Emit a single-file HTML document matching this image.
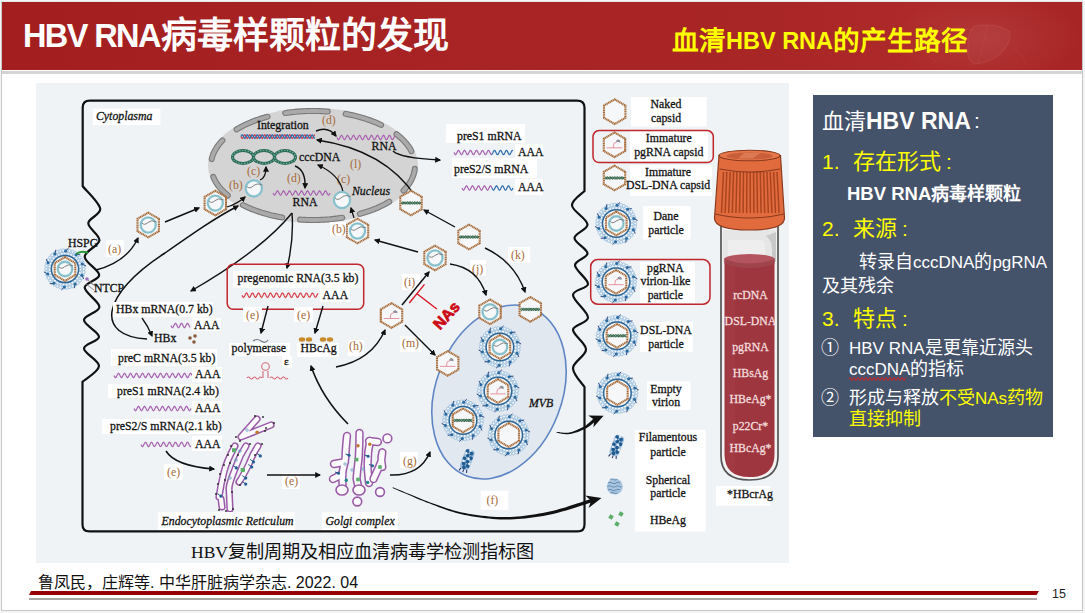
<!DOCTYPE html>
<html lang="zh-CN"><head><meta charset="utf-8"><title>HBV RNA</title>
<style>
*{margin:0;padding:0;box-sizing:border-box}
html,body{width:1085px;height:613px;overflow:hidden;background:#f4f4f4;font-family:"Liberation Sans",sans-serif}
#slide{position:absolute;left:1px;top:1px;width:1082px;height:610px;background:#fff;border-left:1px solid #c8c8c8;border-bottom:1px solid #c8c8c8;border-top:1px solid #e2e8ea;border-right:1px solid #c6c6c6}
#hdr{position:absolute;left:2px;top:2px;width:1080px;height:68px;background:linear-gradient(90deg,#a31f1f 0%,#a82424 40%,#a92626 70%,#ae2a2a 85%,#a82525 100%)}
#hdrline{position:absolute;left:2px;top:71px;width:1080px;height:3px;background:#d4d4d4}
.t{position:absolute;white-space:nowrap;line-height:1}
#title{left:23px;top:17px;color:#fff;font-weight:bold;font-size:32.5px;letter-spacing:-1.6px}
#title .c{font-size:36px;letter-spacing:0;position:relative;top:1px;margin-left:1px}
#sub{left:672px;top:27px;color:#ffff00;font-weight:bold;font-size:23.5px}
#sub .c{font-size:26.6px;position:relative;top:1px}
#box{position:absolute;left:813px;top:95px;width:240px;height:342px;background:#44526a}
#ref{left:38px;top:575px;font-size:16px;color:#111}
#redline{position:absolute;left:29px;top:591px;width:1010px;height:4px;background:#960000;clip-path:polygon(2px 0,100% 0,calc(100% - 2.5px) 100%,0 100%)}
#grayline{position:absolute;left:29px;top:598px;width:1008px;height:1.5px;background:#a8a8a8}
#pn{left:1052px;top:588px;font-size:12.5px;color:#222}
#cap{left:191px;top:542.5px;font-size:17.5px;color:#111;font-family:"Liberation Serif",serif}
#cap .c{font-family:"Liberation Sans",sans-serif;font-size:18.2px}
svg{position:absolute;left:0;top:0}
.bt{position:absolute;white-space:nowrap;line-height:1;color:#fff}
.y{color:#ffff00}
.c18{font-size:18px}
</style></head><body>
<div id="slide"></div>
<div id="hdr"><svg width="1080" height="68" viewBox="0 0 1080 68" style="position:absolute;left:0;top:0">
<defs><radialGradient id="hg" cx="0.5" cy="0.5" r="0.5"><stop offset="0" stop-color="#ffffff" stop-opacity="0.07"/><stop offset="1" stop-color="#ffffff" stop-opacity="0"/></radialGradient></defs>
<ellipse cx="985" cy="36" rx="95" ry="45" fill="url(#hg)"/>
<path d="M972,24 Q995,20 1008,30 Q1010,40 998,52 Q985,62 972,62 Q964,58 966,44 Q966,30 972,24 Z" fill="#ffffff" fill-opacity="0.035" stroke="#ffb0a0" stroke-opacity="0.09" stroke-width="1.2"/>
<path d="M972,28 Q950,22 925,34 Q915,48 935,60 M985,23 Q982,45 975,62 M1010,46 Q1022,52 1024,62" fill="none" stroke="#ffb0a0" stroke-opacity="0.06" stroke-width="1.2"/>
</svg></div>
<div id="hdrline"></div>
<div class="t" id="title">HBV RNA<span class="c">病毒样颗粒的发现</span></div>
<div class="t" id="sub"><span class="c">血清</span>HBV RNA<span class="c">的产生路径</span></div>
<svg width="1085" height="613" viewBox="0 0 1085 613">
<defs><marker id="ah" viewBox="0 0 10 10" refX="8" refY="5" markerWidth="6" markerHeight="6" orient="auto-start-reverse" markerUnits="userSpaceOnUse"><path d="M0,0 L10,5 L0,10 z" fill="#111"/></marker><marker id="ahb" viewBox="0 0 10 10" refX="7" refY="5" markerWidth="14" markerHeight="14" orient="auto" markerUnits="userSpaceOnUse"><path d="M0,0 L10,5 L0,10 z" fill="#111"/></marker></defs>
<rect x="36" y="83" width="753" height="480" fill="#eff3f6"/>
<path d="M90,100.6 L577,100.6 Q584.5,100.6 584.5,107.6 L584.5,191 C582.4,193.4 571.5,199.9 572.0,205.5 C572.5,211.1 587.1,218.9 587.5,224.3 C587.9,229.7 574.5,233.2 574.5,238.0 C574.5,242.8 587.4,248.8 587.5,253.4 C587.6,257.9 574.9,260.2 575.0,265.3 C575.1,270.4 588.3,279.1 588.0,284.0 C587.7,288.9 573.0,289.4 573.0,295.0 C573.0,300.6 588.0,311.7 588.0,317.5 C588.0,323.3 573.3,324.4 573.0,329.7 C572.7,335.0 586.0,343.0 586.0,349.4 C586.0,355.8 573.2,361.7 573.0,368.0 C572.8,374.3 582.6,383.8 584.5,387.0 L584.5,524.4 Q584.5,531.4 577.5,531.4 L89.5,531.4 Q82.5,531.4 82.5,524.4 L82.5,381.8 C85.2,379.2 98.8,371.6 99.0,366.0 C99.2,360.4 84.0,353.3 84.0,348.4 C84.0,343.5 99.0,341.4 99.0,336.7 C99.0,332.0 83.9,324.9 84.0,320.0 C84.1,315.1 99.3,312.4 99.4,307.0 C99.5,301.6 84.7,292.9 84.7,287.6 C84.7,282.3 99.2,280.1 99.2,275.0 C99.2,269.9 84.7,262.5 84.7,256.7 C84.7,250.9 98.8,246.0 99.4,240.4 C100.0,234.8 88.2,228.6 88.3,223.3 C88.4,218.0 101.1,214.8 100.2,208.6 C99.3,202.4 85.6,189.9 82.7,186.2 L82.7,107.6 Q82.7,100.6 89.7,100.6 Z" fill="none" stroke="#111" stroke-width="2.2"/>
<rect x="92.8" y="108.7" width="67.60000000000001" height="16.299999999999997" fill="#ffffff"/>
<text x="96" y="119.5" font-family="Liberation Serif" font-size="11.8" fill="#111" text-anchor="start" font-style="italic" stroke="#111" stroke-width="0.28">Cytoplasma</text>
<ellipse cx="313" cy="165.5" rx="105" ry="57.5" fill="#d4d4d4"/>
<path d="M389.3,201.7 L388.1,202.4 L386.8,203.1 L385.5,203.9 L384.1,204.6 L382.8,205.2 L381.4,205.9 L380.0,206.6 L378.6,207.2 L377.1,207.9 L375.7,208.5 L374.2,209.1 L372.7,209.7 L371.1,210.3 L369.6,210.9 L368.0,211.4 L366.4,211.9 L364.8,212.4 L363.2,212.9 L361.5,213.4 L359.9,213.9 M342.3,217.7 L340.3,218.0 L338.2,218.3 L336.1,218.6 L334.0,218.8 L332.0,219.1 L329.9,219.3 L327.8,219.4 L325.6,219.6 L323.5,219.7 L321.4,219.8 L319.3,219.9 L317.1,220.0 L315.0,220.0 L312.9,220.0 L310.8,220.0 L308.6,219.9 L306.5,219.9 L304.4,219.8 L302.2,219.7 L300.1,219.6 M282.3,217.5 L280.1,217.1 L277.9,216.7 L275.8,216.2 L273.6,215.8 L271.5,215.3 L269.4,214.8 L267.4,214.2 L265.3,213.7 L263.3,213.1 L261.3,212.5 L259.3,211.8 L257.4,211.2 L255.5,210.5 L253.6,209.8 L251.7,209.1 L249.9,208.3 L248.1,207.6 L246.4,206.8 L244.6,205.9 L242.9,205.1 M227.8,195.5 L226.8,194.6 L225.8,193.7 L224.8,192.9 L223.9,192.0 L223.0,191.1 L222.1,190.2 L221.2,189.3 L220.4,188.4 L219.7,187.5 L218.9,186.5 L218.2,185.6 L217.5,184.7 L216.9,183.7 L216.3,182.8 L215.7,181.8 L215.1,180.8 L214.6,179.9 L214.1,178.9 L213.7,177.9 L213.3,176.9 M211.7,159.1 L211.9,158.1 L212.2,157.1 L212.5,156.2 L212.8,155.2 L213.2,154.2 L213.6,153.3 L214.0,152.3 L214.5,151.4 L215.0,150.4 L215.5,149.5 L216.1,148.6 L216.6,147.6 L217.3,146.7 L217.9,145.8 L218.6,144.9 L219.3,144.0 L220.0,143.1 L220.8,142.2 L221.6,141.3 L222.4,140.4 M236.6,129.4 L237.9,128.6 L239.2,127.9 L240.6,127.1 L242.0,126.4 L243.4,125.6 L244.9,124.9 L246.4,124.2 L247.9,123.6 L249.4,122.9 L250.9,122.3 L252.5,121.6 L254.1,121.0 L255.7,120.4 L257.3,119.8 L259.0,119.3 L260.7,118.7 L262.4,118.2 L264.1,117.7 L265.8,117.2 L267.6,116.7 M285.2,113.1 L287.2,112.8 L289.3,112.5 L291.4,112.2 L293.5,112.0 L295.6,111.8 L297.8,111.6 L299.9,111.5 L302.0,111.3 L304.2,111.2 L306.3,111.1 L308.5,111.1 L310.6,111.0 L312.8,111.0 L314.9,111.0 L317.1,111.0 L319.2,111.1 L321.4,111.2 L323.5,111.3 L325.6,111.4 L327.8,111.6 M345.6,113.9 L347.5,114.2 L349.5,114.6 L351.4,115.0 L353.3,115.4 L355.2,115.9 L357.1,116.4 L359.0,116.8 L360.8,117.4 L362.6,117.9 L364.4,118.4 L366.2,119.0 L367.9,119.6 L369.7,120.2 L371.4,120.8 L373.1,121.5 L374.7,122.1 L376.4,122.8 L378.0,123.5 L379.6,124.2 L381.1,124.9 M396.5,134.2 L397.5,135.0 L398.5,135.8 L399.4,136.6 L400.4,137.4 L401.3,138.2 L402.1,139.0 L403.0,139.8 L403.8,140.7 L404.6,141.5 L405.4,142.4 L406.1,143.2 L406.8,144.1 L407.5,145.0 L408.1,145.9 L408.8,146.7 L409.4,147.6 L409.9,148.5 L410.5,149.4 L411.0,150.3 L411.4,151.2 M414.8,168.8 L414.7,170.0 L414.5,171.1 L414.2,172.3 L413.9,173.4 L413.6,174.5 L413.2,175.6 L412.8,176.7 L412.3,177.9 L411.8,179.0 L411.3,180.1 L410.7,181.2 L410.1,182.2 L409.4,183.3 L408.7,184.4 L407.9,185.5 L407.1,186.5 L406.3,187.6 L405.4,188.6 L404.5,189.6 L403.5,190.6" fill="none" stroke="#7a7a7a" stroke-width="6" stroke-linecap="round"/>
<path d="M389.3,201.7 L388.1,202.4 L386.8,203.1 L385.5,203.9 L384.1,204.6 L382.8,205.2 L381.4,205.9 L380.0,206.6 L378.6,207.2 L377.1,207.9 L375.7,208.5 L374.2,209.1 L372.7,209.7 L371.1,210.3 L369.6,210.9 L368.0,211.4 L366.4,211.9 L364.8,212.4 L363.2,212.9 L361.5,213.4 L359.9,213.9 M342.3,217.7 L340.3,218.0 L338.2,218.3 L336.1,218.6 L334.0,218.8 L332.0,219.1 L329.9,219.3 L327.8,219.4 L325.6,219.6 L323.5,219.7 L321.4,219.8 L319.3,219.9 L317.1,220.0 L315.0,220.0 L312.9,220.0 L310.8,220.0 L308.6,219.9 L306.5,219.9 L304.4,219.8 L302.2,219.7 L300.1,219.6 M282.3,217.5 L280.1,217.1 L277.9,216.7 L275.8,216.2 L273.6,215.8 L271.5,215.3 L269.4,214.8 L267.4,214.2 L265.3,213.7 L263.3,213.1 L261.3,212.5 L259.3,211.8 L257.4,211.2 L255.5,210.5 L253.6,209.8 L251.7,209.1 L249.9,208.3 L248.1,207.6 L246.4,206.8 L244.6,205.9 L242.9,205.1 M227.8,195.5 L226.8,194.6 L225.8,193.7 L224.8,192.9 L223.9,192.0 L223.0,191.1 L222.1,190.2 L221.2,189.3 L220.4,188.4 L219.7,187.5 L218.9,186.5 L218.2,185.6 L217.5,184.7 L216.9,183.7 L216.3,182.8 L215.7,181.8 L215.1,180.8 L214.6,179.9 L214.1,178.9 L213.7,177.9 L213.3,176.9 M211.7,159.1 L211.9,158.1 L212.2,157.1 L212.5,156.2 L212.8,155.2 L213.2,154.2 L213.6,153.3 L214.0,152.3 L214.5,151.4 L215.0,150.4 L215.5,149.5 L216.1,148.6 L216.6,147.6 L217.3,146.7 L217.9,145.8 L218.6,144.9 L219.3,144.0 L220.0,143.1 L220.8,142.2 L221.6,141.3 L222.4,140.4 M236.6,129.4 L237.9,128.6 L239.2,127.9 L240.6,127.1 L242.0,126.4 L243.4,125.6 L244.9,124.9 L246.4,124.2 L247.9,123.6 L249.4,122.9 L250.9,122.3 L252.5,121.6 L254.1,121.0 L255.7,120.4 L257.3,119.8 L259.0,119.3 L260.7,118.7 L262.4,118.2 L264.1,117.7 L265.8,117.2 L267.6,116.7 M285.2,113.1 L287.2,112.8 L289.3,112.5 L291.4,112.2 L293.5,112.0 L295.6,111.8 L297.8,111.6 L299.9,111.5 L302.0,111.3 L304.2,111.2 L306.3,111.1 L308.5,111.1 L310.6,111.0 L312.8,111.0 L314.9,111.0 L317.1,111.0 L319.2,111.1 L321.4,111.2 L323.5,111.3 L325.6,111.4 L327.8,111.6 M345.6,113.9 L347.5,114.2 L349.5,114.6 L351.4,115.0 L353.3,115.4 L355.2,115.9 L357.1,116.4 L359.0,116.8 L360.8,117.4 L362.6,117.9 L364.4,118.4 L366.2,119.0 L367.9,119.6 L369.7,120.2 L371.4,120.8 L373.1,121.5 L374.7,122.1 L376.4,122.8 L378.0,123.5 L379.6,124.2 L381.1,124.9 M396.5,134.2 L397.5,135.0 L398.5,135.8 L399.4,136.6 L400.4,137.4 L401.3,138.2 L402.1,139.0 L403.0,139.8 L403.8,140.7 L404.6,141.5 L405.4,142.4 L406.1,143.2 L406.8,144.1 L407.5,145.0 L408.1,145.9 L408.8,146.7 L409.4,147.6 L409.9,148.5 L410.5,149.4 L411.0,150.3 L411.4,151.2 M414.8,168.8 L414.7,170.0 L414.5,171.1 L414.2,172.3 L413.9,173.4 L413.6,174.5 L413.2,175.6 L412.8,176.7 L412.3,177.9 L411.8,179.0 L411.3,180.1 L410.7,181.2 L410.1,182.2 L409.4,183.3 L408.7,184.4 L407.9,185.5 L407.1,186.5 L406.3,187.6 L405.4,188.6 L404.5,189.6 L403.5,190.6" fill="none" stroke="#aaaaaa" stroke-width="3.8" stroke-linecap="round"/>
<text x="257" y="129" font-family="Liberation Serif" font-size="11.8" fill="#111" text-anchor="start" stroke="#111" stroke-width="0.28">Integration</text>
<path d="M241.0,136.6 L241.6,137.9 L242.3,138.4 L242.9,137.9 L243.5,136.6 L244.1,135.3 L244.8,134.8 L245.4,135.4 L246.0,136.6 L246.6,137.9 L247.3,138.4 L247.9,137.8 L248.5,136.5 L249.2,135.3 L249.8,134.8 L250.4,135.4 L251.0,136.7 L251.7,137.9 L252.3,138.4 L252.9,137.8 L253.5,136.5 L254.2,135.3 L254.8,134.8 L255.4,135.4 L256.1,136.7 L256.7,138.0 L257.3,138.4 L257.9,137.8 L258.6,136.5 L259.2,135.2 L259.8,134.8 L260.4,135.4 L261.1,136.8 L261.7,138.0 L262.3,138.4 L262.9,137.7 L263.6,136.4 L264.2,135.2 L264.8,134.8 L265.5,135.5 L266.1,136.8 L266.7,138.0 L267.3,138.4 L268.0,137.7 L268.6,136.4 L269.2,135.2 L269.8,134.8 L270.5,135.5 L271.1,136.8 L271.7,138.0 L272.4,138.4 L273.0,137.7 L273.6,136.4 L274.2,135.2 L274.9,134.8 L275.5,135.5 L276.1,136.9 L276.7,138.1 L277.4,138.4 L278.0,137.7 L278.6,136.3 L279.3,135.1 L279.9,134.8 L280.5,135.6 L281.1,136.9 L281.8,138.1 L282.4,138.4 L283.0,137.6 L283.6,136.3 L284.3,135.1 L284.9,134.8 L285.5,135.6 L286.2,136.9 L286.8,138.1 L287.4,138.4 L288.0,137.6 L288.7,136.2 L289.3,135.1 L289.9,134.8 L290.5,135.6 L291.2,137.0 L291.8,138.1 L292.4,138.4 L293.1,137.6 L293.7,136.2 L294.3,135.1 L294.9,134.8 L295.6,135.7 L296.2,137.0 L296.8,138.1 L297.4,138.3 L298.1,137.5 L298.7,136.2 L299.3,135.1 L299.9,134.9 L300.6,135.7 L301.2,137.1 L301.8,138.2 L302.5,138.3 L303.1,137.5 L303.7,136.1 L304.3,135.0 L305.0,134.9 L305.6,135.7 L306.2,137.1 L306.8,138.2 L307.5,138.3 L308.1,137.5 L308.7,136.1 L309.4,135.0 L310.0,134.9 L310.6,135.8 L311.2,137.1 L311.9,138.2 L312.5,138.3 L313.1,137.4 L313.7,136.1 L314.4,135.0 L315.0,134.9" fill="none" stroke="#d04050" stroke-width="1.3"/>
<path d="M241.0,136.6 L241.6,135.3 L242.3,134.8 L242.9,135.3 L243.5,136.6 L244.1,137.9 L244.8,138.4 L245.4,137.8 L246.0,136.6 L246.6,135.3 L247.3,134.8 L247.9,135.4 L248.5,136.7 L249.2,137.9 L249.8,138.4 L250.4,137.8 L251.0,136.5 L251.7,135.3 L252.3,134.8 L252.9,135.4 L253.5,136.7 L254.2,137.9 L254.8,138.4 L255.4,137.8 L256.1,136.5 L256.7,135.2 L257.3,134.8 L257.9,135.4 L258.6,136.7 L259.2,138.0 L259.8,138.4 L260.4,137.8 L261.1,136.4 L261.7,135.2 L262.3,134.8 L262.9,135.5 L263.6,136.8 L264.2,138.0 L264.8,138.4 L265.5,137.7 L266.1,136.4 L266.7,135.2 L267.3,134.8 L268.0,135.5 L268.6,136.8 L269.2,138.0 L269.8,138.4 L270.5,137.7 L271.1,136.4 L271.7,135.2 L272.4,134.8 L273.0,135.5 L273.6,136.8 L274.2,138.0 L274.9,138.4 L275.5,137.7 L276.1,136.3 L276.7,135.1 L277.4,134.8 L278.0,135.5 L278.6,136.9 L279.3,138.1 L279.9,138.4 L280.5,137.6 L281.1,136.3 L281.8,135.1 L282.4,134.8 L283.0,135.6 L283.6,136.9 L284.3,138.1 L284.9,138.4 L285.5,137.6 L286.2,136.3 L286.8,135.1 L287.4,134.8 L288.0,135.6 L288.7,137.0 L289.3,138.1 L289.9,138.4 L290.5,137.6 L291.2,136.2 L291.8,135.1 L292.4,134.8 L293.1,135.6 L293.7,137.0 L294.3,138.1 L294.9,138.4 L295.6,137.5 L296.2,136.2 L296.8,135.1 L297.4,134.9 L298.1,135.7 L298.7,137.0 L299.3,138.1 L299.9,138.3 L300.6,137.5 L301.2,136.1 L301.8,135.0 L302.5,134.9 L303.1,135.7 L303.7,137.1 L304.3,138.2 L305.0,138.3 L305.6,137.5 L306.2,136.1 L306.8,135.0 L307.5,134.9 L308.1,135.7 L308.7,137.1 L309.4,138.2 L310.0,138.3 L310.6,137.4 L311.2,136.1 L311.9,135.0 L312.5,134.9 L313.1,135.8 L313.7,137.1 L314.4,138.2 L315.0,138.3" fill="none" stroke="#3070b0" stroke-width="1.3"/>
<text x="322" y="124" font-family="Liberation Serif" font-size="11.8" fill="#a66b38" text-anchor="start">(d)</text>
<path d="M316,131 Q328,126 336,136" fill="none" stroke="#111" stroke-width="1.5" marker-end="url(#ah)"/>
<path d="M337.0,137.5 L337.8,139.1 L338.5,139.7 L339.3,139.0 L340.0,137.5 L340.8,135.9 L341.5,135.3 L342.3,136.0 L343.0,137.6 L343.8,139.1 L344.5,139.7 L345.3,139.0 L346.0,137.4 L346.8,135.9 L347.5,135.3 L348.3,136.0 L349.1,137.6 L349.8,139.1 L350.6,139.7 L351.3,139.0 L352.1,137.4 L352.8,135.8 L353.6,135.3 L354.3,136.1 L355.1,137.7 L355.8,139.2 L356.6,139.7 L357.3,138.9 L358.1,137.3 L358.8,135.8 L359.6,135.3 L360.4,136.1 L361.1,137.7 L361.9,139.2 L362.6,139.7 L363.4,138.9 L364.1,137.2 L364.9,135.8 L365.6,135.3 L366.4,136.2 L367.1,137.8 L367.9,139.3 L368.6,139.7 L369.4,138.8 L370.1,137.2 L370.9,135.7 L371.6,135.3 L372.4,136.2 L373.2,137.9 L373.9,139.3 L374.7,139.7 L375.4,138.8 L376.2,137.1 L376.9,135.7 L377.7,135.3 L378.4,136.3 L379.2,137.9 L379.9,139.3 L380.7,139.7 L381.4,138.7 L382.2,137.1 L382.9,135.7 L383.7,135.3 L384.5,136.3 L385.2,138.0 L386.0,139.4 L386.7,139.6 L387.5,138.7 L388.2,137.0 L389.0,135.6 L389.7,135.4 L390.5,136.4 L391.2,138.0 L392.0,139.4 L392.7,139.6 L393.5,138.6 L394.2,136.9 L395.0,135.6" fill="none" stroke="#a862b0" stroke-width="1.2"/>
<text x="384" y="150" font-family="Liberation Serif" font-size="11.8" fill="#111" text-anchor="middle" stroke="#111" stroke-width="0.28">RNA</text>
<ellipse cx="243" cy="157" rx="10.5" ry="6.5" fill="none" stroke="#2a6a58" stroke-width="3"/>
<ellipse cx="243" cy="157" rx="10.5" ry="6.5" fill="none" stroke="#7ab8a0" stroke-width="1.2" stroke-dasharray="1.2 1.6"/>
<ellipse cx="264" cy="157" rx="10.5" ry="6.5" fill="none" stroke="#2a6a58" stroke-width="3"/>
<ellipse cx="264" cy="157" rx="10.5" ry="6.5" fill="none" stroke="#7ab8a0" stroke-width="1.2" stroke-dasharray="1.2 1.6"/>
<ellipse cx="285" cy="157" rx="10.5" ry="6.5" fill="none" stroke="#2a6a58" stroke-width="3"/>
<ellipse cx="285" cy="157" rx="10.5" ry="6.5" fill="none" stroke="#7ab8a0" stroke-width="1.2" stroke-dasharray="1.2 1.6"/>
<text x="299" y="161" font-family="Liberation Serif" font-size="11.8" fill="#111" text-anchor="start" stroke="#111" stroke-width="0.28">cccDNA</text>
<text x="350" y="168" font-family="Liberation Serif" font-size="11.8" fill="#a66b38" text-anchor="start">(l)</text>
<text x="247" y="175" font-family="Liberation Serif" font-size="11.8" fill="#a66b38" text-anchor="start">(c)</text>
<path d="M260,180 Q266,178 266,167" fill="none" stroke="#111" stroke-width="1.3" marker-end="url(#ah)"/>
<text x="229" y="189" font-family="Liberation Serif" font-size="11.8" fill="#a66b38" text-anchor="start">(b)</text>
<circle cx="253.8" cy="188.4" r="8.100000000000001" fill="#f5f7f8" stroke="#92c8d2" stroke-width="2.3"/>
<circle cx="253.8" cy="188.4" r="8.100000000000001" fill="none" stroke="#5fa5b5" stroke-width="0.7" stroke-dasharray="0.8 0.8"/>
<path d="M246.7,186.2 q2.8,3.3 6.5,-0.2 t9.3,-0.8" fill="none" stroke="#808080" stroke-width="1"/>
<text x="287" y="182" font-family="Liberation Serif" font-size="11.8" fill="#a66b38" text-anchor="start">(d)</text>
<path d="M295,166 Q306,170 305,188" fill="none" stroke="#111" stroke-width="1.4" marker-end="url(#ah)"/>
<path d="M273.0,193.0 L273.8,194.6 L274.5,195.2 L275.2,194.6 L276.0,193.0 L276.8,191.4 L277.5,190.8 L278.2,191.4 L279.0,193.0 L279.8,194.6 L280.5,195.2 L281.2,194.6 L282.0,193.0 L282.8,191.4 L283.5,190.8 L284.2,191.4 L285.0,193.0 L285.8,194.6 L286.5,195.2 L287.2,194.6 L288.0,193.0 L288.8,191.4 L289.5,190.8 L290.2,191.4 L291.0,193.0 L291.8,194.6 L292.5,195.2 L293.2,194.6 L294.0,193.0 L294.8,191.4 L295.5,190.8 L296.2,191.4 L297.0,193.0 L297.8,194.6 L298.5,195.2 L299.2,194.6 L300.0,193.0 L300.8,191.4 L301.5,190.8 L302.2,191.4 L303.0,193.0 L303.8,194.6 L304.5,195.2 L305.2,194.6 L306.0,193.0 L306.8,191.4 L307.5,190.8 L308.2,191.4 L309.0,193.0 L309.8,194.6 L310.5,195.2 L311.2,194.6 L312.0,193.0 L312.8,191.4 L313.5,190.8 L314.2,191.4 L315.0,193.0 L315.8,194.6 L316.5,195.2 L317.2,194.6 L318.0,193.0 L318.8,191.4 L319.5,190.8 L320.2,191.4 L321.0,193.0 L321.8,194.6 L322.5,195.2 L323.2,194.6 L324.0,193.0 L324.8,191.4 L325.5,190.8 L326.2,191.4 L327.0,193.0 L327.8,194.6 L328.5,195.2 L329.2,194.6 L330.0,193.0" fill="none" stroke="#a862b0" stroke-width="1.2"/>
<text x="305" y="206" font-family="Liberation Serif" font-size="11.8" fill="#111" text-anchor="middle" stroke="#111" stroke-width="0.28">RNA</text>
<text x="337" y="183" font-family="Liberation Serif" font-size="11.8" fill="#a66b38" text-anchor="start">(c)</text>
<path d="M343,192 Q340,175 318,165" fill="none" stroke="#111" stroke-width="1.3" marker-end="url(#ah)"/>
<circle cx="342" cy="200" r="8.100000000000001" fill="#f5f7f8" stroke="#92c8d2" stroke-width="2.3"/>
<circle cx="342" cy="200" r="8.100000000000001" fill="none" stroke="#5fa5b5" stroke-width="0.7" stroke-dasharray="0.8 0.8"/>
<path d="M334.9,197.8 q2.8,3.3 6.5,-0.2 t9.3,-0.8" fill="none" stroke="#808080" stroke-width="1"/>
<text x="352" y="195" font-family="Liberation Serif" font-size="11.8" fill="#111" text-anchor="start" font-style="italic" stroke="#111" stroke-width="0.28">Nucleus</text>
<path d="M416,197 Q385,150 317,140" fill="none" stroke="#111" stroke-width="1.3" marker-end="url(#ah)"/>
<path d="M393,151 Q400,158 440,160" fill="none" stroke="#111" stroke-width="1.4" marker-end="url(#ah)"/>
<polygon points="148.2,212.7 158.9,218.8 158.9,231.2 148.2,237.3 137.5,231.2 137.5,218.8" fill="#f6f7f8" stroke="#a66b38" stroke-width="2.1" stroke-dasharray="1.3 0.45"/>
<circle cx="148.2" cy="225" r="7.533" fill="#f5f7f8" stroke="#92c8d2" stroke-width="2.3"/>
<circle cx="148.2" cy="225" r="7.533" fill="none" stroke="#5fa5b5" stroke-width="0.7" stroke-dasharray="0.8 0.8"/>
<path d="M141.7,222.8 q2.6,3.1 6.1,-0.2 t8.7,-0.8" fill="none" stroke="#808080" stroke-width="1"/>
<polygon points="215.3,190.8 226.0,196.9 226.0,209.2 215.3,215.4 204.6,209.2 204.6,196.9" fill="#f6f7f8" stroke="#a66b38" stroke-width="2.1" stroke-dasharray="1.3 0.45"/>
<circle cx="215.3" cy="203.1" r="7.533" fill="#f5f7f8" stroke="#92c8d2" stroke-width="2.3"/>
<circle cx="215.3" cy="203.1" r="7.533" fill="none" stroke="#5fa5b5" stroke-width="0.7" stroke-dasharray="0.8 0.8"/>
<path d="M208.8,200.9 q2.6,3.1 6.1,-0.2 t8.7,-0.8" fill="none" stroke="#808080" stroke-width="1"/>
<path d="M165,222 L199,208" fill="none" stroke="#111" stroke-width="1.5" marker-end="url(#ah)"/>
<path d="M227,207 Q237,204 245,197" fill="none" stroke="#111" stroke-width="1.2" marker-end="url(#ah)"/>
<polygon points="411.0,190.7 421.7,196.8 421.7,209.2 411.0,215.3 400.3,209.2 400.3,196.8" fill="#f6f7f8" stroke="#a66b38" stroke-width="2.1" stroke-dasharray="1.3 0.45"/>
<line x1="401.4675" y1="203" x2="420.5325" y2="203" stroke="#a8d8b4" stroke-width="1.4"/>
<path d="M401.5,203.0 L401.9,203.9 L402.3,204.3 L402.8,203.9 L403.2,202.9 L403.6,202.0 L404.1,201.7 L404.5,202.2 L404.9,203.2 L405.4,204.0 L405.8,204.3 L406.2,203.8 L406.7,202.8 L407.1,201.9 L407.5,201.7 L408.0,202.3 L408.4,203.3 L408.8,204.1 L409.3,204.3 L409.7,203.6 L410.1,202.6 L410.6,201.8 L411.0,201.8 L411.4,202.5 L411.9,203.5 L412.3,204.2 L412.7,204.2 L413.2,203.5 L413.6,202.5 L414.0,201.8 L414.5,201.8 L414.9,202.6 L415.3,203.6 L415.8,204.2 L416.2,204.1 L416.6,203.3 L417.1,202.3 L417.5,201.7 L417.9,201.9 L418.4,202.8 L418.8,203.7 L419.2,204.3 L419.7,204.0 L420.1,203.2 L420.5,202.2" fill="none" stroke="#1a3a28" stroke-width="0.9"/>
<path d="M401.5,203.0 L401.9,202.1 L402.3,201.7 L402.8,202.1 L403.2,203.1 L403.6,204.0 L404.1,204.3 L404.5,203.8 L404.9,202.8 L405.4,202.0 L405.8,201.7 L406.2,202.2 L406.7,203.2 L407.1,204.1 L407.5,204.3 L408.0,203.7 L408.4,202.7 L408.8,201.9 L409.3,201.7 L409.7,202.4 L410.1,203.4 L410.6,204.2 L411.0,204.2 L411.4,203.5 L411.9,202.5 L412.3,201.8 L412.7,201.8 L413.2,202.5 L413.6,203.5 L414.0,204.2 L414.5,204.2 L414.9,203.4 L415.3,202.4 L415.8,201.8 L416.2,201.9 L416.6,202.7 L417.1,203.7 L417.5,204.3 L417.9,204.1 L418.4,203.2 L418.8,202.3 L419.2,201.7 L419.7,202.0 L420.1,202.8 L420.5,203.8" fill="none" stroke="#2e6a4a" stroke-width="0.9"/>
<polygon points="357.5,218.7 368.2,224.8 368.2,237.2 357.5,243.3 346.8,237.2 346.8,224.8" fill="#f6f7f8" stroke="#a66b38" stroke-width="2.1" stroke-dasharray="1.3 0.45"/>
<circle cx="357.5" cy="231" r="7.533" fill="#f5f7f8" stroke="#92c8d2" stroke-width="2.3"/>
<circle cx="357.5" cy="231" r="7.533" fill="none" stroke="#5fa5b5" stroke-width="0.7" stroke-dasharray="0.8 0.8"/>
<path d="M351.0,228.8 q2.6,3.1 6.1,-0.2 t8.7,-0.8" fill="none" stroke="#808080" stroke-width="1"/>
<rect x="330" y="222" width="16" height="14" fill="#ffffff"/>
<text x="332" y="233" font-family="Liberation Serif" font-size="11.8" fill="#a66b38" text-anchor="start">(b)</text>
<path d="M354,218 L351,208" fill="none" stroke="#111" stroke-width="1.2" marker-end="url(#ah)"/>
<circle cx="83.8" cy="269.0" r="1.55" fill="#eef4fa" stroke="#9cbedb" stroke-width="0.9"/>
<circle cx="83.5" cy="272.1" r="1.55" fill="#eef4fa" stroke="#9cbedb" stroke-width="0.9"/>
<circle cx="82.8" cy="275.1" r="1.55" fill="#eef4fa" stroke="#9cbedb" stroke-width="0.9"/>
<circle cx="81.5" cy="277.9" r="1.55" fill="#eef4fa" stroke="#9cbedb" stroke-width="0.9"/>
<circle cx="79.8" cy="280.5" r="1.55" fill="#eef4fa" stroke="#9cbedb" stroke-width="0.9"/>
<circle cx="77.7" cy="282.8" r="1.55" fill="#eef4fa" stroke="#9cbedb" stroke-width="0.9"/>
<circle cx="75.3" cy="284.7" r="1.55" fill="#eef4fa" stroke="#9cbedb" stroke-width="0.9"/>
<circle cx="72.6" cy="286.2" r="1.55" fill="#eef4fa" stroke="#9cbedb" stroke-width="0.9"/>
<circle cx="69.6" cy="287.2" r="1.55" fill="#eef4fa" stroke="#9cbedb" stroke-width="0.9"/>
<circle cx="66.6" cy="287.7" r="1.55" fill="#eef4fa" stroke="#9cbedb" stroke-width="0.9"/>
<circle cx="63.4" cy="287.7" r="1.55" fill="#eef4fa" stroke="#9cbedb" stroke-width="0.9"/>
<circle cx="60.4" cy="287.2" r="1.55" fill="#eef4fa" stroke="#9cbedb" stroke-width="0.9"/>
<circle cx="57.4" cy="286.2" r="1.55" fill="#eef4fa" stroke="#9cbedb" stroke-width="0.9"/>
<circle cx="54.7" cy="284.7" r="1.55" fill="#eef4fa" stroke="#9cbedb" stroke-width="0.9"/>
<circle cx="52.3" cy="282.8" r="1.55" fill="#eef4fa" stroke="#9cbedb" stroke-width="0.9"/>
<circle cx="50.2" cy="280.5" r="1.55" fill="#eef4fa" stroke="#9cbedb" stroke-width="0.9"/>
<circle cx="48.5" cy="277.9" r="1.55" fill="#eef4fa" stroke="#9cbedb" stroke-width="0.9"/>
<circle cx="47.2" cy="275.1" r="1.55" fill="#eef4fa" stroke="#9cbedb" stroke-width="0.9"/>
<circle cx="46.5" cy="272.1" r="1.55" fill="#eef4fa" stroke="#9cbedb" stroke-width="0.9"/>
<circle cx="46.2" cy="269.0" r="1.55" fill="#eef4fa" stroke="#9cbedb" stroke-width="0.9"/>
<circle cx="46.5" cy="265.9" r="1.55" fill="#eef4fa" stroke="#9cbedb" stroke-width="0.9"/>
<circle cx="47.2" cy="262.9" r="1.55" fill="#eef4fa" stroke="#9cbedb" stroke-width="0.9"/>
<circle cx="48.5" cy="260.1" r="1.55" fill="#eef4fa" stroke="#9cbedb" stroke-width="0.9"/>
<circle cx="50.2" cy="257.5" r="1.55" fill="#eef4fa" stroke="#9cbedb" stroke-width="0.9"/>
<circle cx="52.3" cy="255.2" r="1.55" fill="#eef4fa" stroke="#9cbedb" stroke-width="0.9"/>
<circle cx="54.7" cy="253.3" r="1.55" fill="#eef4fa" stroke="#9cbedb" stroke-width="0.9"/>
<circle cx="57.4" cy="251.8" r="1.55" fill="#eef4fa" stroke="#9cbedb" stroke-width="0.9"/>
<circle cx="60.4" cy="250.8" r="1.55" fill="#eef4fa" stroke="#9cbedb" stroke-width="0.9"/>
<circle cx="63.4" cy="250.3" r="1.55" fill="#eef4fa" stroke="#9cbedb" stroke-width="0.9"/>
<circle cx="66.6" cy="250.3" r="1.55" fill="#eef4fa" stroke="#9cbedb" stroke-width="0.9"/>
<circle cx="69.6" cy="250.8" r="1.55" fill="#eef4fa" stroke="#9cbedb" stroke-width="0.9"/>
<circle cx="72.6" cy="251.8" r="1.55" fill="#eef4fa" stroke="#9cbedb" stroke-width="0.9"/>
<circle cx="75.3" cy="253.3" r="1.55" fill="#eef4fa" stroke="#9cbedb" stroke-width="0.9"/>
<circle cx="77.7" cy="255.2" r="1.55" fill="#eef4fa" stroke="#9cbedb" stroke-width="0.9"/>
<circle cx="79.8" cy="257.5" r="1.55" fill="#eef4fa" stroke="#9cbedb" stroke-width="0.9"/>
<circle cx="81.5" cy="260.1" r="1.55" fill="#eef4fa" stroke="#9cbedb" stroke-width="0.9"/>
<circle cx="82.8" cy="262.9" r="1.55" fill="#eef4fa" stroke="#9cbedb" stroke-width="0.9"/>
<circle cx="83.5" cy="265.9" r="1.55" fill="#eef4fa" stroke="#9cbedb" stroke-width="0.9"/>
<circle cx="80.4" cy="269.8" r="1.55" fill="#eef4fa" stroke="#9cbedb" stroke-width="0.9"/>
<circle cx="79.9" cy="272.9" r="1.55" fill="#eef4fa" stroke="#9cbedb" stroke-width="0.9"/>
<circle cx="78.8" cy="275.8" r="1.55" fill="#eef4fa" stroke="#9cbedb" stroke-width="0.9"/>
<circle cx="77.2" cy="278.4" r="1.55" fill="#eef4fa" stroke="#9cbedb" stroke-width="0.9"/>
<circle cx="75.0" cy="280.7" r="1.55" fill="#eef4fa" stroke="#9cbedb" stroke-width="0.9"/>
<circle cx="72.5" cy="282.5" r="1.55" fill="#eef4fa" stroke="#9cbedb" stroke-width="0.9"/>
<circle cx="69.6" cy="283.7" r="1.55" fill="#eef4fa" stroke="#9cbedb" stroke-width="0.9"/>
<circle cx="66.6" cy="284.3" r="1.55" fill="#eef4fa" stroke="#9cbedb" stroke-width="0.9"/>
<circle cx="63.5" cy="284.3" r="1.55" fill="#eef4fa" stroke="#9cbedb" stroke-width="0.9"/>
<circle cx="60.4" cy="283.7" r="1.55" fill="#eef4fa" stroke="#9cbedb" stroke-width="0.9"/>
<circle cx="57.5" cy="282.5" r="1.55" fill="#eef4fa" stroke="#9cbedb" stroke-width="0.9"/>
<circle cx="55.0" cy="280.7" r="1.55" fill="#eef4fa" stroke="#9cbedb" stroke-width="0.9"/>
<circle cx="52.8" cy="278.4" r="1.55" fill="#eef4fa" stroke="#9cbedb" stroke-width="0.9"/>
<circle cx="51.2" cy="275.8" r="1.55" fill="#eef4fa" stroke="#9cbedb" stroke-width="0.9"/>
<circle cx="50.1" cy="272.9" r="1.55" fill="#eef4fa" stroke="#9cbedb" stroke-width="0.9"/>
<circle cx="49.6" cy="269.8" r="1.55" fill="#eef4fa" stroke="#9cbedb" stroke-width="0.9"/>
<circle cx="49.8" cy="266.7" r="1.55" fill="#eef4fa" stroke="#9cbedb" stroke-width="0.9"/>
<circle cx="50.6" cy="263.7" r="1.55" fill="#eef4fa" stroke="#9cbedb" stroke-width="0.9"/>
<circle cx="51.9" cy="260.9" r="1.55" fill="#eef4fa" stroke="#9cbedb" stroke-width="0.9"/>
<circle cx="53.8" cy="258.4" r="1.55" fill="#eef4fa" stroke="#9cbedb" stroke-width="0.9"/>
<circle cx="56.2" cy="256.4" r="1.55" fill="#eef4fa" stroke="#9cbedb" stroke-width="0.9"/>
<circle cx="58.9" cy="254.9" r="1.55" fill="#eef4fa" stroke="#9cbedb" stroke-width="0.9"/>
<circle cx="61.9" cy="253.9" r="1.55" fill="#eef4fa" stroke="#9cbedb" stroke-width="0.9"/>
<circle cx="65.0" cy="253.6" r="1.55" fill="#eef4fa" stroke="#9cbedb" stroke-width="0.9"/>
<circle cx="68.1" cy="253.9" r="1.55" fill="#eef4fa" stroke="#9cbedb" stroke-width="0.9"/>
<circle cx="71.1" cy="254.8" r="1.55" fill="#eef4fa" stroke="#9cbedb" stroke-width="0.9"/>
<circle cx="73.8" cy="256.4" r="1.55" fill="#eef4fa" stroke="#9cbedb" stroke-width="0.9"/>
<circle cx="76.2" cy="258.4" r="1.55" fill="#eef4fa" stroke="#9cbedb" stroke-width="0.9"/>
<circle cx="78.1" cy="260.8" r="1.55" fill="#eef4fa" stroke="#9cbedb" stroke-width="0.9"/>
<circle cx="79.4" cy="263.6" r="1.55" fill="#eef4fa" stroke="#9cbedb" stroke-width="0.9"/>
<circle cx="80.2" cy="266.7" r="1.55" fill="#eef4fa" stroke="#9cbedb" stroke-width="0.9"/>
<circle cx="65" cy="269" r="13.6" fill="#f7f8fa" stroke="#2f6796" stroke-width="1.5"/>
<line x1="81.9" y1="275.2" x2="83.8" y2="279.0" stroke="#2a3f78" stroke-width="0.9"/>
<circle cx="81.9" cy="275.2" r="1.5" fill="#2a6aa0"/>
<line x1="75.1" y1="283.9" x2="74.3" y2="288.2" stroke="#2a3f78" stroke-width="0.9"/>
<circle cx="75.1" cy="283.9" r="1.5" fill="#2a6aa0"/>
<line x1="64.4" y1="287.0" x2="61.3" y2="290.0" stroke="#2a3f78" stroke-width="0.9"/>
<circle cx="64.4" cy="287.0" r="1.5" fill="#2a6aa0"/>
<line x1="53.9" y1="283.2" x2="49.7" y2="283.8" stroke="#2a3f78" stroke-width="0.9"/>
<circle cx="53.9" cy="283.2" r="1.5" fill="#2a6aa0"/>
<line x1="47.7" y1="273.9" x2="43.9" y2="271.9" stroke="#2a3f78" stroke-width="0.9"/>
<circle cx="47.7" cy="273.9" r="1.5" fill="#2a6aa0"/>
<line x1="48.1" y1="262.8" x2="46.2" y2="259.0" stroke="#2a3f78" stroke-width="0.9"/>
<circle cx="48.1" cy="262.8" r="1.5" fill="#2a6aa0"/>
<line x1="54.9" y1="254.1" x2="55.7" y2="249.8" stroke="#2a3f78" stroke-width="0.9"/>
<circle cx="54.9" cy="254.1" r="1.5" fill="#2a6aa0"/>
<line x1="65.6" y1="251.0" x2="68.7" y2="248.0" stroke="#2a3f78" stroke-width="0.9"/>
<circle cx="65.6" cy="251.0" r="1.5" fill="#2a6aa0"/>
<line x1="76.1" y1="254.8" x2="80.3" y2="254.2" stroke="#2a3f78" stroke-width="0.9"/>
<circle cx="76.1" cy="254.8" r="1.5" fill="#2a6aa0"/>
<line x1="82.3" y1="264.1" x2="86.1" y2="266.1" stroke="#2a3f78" stroke-width="0.9"/>
<circle cx="82.3" cy="264.1" r="1.5" fill="#2a6aa0"/>
<polygon points="65.0,257.1 75.3,263.1 75.3,274.9 65.0,280.9 54.7,274.9 54.7,263.1" fill="#f6f7f8" stroke="#a66b38" stroke-width="2.1" stroke-dasharray="1.3 0.45"/>
<circle cx="65" cy="269" r="7.249" fill="#f5f7f8" stroke="#92c8d2" stroke-width="2.3"/>
<circle cx="65" cy="269" r="7.249" fill="none" stroke="#5fa5b5" stroke-width="0.7" stroke-dasharray="0.8 0.8"/>
<path d="M58.8,266.8 q2.5,3.0 5.9,-0.2 t8.4,-0.8" fill="none" stroke="#808080" stroke-width="1"/>
<text x="68" y="247" font-family="Liberation Serif" font-size="11.8" fill="#111" text-anchor="start" stroke="#111" stroke-width="0.28">HSPG</text>
<path d="M76,254 Q81,250 88,253" stroke="#2a9a3a" stroke-width="2" fill="none"/>
<path d="M88,280 L96,287 M90,283 L99,287 M86,284 L94,290" stroke="#777" stroke-width="0.8"/>
<circle cx="87" cy="279" r="1.8" fill="#a070c0"/>
<text x="94" y="292" font-family="Liberation Serif" font-size="11.8" fill="#111" text-anchor="start" stroke="#111" stroke-width="0.28">NTCP</text>
<rect x="106" y="240" width="18" height="17" fill="#ffffff"/>
<text x="108" y="253" font-family="Liberation Serif" font-size="11.8" fill="#a66b38" text-anchor="start">(a)</text>
<path d="M96,270 Q127,262 138,238" fill="none" stroke="#111" stroke-width="1.4" marker-end="url(#ah)"/>
<path d="M147,339 C95,336 100,295 165,253 C195,232 215,218 238,206" fill="none" stroke="#111" stroke-width="1.5" marker-end="url(#ah)"/>
<rect x="446" y="124" width="79" height="19" fill="#ffffff"/>
<text x="457" y="140" font-family="Liberation Serif" font-size="11.8" fill="#111" text-anchor="start" stroke="#111" stroke-width="0.28">preS1 mRNA</text>
<path d="M454.0,152.5 L454.8,154.1 L455.5,154.7 L456.3,154.0 L457.0,152.4 L457.8,150.9 L458.6,150.3 L459.3,151.1 L460.1,152.7 L460.8,154.2 L461.6,154.7 L462.4,153.9 L463.1,152.2 L463.9,150.7 L464.6,150.3 L465.4,151.2 L466.2,152.9 L466.9,154.3 L467.7,154.7 L468.4,153.7 L469.2,152.0 L470.0,150.6 L470.7,150.4 L471.5,151.4 L472.2,153.0 L473.0,154.4 L473.8,154.6 L474.5,153.6 L475.3,151.9 L476.0,150.6 L476.8,150.4 L477.6,151.5 L478.3,153.2 L479.1,154.5 L479.8,154.6 L480.6,153.4 L481.4,151.7 L482.1,150.5 L482.9,150.5 L483.6,151.7 L484.4,153.4 L485.2,154.6 L485.9,154.5 L486.7,153.2 L487.4,151.5 L488.2,150.4 L489.0,150.6 L489.7,151.9 L490.5,153.6 L491.2,154.6 L492.0,154.4" fill="none" stroke="#a862b0" stroke-width="1.2"/>
<path d="M492.0,154.4 L492.8,153.1 L493.5,151.4 L494.2,150.4 L495.0,150.6 L495.8,151.9 L496.5,153.6 L497.2,154.6 L498.0,154.4 L498.8,153.1 L499.5,151.4 L500.2,150.4 L501.0,150.6 L501.8,151.9 L502.5,153.6 L503.2,154.6 L504.0,154.4 L504.8,153.1 L505.5,151.4 L506.2,150.4 L507.0,150.6 L507.8,151.9 L508.5,153.6 L509.2,154.6 L510.0,154.4 L510.8,153.1 L511.5,151.4 L512.2,150.4 L513.0,150.6" fill="none" stroke="#2f6fb0" stroke-width="1.2"/>
<rect x="515" y="144" width="28" height="15" fill="#ffffff"/>
<text x="518" y="156" font-family="Liberation Serif" font-size="11.8" fill="#111" text-anchor="start" stroke="#111" stroke-width="0.28">AAA</text>
<rect x="452" y="158" width="85" height="20" fill="#ffffff"/>
<text x="454" y="173" font-family="Liberation Serif" font-size="11.8" fill="#111" text-anchor="start" stroke="#111" stroke-width="0.28">preS2/S mRNA</text>
<path d="M462.0,188.0 L462.8,189.6 L463.5,190.2 L464.2,189.6 L465.0,188.0 L465.8,186.4 L466.5,185.8 L467.2,186.4 L468.0,188.0 L468.8,189.6 L469.5,190.2 L470.2,189.6 L471.0,188.0 L471.8,186.4 L472.5,185.8 L473.2,186.4 L474.0,188.0 L474.8,189.6 L475.5,190.2 L476.2,189.6 L477.0,188.0 L477.8,186.4 L478.5,185.8 L479.2,186.4 L480.0,188.0 L480.8,189.6 L481.5,190.2 L482.2,189.6 L483.0,188.0 L483.8,186.4 L484.5,185.8 L485.2,186.4 L486.0,188.0 L486.8,189.6 L487.5,190.2 L488.2,189.6 L489.0,188.0 L489.8,186.4 L490.5,185.8 L491.2,186.4 L492.0,188.0" fill="none" stroke="#a862b0" stroke-width="1.2"/>
<path d="M492.0,188.0 L492.8,189.6 L493.5,190.2 L494.2,189.6 L495.0,188.0 L495.8,186.4 L496.5,185.8 L497.2,186.4 L498.0,188.0 L498.8,189.6 L499.5,190.2 L500.2,189.6 L501.0,188.0 L501.8,186.4 L502.5,185.8 L503.2,186.4 L504.0,188.0 L504.8,189.6 L505.5,190.2 L506.2,189.6 L507.0,188.0 L507.8,186.4 L508.5,185.8 L509.2,186.4 L510.0,188.0 L510.8,189.6 L511.5,190.2 L512.2,189.6 L513.0,188.0" fill="none" stroke="#2f6fb0" stroke-width="1.2"/>
<rect x="515" y="179" width="28" height="16" fill="#ffffff"/>
<text x="518" y="191" font-family="Liberation Serif" font-size="11.8" fill="#111" text-anchor="start" stroke="#111" stroke-width="0.28">AAA</text>
<path d="M292,213 Q262,250 191,291" fill="none" stroke="#111" stroke-width="1.4" marker-end="url(#ah)"/>
<path d="M292,213 Q294,240 287,268" fill="none" stroke="#111" stroke-width="1.4" marker-end="url(#ah)"/>
<rect x="113" y="302" width="100" height="15" fill="#ffffff"/>
<text x="116" y="313" font-family="Liberation Serif" font-size="11.8" fill="#111" text-anchor="start" stroke="#111" stroke-width="0.28">HBx mRNA(0.7 kb)</text>
<path d="M171.0,325.5 L171.8,327.1 L172.5,327.7 L173.3,327.0 L174.0,325.4 L174.8,323.9 L175.6,323.3 L176.3,324.1 L177.1,325.7 L177.8,327.2 L178.6,327.7 L179.4,326.9 L180.1,325.2 L180.9,323.7 L181.6,323.3 L182.4,324.2 L183.2,325.9 L183.9,327.3 L184.7,327.7 L185.4,326.7 L186.2,325.0 L187.0,323.6 L187.7,323.4 L188.5,324.4 L189.2,326.0 L190.0,327.4" fill="none" stroke="#a862b0" stroke-width="1.2"/>
<rect x="192" y="318" width="29" height="13" fill="#ffffff"/>
<text x="194" y="328.5" font-family="Liberation Serif" font-size="11.8" fill="#111" text-anchor="start" stroke="#111" stroke-width="0.28">AAA</text>
<path d="M142,318 Q148,326 152,336" fill="none" stroke="#111" stroke-width="1.3" marker-end="url(#ah)"/>
<text x="154" y="342" font-family="Liberation Serif" font-size="11.8" fill="#111" text-anchor="start" stroke="#111" stroke-width="0.28">HBx</text>
<circle cx="190" cy="338" r="1.8" fill="#8a5a3a"/>
<circle cx="195" cy="336" r="1.8" fill="#8a5a3a"/>
<circle cx="194" cy="342" r="1.8" fill="#8a5a3a"/>
<rect x="111" y="349" width="106" height="17" fill="#ffffff"/>
<text x="118" y="361.5" font-family="Liberation Serif" font-size="11.8" fill="#111" text-anchor="start" stroke="#111" stroke-width="0.28">preC mRNA(3.5 kb)</text>
<path d="M114.0,375.4 L114.8,377.0 L115.5,377.6 L116.2,377.0 L117.0,375.4 L117.8,373.8 L118.5,373.2 L119.2,373.8 L120.0,375.4 L120.8,377.0 L121.5,377.6 L122.2,377.0 L123.0,375.4 L123.8,373.8 L124.5,373.2 L125.2,373.8 L126.0,375.4 L126.8,377.0 L127.5,377.6 L128.2,377.0 L129.0,375.4 L129.8,373.8 L130.5,373.2 L131.2,373.8 L132.0,375.4 L132.8,377.0 L133.5,377.6 L134.2,377.0 L135.0,375.4 L135.8,373.8 L136.5,373.2 L137.2,373.8 L138.0,375.4 L138.8,377.0 L139.5,377.6 L140.2,377.0 L141.0,375.4 L141.8,373.8 L142.5,373.2 L143.2,373.8 L144.0,375.4 L144.8,377.0 L145.5,377.6 L146.2,377.0 L147.0,375.4 L147.8,373.8 L148.5,373.2 L149.2,373.8 L150.0,375.4 L150.8,377.0 L151.5,377.6 L152.2,377.0 L153.0,375.4 L153.8,373.8 L154.5,373.2 L155.2,373.8 L156.0,375.4 L156.8,377.0 L157.5,377.6 L158.2,377.0 L159.0,375.4 L159.8,373.8 L160.5,373.2 L161.2,373.8 L162.0,375.4 L162.8,377.0 L163.5,377.6 L164.2,377.0 L165.0,375.4 L165.8,373.8 L166.5,373.2 L167.2,373.8 L168.0,375.4 L168.8,377.0 L169.5,377.6 L170.2,377.0 L171.0,375.4 L171.8,373.8 L172.5,373.2 L173.2,373.8 L174.0,375.4 L174.8,377.0 L175.5,377.6 L176.2,377.0 L177.0,375.4 L177.8,373.8 L178.5,373.2 L179.2,373.8 L180.0,375.4 L180.8,377.0 L181.5,377.6 L182.2,377.0 L183.0,375.4 L183.8,373.8 L184.5,373.2 L185.2,373.8 L186.0,375.4 L186.8,377.0 L187.5,377.6 L188.2,377.0 L189.0,375.4 L189.8,373.8 L190.5,373.2 L191.2,373.8 L192.0,375.4" fill="none" stroke="#a862b0" stroke-width="1.2"/>
<rect x="192" y="367" width="30" height="15" fill="#ffffff"/>
<text x="195" y="378.3" font-family="Liberation Serif" font-size="11.8" fill="#111" text-anchor="start" stroke="#111" stroke-width="0.28">AAA</text>
<rect x="108" y="384" width="111" height="14" fill="#ffffff"/>
<text x="117" y="395" font-family="Liberation Serif" font-size="11.8" fill="#111" text-anchor="start" stroke="#111" stroke-width="0.28">preS1 mRNA(2.4 kb)</text>
<path d="M134.0,408.6 L134.8,410.2 L135.5,410.8 L136.2,410.2 L137.0,408.6 L137.8,407.0 L138.5,406.4 L139.2,407.0 L140.0,408.6 L140.8,410.2 L141.5,410.8 L142.2,410.2 L143.0,408.6 L143.8,407.0 L144.5,406.4 L145.2,407.0 L146.0,408.6 L146.8,410.2 L147.5,410.8 L148.2,410.2 L149.0,408.6 L149.8,407.0 L150.5,406.4 L151.2,407.0 L152.0,408.6 L152.8,410.2 L153.5,410.8 L154.2,410.2 L155.0,408.6 L155.8,407.0 L156.5,406.4 L157.2,407.0 L158.0,408.6 L158.8,410.2 L159.5,410.8 L160.2,410.2 L161.0,408.6 L161.8,407.0 L162.5,406.4 L163.2,407.0 L164.0,408.6 L164.8,410.2 L165.5,410.8 L166.2,410.2 L167.0,408.6 L167.8,407.0 L168.5,406.4 L169.2,407.0 L170.0,408.6 L170.8,410.2 L171.5,410.8 L172.2,410.2 L173.0,408.6 L173.8,407.0 L174.5,406.4 L175.2,407.0 L176.0,408.6 L176.8,410.2 L177.5,410.8 L178.2,410.2 L179.0,408.6 L179.8,407.0 L180.5,406.4 L181.2,407.0 L182.0,408.6 L182.8,410.2 L183.5,410.8 L184.2,410.2 L185.0,408.6 L185.8,407.0 L186.5,406.4 L187.2,407.0 L188.0,408.6 L188.8,410.2 L189.5,410.8 L190.2,410.2 L191.0,408.6" fill="none" stroke="#a862b0" stroke-width="1.2"/>
<rect x="192" y="401" width="30" height="14" fill="#ffffff"/>
<text x="195" y="412" font-family="Liberation Serif" font-size="11.8" fill="#111" text-anchor="start" stroke="#111" stroke-width="0.28">AAA</text>
<rect x="102" y="419" width="119" height="15" fill="#ffffff"/>
<text x="110" y="429.7" font-family="Liberation Serif" font-size="11.8" fill="#111" text-anchor="start" stroke="#111" stroke-width="0.28">preS2/S mRNA(2.1 kb)</text>
<path d="M141.0,444.4 L141.8,446.0 L142.5,446.6 L143.3,445.9 L144.0,444.3 L144.8,442.8 L145.5,442.2 L146.3,442.9 L147.1,444.5 L147.8,446.1 L148.6,446.6 L149.3,445.8 L150.1,444.2 L150.8,442.7 L151.6,442.2 L152.4,443.0 L153.1,444.7 L153.9,446.2 L154.6,446.6 L155.4,445.7 L156.2,444.1 L156.9,442.6 L157.7,442.2 L158.4,443.2 L159.2,444.8 L159.9,446.2 L160.7,446.6 L161.5,445.6 L162.2,443.9 L163.0,442.5 L163.7,442.3 L164.5,443.3 L165.2,445.0 L166.0,446.3 L166.8,446.5 L167.5,445.5 L168.3,443.8 L169.0,442.5 L169.8,442.3 L170.5,443.4 L171.3,445.1 L172.1,446.4 L172.8,446.5 L173.6,445.3 L174.3,443.6 L175.1,442.4 L175.8,442.3 L176.6,443.5 L177.4,445.2 L178.1,446.4 L178.9,446.4 L179.6,445.2 L180.4,443.5 L181.2,442.3 L181.9,442.4 L182.7,443.6 L183.4,445.3 L184.2,446.5 L184.9,446.4 L185.7,445.1 L186.5,443.4 L187.2,442.3 L188.0,442.5 L188.7,443.8 L189.5,445.5 L190.2,446.5 L191.0,446.3" fill="none" stroke="#a862b0" stroke-width="1.2"/>
<rect x="192" y="436" width="30" height="15" fill="#ffffff"/>
<text x="195" y="448" font-family="Liberation Serif" font-size="11.8" fill="#111" text-anchor="start" stroke="#111" stroke-width="0.28">AAA</text>
<rect x="227.2" y="264.2" width="136.5" height="45" rx="6" fill="none" stroke="#c0262c" stroke-width="1.5"/>
<rect x="233" y="271" width="127" height="17" fill="#ffffff"/>
<text x="237.5" y="282.3" font-family="Liberation Serif" font-size="11.8" fill="#111" text-anchor="start" stroke="#111" stroke-width="0.28">pregenomic RNA(3.5 kb)</text>
<path d="M242.0,295.2 L242.8,296.8 L243.5,297.4 L244.3,296.7 L245.0,295.2 L245.8,293.6 L246.5,293.0 L247.3,293.7 L248.0,295.2 L248.8,296.8 L249.5,297.4 L250.3,296.7 L251.0,295.1 L251.8,293.6 L252.5,293.0 L253.3,293.7 L254.0,295.3 L254.8,296.8 L255.5,297.4 L256.3,296.7 L257.0,295.1 L257.8,293.6 L258.6,293.0 L259.3,293.7 L260.1,295.3 L260.8,296.9 L261.6,297.4 L262.3,296.6 L263.1,295.0 L263.8,293.5 L264.6,293.0 L265.3,293.8 L266.1,295.4 L266.8,296.9 L267.6,297.4 L268.3,296.6 L269.1,295.0 L269.8,293.5 L270.6,293.0 L271.3,293.8 L272.1,295.4 L272.9,296.9 L273.6,297.4 L274.4,296.6 L275.1,294.9 L275.9,293.5 L276.6,293.0 L277.4,293.8 L278.1,295.5 L278.9,296.9 L279.6,297.4 L280.4,296.5 L281.1,294.9 L281.9,293.4 L282.6,293.0 L283.4,293.9 L284.1,295.5 L284.9,297.0 L285.6,297.4 L286.4,296.5 L287.1,294.9 L287.9,293.4 L288.7,293.0 L289.4,293.9 L290.2,295.6 L290.9,297.0 L291.7,297.4 L292.4,296.5 L293.2,294.8 L293.9,293.4 L294.7,293.0 L295.4,294.0 L296.2,295.6 L296.9,297.0 L297.7,297.4 L298.4,296.4 L299.2,294.8 L299.9,293.4 L300.7,293.0 L301.4,294.0 L302.2,295.7 L303.0,297.0 L303.7,297.4 L304.5,296.4 L305.2,294.7 L306.0,293.3 L306.7,293.1 L307.5,294.0 L308.2,295.7 L309.0,297.1 L309.7,297.3 L310.5,296.3 L311.2,294.7 L312.0,293.3 L312.7,293.1 L313.5,294.1 L314.2,295.7 L315.0,297.1 L315.7,297.3 L316.5,296.3 L317.2,294.6 L318.0,293.3" fill="none" stroke="#d8404a" stroke-width="1.2"/>
<rect x="320" y="288" width="30" height="14" fill="#ffffff"/>
<text x="322.6" y="298.9" font-family="Liberation Serif" font-size="11.8" fill="#111" text-anchor="start" stroke="#111" stroke-width="0.28">AAA</text>
<rect x="243" y="307" width="19" height="15" fill="#ffffff"/>
<text x="246" y="318.5" font-family="Liberation Serif" font-size="11.8" fill="#a66b38" text-anchor="start">(e)</text>
<rect x="294" y="307" width="19" height="15" fill="#ffffff"/>
<text x="297" y="318.5" font-family="Liberation Serif" font-size="11.8" fill="#a66b38" text-anchor="start">(e)</text>
<path d="M268,306 L261,333" fill="none" stroke="#111" stroke-width="1.4" marker-end="url(#ah)"/>
<path d="M323,306 L315,333" fill="none" stroke="#111" stroke-width="1.4" marker-end="url(#ah)"/>
<path d="M253,341 q4,-3 8,0 t7,-1" stroke="#778" stroke-width="1.2" fill="none"/>
<rect x="229" y="343" width="61" height="13" fill="#ffffff"/>
<text x="231.6" y="351.5" font-family="Liberation Serif" font-size="11.8" fill="#111" text-anchor="start" stroke="#111" stroke-width="0.28">polymerase</text>
<ellipse cx="302" cy="339.5" rx="3.2" ry="2.2" fill="#c88a2a"/>
<ellipse cx="309" cy="339.5" rx="3.2" ry="2.2" fill="#c88a2a"/>
<ellipse cx="323" cy="339.5" rx="3.2" ry="2.2" fill="#c88a2a"/>
<ellipse cx="330" cy="339.5" rx="3.2" ry="2.2" fill="#c88a2a"/>
<rect x="297" y="343" width="42" height="14" fill="#ffffff"/>
<text x="300.6" y="351.5" font-family="Liberation Serif" font-size="11.8" fill="#111" text-anchor="start" stroke="#111" stroke-width="0.28">HBcAg</text>
<rect x="282" y="356" width="10" height="12" fill="#ffffff"/>
<text x="284" y="365" font-family="Liberation Serif" font-size="11" fill="#111" text-anchor="start" stroke="#111" stroke-width="0.28">ε</text>
<path d="M247,378 q1.5,-2 3,0 t3,0 t3,0 t3,0 t3,0 M263,378 l0,-7 M268,378 l0,-7 M270,378 q1.5,-2 3,0 t3,0 t3,0 t3,0 t3,0 t3,0" stroke="#d86a78" stroke-width="1.1" fill="none"/><circle cx="265.5" cy="366.5" r="3.8" fill="none" stroke="#d86a78" stroke-width="1.1"/>
<rect x="348" y="340" width="16" height="16" fill="#ffffff"/>
<text x="349" y="350" font-family="Liberation Serif" font-size="11.8" fill="#a66b38" text-anchor="start">(h)</text>
<path d="M336,367 Q372,360 385,330" fill="none" stroke="#111" stroke-width="1.5" marker-end="url(#ah)"/>
<path d="M348,424 Q322,398 311,366" fill="none" stroke="#111" stroke-width="1.6" marker-end="url(#ah)"/>
<polygon points="391.5,303.2 402.2,309.4 402.2,321.6 391.5,327.8 380.8,321.6 380.8,309.4" fill="#f6f7f8" stroke="#a66b38" stroke-width="2.1" stroke-dasharray="1.3 0.45"/>
<path d="M383.6,318.5 L399.4,318.5" stroke="#e58a96" stroke-width="0.9"/>
<path d="M390.5,318.5 l0,-2.5 q0,-3 3,-3 l1,-1" fill="none" stroke="#e58a96" stroke-width="0.9"/>
<path d="M393.0,312.5 a2.2,2.2 0 1,1 4.2,0.8 z" fill="#8f909c"/>
<polygon points="435.0,245.7 445.7,251.8 445.7,264.1 435.0,270.3 424.3,264.1 424.3,251.8" fill="#f6f7f8" stroke="#a66b38" stroke-width="2.1" stroke-dasharray="1.3 0.45"/>
<circle cx="435" cy="258" r="7.533" fill="#f5f7f8" stroke="#92c8d2" stroke-width="2.3"/>
<circle cx="435" cy="258" r="7.533" fill="none" stroke="#5fa5b5" stroke-width="0.7" stroke-dasharray="0.8 0.8"/>
<path d="M428.5,255.8 q2.6,3.1 6.1,-0.2 t8.7,-0.8" fill="none" stroke="#808080" stroke-width="1"/>
<polygon points="469.0,224.7 479.7,230.8 479.7,243.2 469.0,249.3 458.3,243.2 458.3,230.8" fill="#f6f7f8" stroke="#a66b38" stroke-width="2.1" stroke-dasharray="1.3 0.45"/>
<line x1="459.4675" y1="237" x2="478.5325" y2="237" stroke="#a8d8b4" stroke-width="1.4"/>
<path d="M459.5,237.0 L459.9,237.9 L460.3,238.3 L460.8,237.9 L461.2,236.9 L461.6,236.0 L462.1,235.7 L462.5,236.2 L462.9,237.2 L463.4,238.0 L463.8,238.3 L464.2,237.8 L464.7,236.8 L465.1,235.9 L465.5,235.7 L466.0,236.3 L466.4,237.3 L466.8,238.1 L467.3,238.3 L467.7,237.6 L468.1,236.6 L468.6,235.8 L469.0,235.8 L469.4,236.5 L469.9,237.5 L470.3,238.2 L470.7,238.2 L471.2,237.5 L471.6,236.5 L472.0,235.8 L472.5,235.8 L472.9,236.6 L473.3,237.6 L473.8,238.2 L474.2,238.1 L474.6,237.3 L475.1,236.3 L475.5,235.7 L475.9,235.9 L476.4,236.8 L476.8,237.7 L477.2,238.3 L477.7,238.0 L478.1,237.2 L478.5,236.2" fill="none" stroke="#1a3a28" stroke-width="0.9"/>
<path d="M459.5,237.0 L459.9,236.1 L460.3,235.7 L460.8,236.1 L461.2,237.1 L461.6,238.0 L462.1,238.3 L462.5,237.8 L462.9,236.8 L463.4,236.0 L463.8,235.7 L464.2,236.2 L464.7,237.2 L465.1,238.1 L465.5,238.3 L466.0,237.7 L466.4,236.7 L466.8,235.9 L467.3,235.7 L467.7,236.4 L468.1,237.4 L468.6,238.2 L469.0,238.2 L469.4,237.5 L469.9,236.5 L470.3,235.8 L470.7,235.8 L471.2,236.5 L471.6,237.5 L472.0,238.2 L472.5,238.2 L472.9,237.4 L473.3,236.4 L473.8,235.8 L474.2,235.9 L474.6,236.7 L475.1,237.7 L475.5,238.3 L475.9,238.1 L476.4,237.2 L476.8,236.3 L477.2,235.7 L477.7,236.0 L478.1,236.8 L478.5,237.8" fill="none" stroke="#2e6a4a" stroke-width="0.9"/>
<path d="M455,227 L424,210" fill="none" stroke="#111" stroke-width="1.4" marker-end="url(#ah)"/>
<path d="M418,252 L375,240" fill="none" stroke="#111" stroke-width="1.4" marker-end="url(#ah)"/>
<rect x="402" y="274" width="18" height="16" fill="#ffffff"/>
<text x="404" y="286" font-family="Liberation Serif" font-size="11.8" fill="#a66b38" text-anchor="start">(i)</text>
<path d="M402,305 L429,272" fill="none" stroke="#111" stroke-width="1.5" marker-end="url(#ah)"/>
<path d="M409.3,303 L424.5,284.4 M417,293.7 L436.8,308.9" stroke="#d81020" stroke-width="1.3"/>
<text x="0" y="0" font-family="Liberation Sans" font-weight="bold" font-size="15.5" fill="#cc0a14" stroke="#cc0a14" stroke-width="0.7" transform="translate(440,330.5) rotate(-48)">NAs</text>
<rect x="470" y="260" width="16" height="16" fill="#ffffff"/>
<text x="472" y="272.6" font-family="Liberation Serif" font-size="11.8" fill="#a66b38" text-anchor="start">(j)</text>
<path d="M450,264 Q478,268 486,295" fill="none" stroke="#111" stroke-width="1.4" marker-end="url(#ah)"/>
<rect x="508" y="247" width="22" height="16" fill="#ffffff"/>
<text x="511" y="259" font-family="Liberation Serif" font-size="11.8" fill="#a66b38" text-anchor="start">(k)</text>
<path d="M485,248 Q515,262 525,292" fill="none" stroke="#111" stroke-width="1.4" marker-end="url(#ah)"/>
<rect x="400" y="336" width="22" height="16" fill="#ffffff"/>
<text x="402" y="347.3" font-family="Liberation Serif" font-size="11.8" fill="#a66b38" text-anchor="start">(m)</text>
<path d="M405,325 L435,355" fill="none" stroke="#111" stroke-width="1.4" marker-end="url(#ah)"/>
<ellipse cx="499" cy="392" rx="63" ry="90" transform="rotate(21 499 392)" fill="#e2e8f0" stroke="#5f86c4" stroke-width="1.6"/>
<polygon points="490.0,299.5 500.7,305.7 500.7,317.9 490.0,324.1 479.3,317.9 479.3,305.7" fill="#f6f7f8" stroke="#a66b38" stroke-width="2.1" stroke-dasharray="1.3 0.45"/>
<circle cx="490" cy="311.8" r="7.533" fill="#f5f7f8" stroke="#92c8d2" stroke-width="2.3"/>
<circle cx="490" cy="311.8" r="7.533" fill="none" stroke="#5fa5b5" stroke-width="0.7" stroke-dasharray="0.8 0.8"/>
<path d="M483.5,309.6 q2.6,3.1 6.1,-0.2 t8.7,-0.8" fill="none" stroke="#808080" stroke-width="1"/>
<polygon points="530.3,297.1 541.0,303.2 541.0,315.5 530.3,321.7 519.6,315.5 519.6,303.2" fill="#f6f7f8" stroke="#a66b38" stroke-width="2.1" stroke-dasharray="1.3 0.45"/>
<line x1="520.7674999999999" y1="309.4" x2="539.8325" y2="309.4" stroke="#a8d8b4" stroke-width="1.4"/>
<path d="M520.8,309.4 L521.2,310.3 L521.6,310.7 L522.1,310.3 L522.5,309.3 L522.9,308.4 L523.4,308.1 L523.8,308.6 L524.2,309.6 L524.7,310.4 L525.1,310.7 L525.5,310.2 L526.0,309.2 L526.4,308.3 L526.8,308.1 L527.3,308.7 L527.7,309.7 L528.1,310.5 L528.6,310.7 L529.0,310.0 L529.4,309.0 L529.9,308.2 L530.3,308.2 L530.7,308.9 L531.2,309.9 L531.6,310.6 L532.0,310.6 L532.5,309.9 L532.9,308.9 L533.3,308.2 L533.8,308.2 L534.2,309.0 L534.6,310.0 L535.1,310.6 L535.5,310.5 L535.9,309.7 L536.4,308.7 L536.8,308.1 L537.2,308.3 L537.7,309.2 L538.1,310.1 L538.5,310.7 L539.0,310.4 L539.4,309.6 L539.8,308.6" fill="none" stroke="#1a3a28" stroke-width="0.9"/>
<path d="M520.8,309.4 L521.2,308.5 L521.6,308.1 L522.1,308.5 L522.5,309.5 L522.9,310.4 L523.4,310.7 L523.8,310.2 L524.2,309.2 L524.7,308.4 L525.1,308.1 L525.5,308.6 L526.0,309.6 L526.4,310.5 L526.8,310.7 L527.3,310.1 L527.7,309.1 L528.1,308.3 L528.6,308.1 L529.0,308.8 L529.4,309.8 L529.9,310.6 L530.3,310.6 L530.7,309.9 L531.2,308.9 L531.6,308.2 L532.0,308.2 L532.5,308.9 L532.9,309.9 L533.3,310.6 L533.8,310.6 L534.2,309.8 L534.6,308.8 L535.1,308.2 L535.5,308.3 L535.9,309.1 L536.4,310.1 L536.8,310.7 L537.2,310.5 L537.7,309.6 L538.1,308.7 L538.5,308.1 L539.0,308.4 L539.4,309.2 L539.8,310.2" fill="none" stroke="#2e6a4a" stroke-width="0.9"/>
<polygon points="447.7,351.1 458.4,357.2 458.4,369.5 447.7,375.7 437.0,369.5 437.0,357.2" fill="#f6f7f8" stroke="#a66b38" stroke-width="2.1" stroke-dasharray="1.3 0.45"/>
<path d="M439.8,366.4 L455.6,366.4" stroke="#e58a96" stroke-width="0.9"/>
<path d="M446.7,366.4 l0,-2.5 q0,-3 3,-3 l1,-1" fill="none" stroke="#e58a96" stroke-width="0.9"/>
<path d="M449.2,360.4 a2.2,2.2 0 1,1 4.2,0.8 z" fill="#8f909c"/>
<circle cx="518.9" cy="347.0" r="1.55" fill="#eef4fa" stroke="#9cbedb" stroke-width="0.9"/>
<circle cx="518.6" cy="350.1" r="1.55" fill="#eef4fa" stroke="#9cbedb" stroke-width="0.9"/>
<circle cx="517.9" cy="353.2" r="1.55" fill="#eef4fa" stroke="#9cbedb" stroke-width="0.9"/>
<circle cx="516.6" cy="356.0" r="1.55" fill="#eef4fa" stroke="#9cbedb" stroke-width="0.9"/>
<circle cx="514.9" cy="358.7" r="1.55" fill="#eef4fa" stroke="#9cbedb" stroke-width="0.9"/>
<circle cx="512.8" cy="361.0" r="1.55" fill="#eef4fa" stroke="#9cbedb" stroke-width="0.9"/>
<circle cx="510.3" cy="362.9" r="1.55" fill="#eef4fa" stroke="#9cbedb" stroke-width="0.9"/>
<circle cx="507.5" cy="364.4" r="1.55" fill="#eef4fa" stroke="#9cbedb" stroke-width="0.9"/>
<circle cx="504.6" cy="365.4" r="1.55" fill="#eef4fa" stroke="#9cbedb" stroke-width="0.9"/>
<circle cx="501.5" cy="365.9" r="1.55" fill="#eef4fa" stroke="#9cbedb" stroke-width="0.9"/>
<circle cx="498.3" cy="365.9" r="1.55" fill="#eef4fa" stroke="#9cbedb" stroke-width="0.9"/>
<circle cx="495.2" cy="365.4" r="1.55" fill="#eef4fa" stroke="#9cbedb" stroke-width="0.9"/>
<circle cx="492.3" cy="364.4" r="1.55" fill="#eef4fa" stroke="#9cbedb" stroke-width="0.9"/>
<circle cx="489.5" cy="362.9" r="1.55" fill="#eef4fa" stroke="#9cbedb" stroke-width="0.9"/>
<circle cx="487.0" cy="361.0" r="1.55" fill="#eef4fa" stroke="#9cbedb" stroke-width="0.9"/>
<circle cx="484.9" cy="358.7" r="1.55" fill="#eef4fa" stroke="#9cbedb" stroke-width="0.9"/>
<circle cx="483.2" cy="356.0" r="1.55" fill="#eef4fa" stroke="#9cbedb" stroke-width="0.9"/>
<circle cx="481.9" cy="353.2" r="1.55" fill="#eef4fa" stroke="#9cbedb" stroke-width="0.9"/>
<circle cx="481.2" cy="350.1" r="1.55" fill="#eef4fa" stroke="#9cbedb" stroke-width="0.9"/>
<circle cx="480.9" cy="347.0" r="1.55" fill="#eef4fa" stroke="#9cbedb" stroke-width="0.9"/>
<circle cx="481.2" cy="343.9" r="1.55" fill="#eef4fa" stroke="#9cbedb" stroke-width="0.9"/>
<circle cx="481.9" cy="340.8" r="1.55" fill="#eef4fa" stroke="#9cbedb" stroke-width="0.9"/>
<circle cx="483.2" cy="338.0" r="1.55" fill="#eef4fa" stroke="#9cbedb" stroke-width="0.9"/>
<circle cx="484.9" cy="335.3" r="1.55" fill="#eef4fa" stroke="#9cbedb" stroke-width="0.9"/>
<circle cx="487.0" cy="333.0" r="1.55" fill="#eef4fa" stroke="#9cbedb" stroke-width="0.9"/>
<circle cx="489.5" cy="331.1" r="1.55" fill="#eef4fa" stroke="#9cbedb" stroke-width="0.9"/>
<circle cx="492.3" cy="329.6" r="1.55" fill="#eef4fa" stroke="#9cbedb" stroke-width="0.9"/>
<circle cx="495.2" cy="328.6" r="1.55" fill="#eef4fa" stroke="#9cbedb" stroke-width="0.9"/>
<circle cx="498.3" cy="328.1" r="1.55" fill="#eef4fa" stroke="#9cbedb" stroke-width="0.9"/>
<circle cx="501.5" cy="328.1" r="1.55" fill="#eef4fa" stroke="#9cbedb" stroke-width="0.9"/>
<circle cx="504.6" cy="328.6" r="1.55" fill="#eef4fa" stroke="#9cbedb" stroke-width="0.9"/>
<circle cx="507.5" cy="329.6" r="1.55" fill="#eef4fa" stroke="#9cbedb" stroke-width="0.9"/>
<circle cx="510.3" cy="331.1" r="1.55" fill="#eef4fa" stroke="#9cbedb" stroke-width="0.9"/>
<circle cx="512.8" cy="333.0" r="1.55" fill="#eef4fa" stroke="#9cbedb" stroke-width="0.9"/>
<circle cx="514.9" cy="335.3" r="1.55" fill="#eef4fa" stroke="#9cbedb" stroke-width="0.9"/>
<circle cx="516.6" cy="338.0" r="1.55" fill="#eef4fa" stroke="#9cbedb" stroke-width="0.9"/>
<circle cx="517.9" cy="340.8" r="1.55" fill="#eef4fa" stroke="#9cbedb" stroke-width="0.9"/>
<circle cx="518.6" cy="343.9" r="1.55" fill="#eef4fa" stroke="#9cbedb" stroke-width="0.9"/>
<circle cx="515.5" cy="347.8" r="1.55" fill="#eef4fa" stroke="#9cbedb" stroke-width="0.9"/>
<circle cx="515.0" cy="350.9" r="1.55" fill="#eef4fa" stroke="#9cbedb" stroke-width="0.9"/>
<circle cx="513.9" cy="353.9" r="1.55" fill="#eef4fa" stroke="#9cbedb" stroke-width="0.9"/>
<circle cx="512.2" cy="356.5" r="1.55" fill="#eef4fa" stroke="#9cbedb" stroke-width="0.9"/>
<circle cx="510.1" cy="358.8" r="1.55" fill="#eef4fa" stroke="#9cbedb" stroke-width="0.9"/>
<circle cx="507.5" cy="360.6" r="1.55" fill="#eef4fa" stroke="#9cbedb" stroke-width="0.9"/>
<circle cx="504.6" cy="361.9" r="1.55" fill="#eef4fa" stroke="#9cbedb" stroke-width="0.9"/>
<circle cx="501.5" cy="362.5" r="1.55" fill="#eef4fa" stroke="#9cbedb" stroke-width="0.9"/>
<circle cx="498.3" cy="362.5" r="1.55" fill="#eef4fa" stroke="#9cbedb" stroke-width="0.9"/>
<circle cx="495.2" cy="361.9" r="1.55" fill="#eef4fa" stroke="#9cbedb" stroke-width="0.9"/>
<circle cx="492.3" cy="360.6" r="1.55" fill="#eef4fa" stroke="#9cbedb" stroke-width="0.9"/>
<circle cx="489.7" cy="358.8" r="1.55" fill="#eef4fa" stroke="#9cbedb" stroke-width="0.9"/>
<circle cx="487.6" cy="356.6" r="1.55" fill="#eef4fa" stroke="#9cbedb" stroke-width="0.9"/>
<circle cx="485.9" cy="353.9" r="1.55" fill="#eef4fa" stroke="#9cbedb" stroke-width="0.9"/>
<circle cx="484.8" cy="350.9" r="1.55" fill="#eef4fa" stroke="#9cbedb" stroke-width="0.9"/>
<circle cx="484.3" cy="347.8" r="1.55" fill="#eef4fa" stroke="#9cbedb" stroke-width="0.9"/>
<circle cx="484.5" cy="344.6" r="1.55" fill="#eef4fa" stroke="#9cbedb" stroke-width="0.9"/>
<circle cx="485.3" cy="341.6" r="1.55" fill="#eef4fa" stroke="#9cbedb" stroke-width="0.9"/>
<circle cx="486.7" cy="338.8" r="1.55" fill="#eef4fa" stroke="#9cbedb" stroke-width="0.9"/>
<circle cx="488.6" cy="336.3" r="1.55" fill="#eef4fa" stroke="#9cbedb" stroke-width="0.9"/>
<circle cx="491.0" cy="334.2" r="1.55" fill="#eef4fa" stroke="#9cbedb" stroke-width="0.9"/>
<circle cx="493.7" cy="332.7" r="1.55" fill="#eef4fa" stroke="#9cbedb" stroke-width="0.9"/>
<circle cx="496.7" cy="331.7" r="1.55" fill="#eef4fa" stroke="#9cbedb" stroke-width="0.9"/>
<circle cx="499.9" cy="331.4" r="1.55" fill="#eef4fa" stroke="#9cbedb" stroke-width="0.9"/>
<circle cx="503.0" cy="331.7" r="1.55" fill="#eef4fa" stroke="#9cbedb" stroke-width="0.9"/>
<circle cx="506.0" cy="332.7" r="1.55" fill="#eef4fa" stroke="#9cbedb" stroke-width="0.9"/>
<circle cx="508.8" cy="334.2" r="1.55" fill="#eef4fa" stroke="#9cbedb" stroke-width="0.9"/>
<circle cx="511.2" cy="336.2" r="1.55" fill="#eef4fa" stroke="#9cbedb" stroke-width="0.9"/>
<circle cx="513.1" cy="338.7" r="1.55" fill="#eef4fa" stroke="#9cbedb" stroke-width="0.9"/>
<circle cx="514.5" cy="341.6" r="1.55" fill="#eef4fa" stroke="#9cbedb" stroke-width="0.9"/>
<circle cx="515.3" cy="344.6" r="1.55" fill="#eef4fa" stroke="#9cbedb" stroke-width="0.9"/>
<circle cx="499.9" cy="347" r="13.8" fill="#f7f8fa" stroke="#2f6796" stroke-width="1.5"/>
<line x1="517.0" y1="353.2" x2="518.9" y2="357.1" stroke="#2a3f78" stroke-width="0.9"/>
<circle cx="517.0" cy="353.2" r="1.5" fill="#2a6aa0"/>
<line x1="510.1" y1="362.1" x2="509.3" y2="366.3" stroke="#2a3f78" stroke-width="0.9"/>
<circle cx="510.1" cy="362.1" r="1.5" fill="#2a6aa0"/>
<line x1="499.2" y1="365.2" x2="496.1" y2="368.2" stroke="#2a3f78" stroke-width="0.9"/>
<circle cx="499.2" cy="365.2" r="1.5" fill="#2a6aa0"/>
<line x1="488.7" y1="361.3" x2="484.4" y2="361.9" stroke="#2a3f78" stroke-width="0.9"/>
<circle cx="488.7" cy="361.3" r="1.5" fill="#2a6aa0"/>
<line x1="482.4" y1="352.0" x2="478.6" y2="350.0" stroke="#2a3f78" stroke-width="0.9"/>
<circle cx="482.4" cy="352.0" r="1.5" fill="#2a6aa0"/>
<line x1="482.8" y1="340.8" x2="480.9" y2="336.9" stroke="#2a3f78" stroke-width="0.9"/>
<circle cx="482.8" cy="340.8" r="1.5" fill="#2a6aa0"/>
<line x1="489.7" y1="331.9" x2="490.5" y2="327.7" stroke="#2a3f78" stroke-width="0.9"/>
<circle cx="489.7" cy="331.9" r="1.5" fill="#2a6aa0"/>
<line x1="500.6" y1="328.8" x2="503.7" y2="325.8" stroke="#2a3f78" stroke-width="0.9"/>
<circle cx="500.6" cy="328.8" r="1.5" fill="#2a6aa0"/>
<line x1="511.1" y1="332.7" x2="515.4" y2="332.1" stroke="#2a3f78" stroke-width="0.9"/>
<circle cx="511.1" cy="332.7" r="1.5" fill="#2a6aa0"/>
<line x1="517.4" y1="342.0" x2="521.2" y2="344.0" stroke="#2a3f78" stroke-width="0.9"/>
<circle cx="517.4" cy="342.0" r="1.5" fill="#2a6aa0"/>
<polygon points="499.9,335.1 510.2,341.1 510.2,352.9 499.9,358.9 489.6,352.9 489.6,341.1" fill="#f6f7f8" stroke="#a66b38" stroke-width="2.1" stroke-dasharray="1.3 0.45"/>
<circle cx="499.9" cy="347" r="7.249" fill="#f5f7f8" stroke="#92c8d2" stroke-width="2.3"/>
<circle cx="499.9" cy="347" r="7.249" fill="none" stroke="#5fa5b5" stroke-width="0.7" stroke-dasharray="0.8 0.8"/>
<path d="M493.7,344.8 q2.5,3.0 5.9,-0.2 t8.4,-0.8" fill="none" stroke="#808080" stroke-width="1"/>
<circle cx="517.0" cy="391.0" r="1.55" fill="#eef4fa" stroke="#9cbedb" stroke-width="0.9"/>
<circle cx="516.7" cy="394.1" r="1.55" fill="#eef4fa" stroke="#9cbedb" stroke-width="0.9"/>
<circle cx="516.0" cy="397.2" r="1.55" fill="#eef4fa" stroke="#9cbedb" stroke-width="0.9"/>
<circle cx="514.7" cy="400.0" r="1.55" fill="#eef4fa" stroke="#9cbedb" stroke-width="0.9"/>
<circle cx="513.0" cy="402.7" r="1.55" fill="#eef4fa" stroke="#9cbedb" stroke-width="0.9"/>
<circle cx="510.9" cy="405.0" r="1.55" fill="#eef4fa" stroke="#9cbedb" stroke-width="0.9"/>
<circle cx="508.4" cy="406.9" r="1.55" fill="#eef4fa" stroke="#9cbedb" stroke-width="0.9"/>
<circle cx="505.6" cy="408.4" r="1.55" fill="#eef4fa" stroke="#9cbedb" stroke-width="0.9"/>
<circle cx="502.7" cy="409.4" r="1.55" fill="#eef4fa" stroke="#9cbedb" stroke-width="0.9"/>
<circle cx="499.6" cy="409.9" r="1.55" fill="#eef4fa" stroke="#9cbedb" stroke-width="0.9"/>
<circle cx="496.4" cy="409.9" r="1.55" fill="#eef4fa" stroke="#9cbedb" stroke-width="0.9"/>
<circle cx="493.3" cy="409.4" r="1.55" fill="#eef4fa" stroke="#9cbedb" stroke-width="0.9"/>
<circle cx="490.4" cy="408.4" r="1.55" fill="#eef4fa" stroke="#9cbedb" stroke-width="0.9"/>
<circle cx="487.6" cy="406.9" r="1.55" fill="#eef4fa" stroke="#9cbedb" stroke-width="0.9"/>
<circle cx="485.1" cy="405.0" r="1.55" fill="#eef4fa" stroke="#9cbedb" stroke-width="0.9"/>
<circle cx="483.0" cy="402.7" r="1.55" fill="#eef4fa" stroke="#9cbedb" stroke-width="0.9"/>
<circle cx="481.3" cy="400.0" r="1.55" fill="#eef4fa" stroke="#9cbedb" stroke-width="0.9"/>
<circle cx="480.0" cy="397.2" r="1.55" fill="#eef4fa" stroke="#9cbedb" stroke-width="0.9"/>
<circle cx="479.3" cy="394.1" r="1.55" fill="#eef4fa" stroke="#9cbedb" stroke-width="0.9"/>
<circle cx="479.0" cy="391.0" r="1.55" fill="#eef4fa" stroke="#9cbedb" stroke-width="0.9"/>
<circle cx="479.3" cy="387.9" r="1.55" fill="#eef4fa" stroke="#9cbedb" stroke-width="0.9"/>
<circle cx="480.0" cy="384.8" r="1.55" fill="#eef4fa" stroke="#9cbedb" stroke-width="0.9"/>
<circle cx="481.3" cy="382.0" r="1.55" fill="#eef4fa" stroke="#9cbedb" stroke-width="0.9"/>
<circle cx="483.0" cy="379.3" r="1.55" fill="#eef4fa" stroke="#9cbedb" stroke-width="0.9"/>
<circle cx="485.1" cy="377.0" r="1.55" fill="#eef4fa" stroke="#9cbedb" stroke-width="0.9"/>
<circle cx="487.6" cy="375.1" r="1.55" fill="#eef4fa" stroke="#9cbedb" stroke-width="0.9"/>
<circle cx="490.4" cy="373.6" r="1.55" fill="#eef4fa" stroke="#9cbedb" stroke-width="0.9"/>
<circle cx="493.3" cy="372.6" r="1.55" fill="#eef4fa" stroke="#9cbedb" stroke-width="0.9"/>
<circle cx="496.4" cy="372.1" r="1.55" fill="#eef4fa" stroke="#9cbedb" stroke-width="0.9"/>
<circle cx="499.6" cy="372.1" r="1.55" fill="#eef4fa" stroke="#9cbedb" stroke-width="0.9"/>
<circle cx="502.7" cy="372.6" r="1.55" fill="#eef4fa" stroke="#9cbedb" stroke-width="0.9"/>
<circle cx="505.6" cy="373.6" r="1.55" fill="#eef4fa" stroke="#9cbedb" stroke-width="0.9"/>
<circle cx="508.4" cy="375.1" r="1.55" fill="#eef4fa" stroke="#9cbedb" stroke-width="0.9"/>
<circle cx="510.9" cy="377.0" r="1.55" fill="#eef4fa" stroke="#9cbedb" stroke-width="0.9"/>
<circle cx="513.0" cy="379.3" r="1.55" fill="#eef4fa" stroke="#9cbedb" stroke-width="0.9"/>
<circle cx="514.7" cy="382.0" r="1.55" fill="#eef4fa" stroke="#9cbedb" stroke-width="0.9"/>
<circle cx="516.0" cy="384.8" r="1.55" fill="#eef4fa" stroke="#9cbedb" stroke-width="0.9"/>
<circle cx="516.7" cy="387.9" r="1.55" fill="#eef4fa" stroke="#9cbedb" stroke-width="0.9"/>
<circle cx="513.6" cy="391.8" r="1.55" fill="#eef4fa" stroke="#9cbedb" stroke-width="0.9"/>
<circle cx="513.1" cy="394.9" r="1.55" fill="#eef4fa" stroke="#9cbedb" stroke-width="0.9"/>
<circle cx="512.0" cy="397.9" r="1.55" fill="#eef4fa" stroke="#9cbedb" stroke-width="0.9"/>
<circle cx="510.3" cy="400.5" r="1.55" fill="#eef4fa" stroke="#9cbedb" stroke-width="0.9"/>
<circle cx="508.2" cy="402.8" r="1.55" fill="#eef4fa" stroke="#9cbedb" stroke-width="0.9"/>
<circle cx="505.6" cy="404.6" r="1.55" fill="#eef4fa" stroke="#9cbedb" stroke-width="0.9"/>
<circle cx="502.7" cy="405.9" r="1.55" fill="#eef4fa" stroke="#9cbedb" stroke-width="0.9"/>
<circle cx="499.6" cy="406.5" r="1.55" fill="#eef4fa" stroke="#9cbedb" stroke-width="0.9"/>
<circle cx="496.4" cy="406.5" r="1.55" fill="#eef4fa" stroke="#9cbedb" stroke-width="0.9"/>
<circle cx="493.3" cy="405.9" r="1.55" fill="#eef4fa" stroke="#9cbedb" stroke-width="0.9"/>
<circle cx="490.4" cy="404.6" r="1.55" fill="#eef4fa" stroke="#9cbedb" stroke-width="0.9"/>
<circle cx="487.8" cy="402.8" r="1.55" fill="#eef4fa" stroke="#9cbedb" stroke-width="0.9"/>
<circle cx="485.7" cy="400.6" r="1.55" fill="#eef4fa" stroke="#9cbedb" stroke-width="0.9"/>
<circle cx="484.0" cy="397.9" r="1.55" fill="#eef4fa" stroke="#9cbedb" stroke-width="0.9"/>
<circle cx="482.9" cy="394.9" r="1.55" fill="#eef4fa" stroke="#9cbedb" stroke-width="0.9"/>
<circle cx="482.4" cy="391.8" r="1.55" fill="#eef4fa" stroke="#9cbedb" stroke-width="0.9"/>
<circle cx="482.6" cy="388.6" r="1.55" fill="#eef4fa" stroke="#9cbedb" stroke-width="0.9"/>
<circle cx="483.4" cy="385.6" r="1.55" fill="#eef4fa" stroke="#9cbedb" stroke-width="0.9"/>
<circle cx="484.8" cy="382.8" r="1.55" fill="#eef4fa" stroke="#9cbedb" stroke-width="0.9"/>
<circle cx="486.7" cy="380.3" r="1.55" fill="#eef4fa" stroke="#9cbedb" stroke-width="0.9"/>
<circle cx="489.1" cy="378.2" r="1.55" fill="#eef4fa" stroke="#9cbedb" stroke-width="0.9"/>
<circle cx="491.8" cy="376.7" r="1.55" fill="#eef4fa" stroke="#9cbedb" stroke-width="0.9"/>
<circle cx="494.8" cy="375.7" r="1.55" fill="#eef4fa" stroke="#9cbedb" stroke-width="0.9"/>
<circle cx="498.0" cy="375.4" r="1.55" fill="#eef4fa" stroke="#9cbedb" stroke-width="0.9"/>
<circle cx="501.1" cy="375.7" r="1.55" fill="#eef4fa" stroke="#9cbedb" stroke-width="0.9"/>
<circle cx="504.1" cy="376.7" r="1.55" fill="#eef4fa" stroke="#9cbedb" stroke-width="0.9"/>
<circle cx="506.9" cy="378.2" r="1.55" fill="#eef4fa" stroke="#9cbedb" stroke-width="0.9"/>
<circle cx="509.3" cy="380.2" r="1.55" fill="#eef4fa" stroke="#9cbedb" stroke-width="0.9"/>
<circle cx="511.2" cy="382.7" r="1.55" fill="#eef4fa" stroke="#9cbedb" stroke-width="0.9"/>
<circle cx="512.6" cy="385.6" r="1.55" fill="#eef4fa" stroke="#9cbedb" stroke-width="0.9"/>
<circle cx="513.4" cy="388.6" r="1.55" fill="#eef4fa" stroke="#9cbedb" stroke-width="0.9"/>
<circle cx="498" cy="391" r="13.8" fill="#f7f8fa" stroke="#2f6796" stroke-width="1.5"/>
<line x1="515.1" y1="397.2" x2="517.0" y2="401.1" stroke="#2a3f78" stroke-width="0.9"/>
<circle cx="515.1" cy="397.2" r="1.5" fill="#2a6aa0"/>
<line x1="508.2" y1="406.1" x2="507.4" y2="410.3" stroke="#2a3f78" stroke-width="0.9"/>
<circle cx="508.2" cy="406.1" r="1.5" fill="#2a6aa0"/>
<line x1="497.3" y1="409.2" x2="494.2" y2="412.2" stroke="#2a3f78" stroke-width="0.9"/>
<circle cx="497.3" cy="409.2" r="1.5" fill="#2a6aa0"/>
<line x1="486.8" y1="405.3" x2="482.5" y2="405.9" stroke="#2a3f78" stroke-width="0.9"/>
<circle cx="486.8" cy="405.3" r="1.5" fill="#2a6aa0"/>
<line x1="480.5" y1="396.0" x2="476.7" y2="394.0" stroke="#2a3f78" stroke-width="0.9"/>
<circle cx="480.5" cy="396.0" r="1.5" fill="#2a6aa0"/>
<line x1="480.9" y1="384.8" x2="479.0" y2="380.9" stroke="#2a3f78" stroke-width="0.9"/>
<circle cx="480.9" cy="384.8" r="1.5" fill="#2a6aa0"/>
<line x1="487.8" y1="375.9" x2="488.6" y2="371.7" stroke="#2a3f78" stroke-width="0.9"/>
<circle cx="487.8" cy="375.9" r="1.5" fill="#2a6aa0"/>
<line x1="498.7" y1="372.8" x2="501.8" y2="369.8" stroke="#2a3f78" stroke-width="0.9"/>
<circle cx="498.7" cy="372.8" r="1.5" fill="#2a6aa0"/>
<line x1="509.2" y1="376.7" x2="513.5" y2="376.1" stroke="#2a3f78" stroke-width="0.9"/>
<circle cx="509.2" cy="376.7" r="1.5" fill="#2a6aa0"/>
<line x1="515.5" y1="386.0" x2="519.3" y2="388.0" stroke="#2a3f78" stroke-width="0.9"/>
<circle cx="515.5" cy="386.0" r="1.5" fill="#2a6aa0"/>
<polygon points="498.0,379.1 508.3,385.1 508.3,396.9 498.0,402.9 487.7,396.9 487.7,385.1" fill="#f6f7f8" stroke="#a66b38" stroke-width="2.1" stroke-dasharray="1.3 0.45"/>
<path d="M490.4,393.9 L505.6,393.9" stroke="#e58a96" stroke-width="0.9"/>
<path d="M497.0,393.9 l0,-2.5 q0,-3 3,-3 l1,-1" fill="none" stroke="#e58a96" stroke-width="0.9"/>
<path d="M499.4,388.1 a2.2,2.2 0 1,1 4.2,0.8 z" fill="#8f909c"/>
<circle cx="482.0" cy="420.4" r="1.55" fill="#eef4fa" stroke="#9cbedb" stroke-width="0.9"/>
<circle cx="481.7" cy="423.5" r="1.55" fill="#eef4fa" stroke="#9cbedb" stroke-width="0.9"/>
<circle cx="481.0" cy="426.6" r="1.55" fill="#eef4fa" stroke="#9cbedb" stroke-width="0.9"/>
<circle cx="479.7" cy="429.4" r="1.55" fill="#eef4fa" stroke="#9cbedb" stroke-width="0.9"/>
<circle cx="478.0" cy="432.1" r="1.55" fill="#eef4fa" stroke="#9cbedb" stroke-width="0.9"/>
<circle cx="475.9" cy="434.4" r="1.55" fill="#eef4fa" stroke="#9cbedb" stroke-width="0.9"/>
<circle cx="473.4" cy="436.3" r="1.55" fill="#eef4fa" stroke="#9cbedb" stroke-width="0.9"/>
<circle cx="470.6" cy="437.8" r="1.55" fill="#eef4fa" stroke="#9cbedb" stroke-width="0.9"/>
<circle cx="467.7" cy="438.8" r="1.55" fill="#eef4fa" stroke="#9cbedb" stroke-width="0.9"/>
<circle cx="464.6" cy="439.3" r="1.55" fill="#eef4fa" stroke="#9cbedb" stroke-width="0.9"/>
<circle cx="461.4" cy="439.3" r="1.55" fill="#eef4fa" stroke="#9cbedb" stroke-width="0.9"/>
<circle cx="458.3" cy="438.8" r="1.55" fill="#eef4fa" stroke="#9cbedb" stroke-width="0.9"/>
<circle cx="455.4" cy="437.8" r="1.55" fill="#eef4fa" stroke="#9cbedb" stroke-width="0.9"/>
<circle cx="452.6" cy="436.3" r="1.55" fill="#eef4fa" stroke="#9cbedb" stroke-width="0.9"/>
<circle cx="450.1" cy="434.4" r="1.55" fill="#eef4fa" stroke="#9cbedb" stroke-width="0.9"/>
<circle cx="448.0" cy="432.1" r="1.55" fill="#eef4fa" stroke="#9cbedb" stroke-width="0.9"/>
<circle cx="446.3" cy="429.4" r="1.55" fill="#eef4fa" stroke="#9cbedb" stroke-width="0.9"/>
<circle cx="445.0" cy="426.6" r="1.55" fill="#eef4fa" stroke="#9cbedb" stroke-width="0.9"/>
<circle cx="444.3" cy="423.5" r="1.55" fill="#eef4fa" stroke="#9cbedb" stroke-width="0.9"/>
<circle cx="444.0" cy="420.4" r="1.55" fill="#eef4fa" stroke="#9cbedb" stroke-width="0.9"/>
<circle cx="444.3" cy="417.3" r="1.55" fill="#eef4fa" stroke="#9cbedb" stroke-width="0.9"/>
<circle cx="445.0" cy="414.2" r="1.55" fill="#eef4fa" stroke="#9cbedb" stroke-width="0.9"/>
<circle cx="446.3" cy="411.4" r="1.55" fill="#eef4fa" stroke="#9cbedb" stroke-width="0.9"/>
<circle cx="448.0" cy="408.7" r="1.55" fill="#eef4fa" stroke="#9cbedb" stroke-width="0.9"/>
<circle cx="450.1" cy="406.4" r="1.55" fill="#eef4fa" stroke="#9cbedb" stroke-width="0.9"/>
<circle cx="452.6" cy="404.5" r="1.55" fill="#eef4fa" stroke="#9cbedb" stroke-width="0.9"/>
<circle cx="455.4" cy="403.0" r="1.55" fill="#eef4fa" stroke="#9cbedb" stroke-width="0.9"/>
<circle cx="458.3" cy="402.0" r="1.55" fill="#eef4fa" stroke="#9cbedb" stroke-width="0.9"/>
<circle cx="461.4" cy="401.5" r="1.55" fill="#eef4fa" stroke="#9cbedb" stroke-width="0.9"/>
<circle cx="464.6" cy="401.5" r="1.55" fill="#eef4fa" stroke="#9cbedb" stroke-width="0.9"/>
<circle cx="467.7" cy="402.0" r="1.55" fill="#eef4fa" stroke="#9cbedb" stroke-width="0.9"/>
<circle cx="470.6" cy="403.0" r="1.55" fill="#eef4fa" stroke="#9cbedb" stroke-width="0.9"/>
<circle cx="473.4" cy="404.5" r="1.55" fill="#eef4fa" stroke="#9cbedb" stroke-width="0.9"/>
<circle cx="475.9" cy="406.4" r="1.55" fill="#eef4fa" stroke="#9cbedb" stroke-width="0.9"/>
<circle cx="478.0" cy="408.7" r="1.55" fill="#eef4fa" stroke="#9cbedb" stroke-width="0.9"/>
<circle cx="479.7" cy="411.4" r="1.55" fill="#eef4fa" stroke="#9cbedb" stroke-width="0.9"/>
<circle cx="481.0" cy="414.2" r="1.55" fill="#eef4fa" stroke="#9cbedb" stroke-width="0.9"/>
<circle cx="481.7" cy="417.3" r="1.55" fill="#eef4fa" stroke="#9cbedb" stroke-width="0.9"/>
<circle cx="478.6" cy="421.2" r="1.55" fill="#eef4fa" stroke="#9cbedb" stroke-width="0.9"/>
<circle cx="478.1" cy="424.3" r="1.55" fill="#eef4fa" stroke="#9cbedb" stroke-width="0.9"/>
<circle cx="477.0" cy="427.3" r="1.55" fill="#eef4fa" stroke="#9cbedb" stroke-width="0.9"/>
<circle cx="475.3" cy="429.9" r="1.55" fill="#eef4fa" stroke="#9cbedb" stroke-width="0.9"/>
<circle cx="473.2" cy="432.2" r="1.55" fill="#eef4fa" stroke="#9cbedb" stroke-width="0.9"/>
<circle cx="470.6" cy="434.0" r="1.55" fill="#eef4fa" stroke="#9cbedb" stroke-width="0.9"/>
<circle cx="467.7" cy="435.3" r="1.55" fill="#eef4fa" stroke="#9cbedb" stroke-width="0.9"/>
<circle cx="464.6" cy="435.9" r="1.55" fill="#eef4fa" stroke="#9cbedb" stroke-width="0.9"/>
<circle cx="461.4" cy="435.9" r="1.55" fill="#eef4fa" stroke="#9cbedb" stroke-width="0.9"/>
<circle cx="458.3" cy="435.3" r="1.55" fill="#eef4fa" stroke="#9cbedb" stroke-width="0.9"/>
<circle cx="455.4" cy="434.0" r="1.55" fill="#eef4fa" stroke="#9cbedb" stroke-width="0.9"/>
<circle cx="452.8" cy="432.2" r="1.55" fill="#eef4fa" stroke="#9cbedb" stroke-width="0.9"/>
<circle cx="450.7" cy="430.0" r="1.55" fill="#eef4fa" stroke="#9cbedb" stroke-width="0.9"/>
<circle cx="449.0" cy="427.3" r="1.55" fill="#eef4fa" stroke="#9cbedb" stroke-width="0.9"/>
<circle cx="447.9" cy="424.3" r="1.55" fill="#eef4fa" stroke="#9cbedb" stroke-width="0.9"/>
<circle cx="447.4" cy="421.2" r="1.55" fill="#eef4fa" stroke="#9cbedb" stroke-width="0.9"/>
<circle cx="447.6" cy="418.0" r="1.55" fill="#eef4fa" stroke="#9cbedb" stroke-width="0.9"/>
<circle cx="448.4" cy="415.0" r="1.55" fill="#eef4fa" stroke="#9cbedb" stroke-width="0.9"/>
<circle cx="449.8" cy="412.2" r="1.55" fill="#eef4fa" stroke="#9cbedb" stroke-width="0.9"/>
<circle cx="451.7" cy="409.7" r="1.55" fill="#eef4fa" stroke="#9cbedb" stroke-width="0.9"/>
<circle cx="454.1" cy="407.6" r="1.55" fill="#eef4fa" stroke="#9cbedb" stroke-width="0.9"/>
<circle cx="456.8" cy="406.1" r="1.55" fill="#eef4fa" stroke="#9cbedb" stroke-width="0.9"/>
<circle cx="459.8" cy="405.1" r="1.55" fill="#eef4fa" stroke="#9cbedb" stroke-width="0.9"/>
<circle cx="463.0" cy="404.8" r="1.55" fill="#eef4fa" stroke="#9cbedb" stroke-width="0.9"/>
<circle cx="466.1" cy="405.1" r="1.55" fill="#eef4fa" stroke="#9cbedb" stroke-width="0.9"/>
<circle cx="469.1" cy="406.1" r="1.55" fill="#eef4fa" stroke="#9cbedb" stroke-width="0.9"/>
<circle cx="471.9" cy="407.6" r="1.55" fill="#eef4fa" stroke="#9cbedb" stroke-width="0.9"/>
<circle cx="474.3" cy="409.6" r="1.55" fill="#eef4fa" stroke="#9cbedb" stroke-width="0.9"/>
<circle cx="476.2" cy="412.1" r="1.55" fill="#eef4fa" stroke="#9cbedb" stroke-width="0.9"/>
<circle cx="477.6" cy="415.0" r="1.55" fill="#eef4fa" stroke="#9cbedb" stroke-width="0.9"/>
<circle cx="478.4" cy="418.0" r="1.55" fill="#eef4fa" stroke="#9cbedb" stroke-width="0.9"/>
<circle cx="463" cy="420.4" r="13.8" fill="#f7f8fa" stroke="#2f6796" stroke-width="1.5"/>
<line x1="480.1" y1="426.6" x2="482.0" y2="430.5" stroke="#2a3f78" stroke-width="0.9"/>
<circle cx="480.1" cy="426.6" r="1.5" fill="#2a6aa0"/>
<line x1="473.2" y1="435.5" x2="472.4" y2="439.7" stroke="#2a3f78" stroke-width="0.9"/>
<circle cx="473.2" cy="435.5" r="1.5" fill="#2a6aa0"/>
<line x1="462.3" y1="438.6" x2="459.2" y2="441.6" stroke="#2a3f78" stroke-width="0.9"/>
<circle cx="462.3" cy="438.6" r="1.5" fill="#2a6aa0"/>
<line x1="451.8" y1="434.7" x2="447.5" y2="435.3" stroke="#2a3f78" stroke-width="0.9"/>
<circle cx="451.8" cy="434.7" r="1.5" fill="#2a6aa0"/>
<line x1="445.5" y1="425.4" x2="441.7" y2="423.4" stroke="#2a3f78" stroke-width="0.9"/>
<circle cx="445.5" cy="425.4" r="1.5" fill="#2a6aa0"/>
<line x1="445.9" y1="414.2" x2="444.0" y2="410.3" stroke="#2a3f78" stroke-width="0.9"/>
<circle cx="445.9" cy="414.2" r="1.5" fill="#2a6aa0"/>
<line x1="452.8" y1="405.3" x2="453.6" y2="401.1" stroke="#2a3f78" stroke-width="0.9"/>
<circle cx="452.8" cy="405.3" r="1.5" fill="#2a6aa0"/>
<line x1="463.7" y1="402.2" x2="466.8" y2="399.2" stroke="#2a3f78" stroke-width="0.9"/>
<circle cx="463.7" cy="402.2" r="1.5" fill="#2a6aa0"/>
<line x1="474.2" y1="406.1" x2="478.5" y2="405.5" stroke="#2a3f78" stroke-width="0.9"/>
<circle cx="474.2" cy="406.1" r="1.5" fill="#2a6aa0"/>
<line x1="480.5" y1="415.4" x2="484.3" y2="417.4" stroke="#2a3f78" stroke-width="0.9"/>
<circle cx="480.5" cy="415.4" r="1.5" fill="#2a6aa0"/>
<polygon points="463.0,408.5 473.3,414.4 473.3,426.3 463.0,432.3 452.7,426.3 452.7,414.4" fill="#f6f7f8" stroke="#a66b38" stroke-width="2.1" stroke-dasharray="1.3 0.45"/>
<line x1="453.7775" y1="420.4" x2="472.2225" y2="420.4" stroke="#a8d8b4" stroke-width="1.4"/>
<path d="M453.8,420.4 L454.2,421.3 L454.6,421.7 L455.1,421.3 L455.5,420.4 L455.9,419.4 L456.4,419.1 L456.8,419.5 L457.2,420.5 L457.6,421.4 L458.1,421.7 L458.5,421.2 L458.9,420.3 L459.4,419.4 L459.8,419.1 L460.2,419.6 L460.6,420.6 L461.1,421.4 L461.5,421.7 L461.9,421.2 L462.4,420.2 L462.8,419.4 L463.2,419.1 L463.6,419.6 L464.1,420.6 L464.5,421.5 L464.9,421.7 L465.4,421.1 L465.8,420.1 L466.2,419.3 L466.6,419.1 L467.1,419.7 L467.5,420.7 L467.9,421.5 L468.4,421.7 L468.8,421.1 L469.2,420.1 L469.6,419.3 L470.1,419.1 L470.5,419.8 L470.9,420.8 L471.4,421.5 L471.8,421.6 L472.2,421.0" fill="none" stroke="#1a3a28" stroke-width="0.9"/>
<path d="M453.8,420.4 L454.2,419.5 L454.6,419.1 L455.1,419.5 L455.5,420.4 L455.9,421.4 L456.4,421.7 L456.8,421.3 L457.2,420.3 L457.6,419.4 L458.1,419.1 L458.5,419.6 L458.9,420.5 L459.4,421.4 L459.8,421.7 L460.2,421.2 L460.6,420.2 L461.1,419.4 L461.5,419.1 L461.9,419.6 L462.4,420.6 L462.8,421.4 L463.2,421.7 L463.6,421.2 L464.1,420.2 L464.5,419.3 L464.9,419.1 L465.4,419.7 L465.8,420.7 L466.2,421.5 L466.6,421.7 L467.1,421.1 L467.5,420.1 L467.9,419.3 L468.4,419.1 L468.8,419.7 L469.2,420.7 L469.6,421.5 L470.1,421.7 L470.5,421.0 L470.9,420.0 L471.4,419.3 L471.8,419.2 L472.2,419.8" fill="none" stroke="#2e6a4a" stroke-width="0.9"/>
<circle cx="527.7" cy="435.0" r="1.55" fill="#eef4fa" stroke="#9cbedb" stroke-width="0.9"/>
<circle cx="527.4" cy="438.1" r="1.55" fill="#eef4fa" stroke="#9cbedb" stroke-width="0.9"/>
<circle cx="526.7" cy="441.2" r="1.55" fill="#eef4fa" stroke="#9cbedb" stroke-width="0.9"/>
<circle cx="525.4" cy="444.0" r="1.55" fill="#eef4fa" stroke="#9cbedb" stroke-width="0.9"/>
<circle cx="523.7" cy="446.7" r="1.55" fill="#eef4fa" stroke="#9cbedb" stroke-width="0.9"/>
<circle cx="521.6" cy="449.0" r="1.55" fill="#eef4fa" stroke="#9cbedb" stroke-width="0.9"/>
<circle cx="519.1" cy="450.9" r="1.55" fill="#eef4fa" stroke="#9cbedb" stroke-width="0.9"/>
<circle cx="516.3" cy="452.4" r="1.55" fill="#eef4fa" stroke="#9cbedb" stroke-width="0.9"/>
<circle cx="513.4" cy="453.4" r="1.55" fill="#eef4fa" stroke="#9cbedb" stroke-width="0.9"/>
<circle cx="510.3" cy="453.9" r="1.55" fill="#eef4fa" stroke="#9cbedb" stroke-width="0.9"/>
<circle cx="507.1" cy="453.9" r="1.55" fill="#eef4fa" stroke="#9cbedb" stroke-width="0.9"/>
<circle cx="504.0" cy="453.4" r="1.55" fill="#eef4fa" stroke="#9cbedb" stroke-width="0.9"/>
<circle cx="501.1" cy="452.4" r="1.55" fill="#eef4fa" stroke="#9cbedb" stroke-width="0.9"/>
<circle cx="498.3" cy="450.9" r="1.55" fill="#eef4fa" stroke="#9cbedb" stroke-width="0.9"/>
<circle cx="495.8" cy="449.0" r="1.55" fill="#eef4fa" stroke="#9cbedb" stroke-width="0.9"/>
<circle cx="493.7" cy="446.7" r="1.55" fill="#eef4fa" stroke="#9cbedb" stroke-width="0.9"/>
<circle cx="492.0" cy="444.0" r="1.55" fill="#eef4fa" stroke="#9cbedb" stroke-width="0.9"/>
<circle cx="490.7" cy="441.2" r="1.55" fill="#eef4fa" stroke="#9cbedb" stroke-width="0.9"/>
<circle cx="490.0" cy="438.1" r="1.55" fill="#eef4fa" stroke="#9cbedb" stroke-width="0.9"/>
<circle cx="489.7" cy="435.0" r="1.55" fill="#eef4fa" stroke="#9cbedb" stroke-width="0.9"/>
<circle cx="490.0" cy="431.9" r="1.55" fill="#eef4fa" stroke="#9cbedb" stroke-width="0.9"/>
<circle cx="490.7" cy="428.8" r="1.55" fill="#eef4fa" stroke="#9cbedb" stroke-width="0.9"/>
<circle cx="492.0" cy="426.0" r="1.55" fill="#eef4fa" stroke="#9cbedb" stroke-width="0.9"/>
<circle cx="493.7" cy="423.3" r="1.55" fill="#eef4fa" stroke="#9cbedb" stroke-width="0.9"/>
<circle cx="495.8" cy="421.0" r="1.55" fill="#eef4fa" stroke="#9cbedb" stroke-width="0.9"/>
<circle cx="498.3" cy="419.1" r="1.55" fill="#eef4fa" stroke="#9cbedb" stroke-width="0.9"/>
<circle cx="501.1" cy="417.6" r="1.55" fill="#eef4fa" stroke="#9cbedb" stroke-width="0.9"/>
<circle cx="504.0" cy="416.6" r="1.55" fill="#eef4fa" stroke="#9cbedb" stroke-width="0.9"/>
<circle cx="507.1" cy="416.1" r="1.55" fill="#eef4fa" stroke="#9cbedb" stroke-width="0.9"/>
<circle cx="510.3" cy="416.1" r="1.55" fill="#eef4fa" stroke="#9cbedb" stroke-width="0.9"/>
<circle cx="513.4" cy="416.6" r="1.55" fill="#eef4fa" stroke="#9cbedb" stroke-width="0.9"/>
<circle cx="516.3" cy="417.6" r="1.55" fill="#eef4fa" stroke="#9cbedb" stroke-width="0.9"/>
<circle cx="519.1" cy="419.1" r="1.55" fill="#eef4fa" stroke="#9cbedb" stroke-width="0.9"/>
<circle cx="521.6" cy="421.0" r="1.55" fill="#eef4fa" stroke="#9cbedb" stroke-width="0.9"/>
<circle cx="523.7" cy="423.3" r="1.55" fill="#eef4fa" stroke="#9cbedb" stroke-width="0.9"/>
<circle cx="525.4" cy="426.0" r="1.55" fill="#eef4fa" stroke="#9cbedb" stroke-width="0.9"/>
<circle cx="526.7" cy="428.8" r="1.55" fill="#eef4fa" stroke="#9cbedb" stroke-width="0.9"/>
<circle cx="527.4" cy="431.9" r="1.55" fill="#eef4fa" stroke="#9cbedb" stroke-width="0.9"/>
<circle cx="524.3" cy="435.8" r="1.55" fill="#eef4fa" stroke="#9cbedb" stroke-width="0.9"/>
<circle cx="523.8" cy="438.9" r="1.55" fill="#eef4fa" stroke="#9cbedb" stroke-width="0.9"/>
<circle cx="522.7" cy="441.9" r="1.55" fill="#eef4fa" stroke="#9cbedb" stroke-width="0.9"/>
<circle cx="521.0" cy="444.5" r="1.55" fill="#eef4fa" stroke="#9cbedb" stroke-width="0.9"/>
<circle cx="518.9" cy="446.8" r="1.55" fill="#eef4fa" stroke="#9cbedb" stroke-width="0.9"/>
<circle cx="516.3" cy="448.6" r="1.55" fill="#eef4fa" stroke="#9cbedb" stroke-width="0.9"/>
<circle cx="513.4" cy="449.9" r="1.55" fill="#eef4fa" stroke="#9cbedb" stroke-width="0.9"/>
<circle cx="510.3" cy="450.5" r="1.55" fill="#eef4fa" stroke="#9cbedb" stroke-width="0.9"/>
<circle cx="507.1" cy="450.5" r="1.55" fill="#eef4fa" stroke="#9cbedb" stroke-width="0.9"/>
<circle cx="504.0" cy="449.9" r="1.55" fill="#eef4fa" stroke="#9cbedb" stroke-width="0.9"/>
<circle cx="501.1" cy="448.6" r="1.55" fill="#eef4fa" stroke="#9cbedb" stroke-width="0.9"/>
<circle cx="498.5" cy="446.8" r="1.55" fill="#eef4fa" stroke="#9cbedb" stroke-width="0.9"/>
<circle cx="496.4" cy="444.6" r="1.55" fill="#eef4fa" stroke="#9cbedb" stroke-width="0.9"/>
<circle cx="494.7" cy="441.9" r="1.55" fill="#eef4fa" stroke="#9cbedb" stroke-width="0.9"/>
<circle cx="493.6" cy="438.9" r="1.55" fill="#eef4fa" stroke="#9cbedb" stroke-width="0.9"/>
<circle cx="493.1" cy="435.8" r="1.55" fill="#eef4fa" stroke="#9cbedb" stroke-width="0.9"/>
<circle cx="493.3" cy="432.6" r="1.55" fill="#eef4fa" stroke="#9cbedb" stroke-width="0.9"/>
<circle cx="494.1" cy="429.6" r="1.55" fill="#eef4fa" stroke="#9cbedb" stroke-width="0.9"/>
<circle cx="495.5" cy="426.8" r="1.55" fill="#eef4fa" stroke="#9cbedb" stroke-width="0.9"/>
<circle cx="497.4" cy="424.3" r="1.55" fill="#eef4fa" stroke="#9cbedb" stroke-width="0.9"/>
<circle cx="499.8" cy="422.2" r="1.55" fill="#eef4fa" stroke="#9cbedb" stroke-width="0.9"/>
<circle cx="502.5" cy="420.7" r="1.55" fill="#eef4fa" stroke="#9cbedb" stroke-width="0.9"/>
<circle cx="505.5" cy="419.7" r="1.55" fill="#eef4fa" stroke="#9cbedb" stroke-width="0.9"/>
<circle cx="508.7" cy="419.4" r="1.55" fill="#eef4fa" stroke="#9cbedb" stroke-width="0.9"/>
<circle cx="511.8" cy="419.7" r="1.55" fill="#eef4fa" stroke="#9cbedb" stroke-width="0.9"/>
<circle cx="514.8" cy="420.7" r="1.55" fill="#eef4fa" stroke="#9cbedb" stroke-width="0.9"/>
<circle cx="517.6" cy="422.2" r="1.55" fill="#eef4fa" stroke="#9cbedb" stroke-width="0.9"/>
<circle cx="520.0" cy="424.2" r="1.55" fill="#eef4fa" stroke="#9cbedb" stroke-width="0.9"/>
<circle cx="521.9" cy="426.7" r="1.55" fill="#eef4fa" stroke="#9cbedb" stroke-width="0.9"/>
<circle cx="523.3" cy="429.6" r="1.55" fill="#eef4fa" stroke="#9cbedb" stroke-width="0.9"/>
<circle cx="524.1" cy="432.6" r="1.55" fill="#eef4fa" stroke="#9cbedb" stroke-width="0.9"/>
<circle cx="508.7" cy="435" r="13.8" fill="#f7f8fa" stroke="#2f6796" stroke-width="1.5"/>
<line x1="525.8" y1="441.2" x2="527.7" y2="445.1" stroke="#2a3f78" stroke-width="0.9"/>
<circle cx="525.8" cy="441.2" r="1.5" fill="#2a6aa0"/>
<line x1="518.9" y1="450.1" x2="518.1" y2="454.3" stroke="#2a3f78" stroke-width="0.9"/>
<circle cx="518.9" cy="450.1" r="1.5" fill="#2a6aa0"/>
<line x1="508.0" y1="453.2" x2="504.9" y2="456.2" stroke="#2a3f78" stroke-width="0.9"/>
<circle cx="508.0" cy="453.2" r="1.5" fill="#2a6aa0"/>
<line x1="497.5" y1="449.3" x2="493.2" y2="449.9" stroke="#2a3f78" stroke-width="0.9"/>
<circle cx="497.5" cy="449.3" r="1.5" fill="#2a6aa0"/>
<line x1="491.2" y1="440.0" x2="487.4" y2="438.0" stroke="#2a3f78" stroke-width="0.9"/>
<circle cx="491.2" cy="440.0" r="1.5" fill="#2a6aa0"/>
<line x1="491.6" y1="428.8" x2="489.7" y2="424.9" stroke="#2a3f78" stroke-width="0.9"/>
<circle cx="491.6" cy="428.8" r="1.5" fill="#2a6aa0"/>
<line x1="498.5" y1="419.9" x2="499.3" y2="415.7" stroke="#2a3f78" stroke-width="0.9"/>
<circle cx="498.5" cy="419.9" r="1.5" fill="#2a6aa0"/>
<line x1="509.4" y1="416.8" x2="512.5" y2="413.8" stroke="#2a3f78" stroke-width="0.9"/>
<circle cx="509.4" cy="416.8" r="1.5" fill="#2a6aa0"/>
<line x1="519.9" y1="420.7" x2="524.2" y2="420.1" stroke="#2a3f78" stroke-width="0.9"/>
<circle cx="519.9" cy="420.7" r="1.5" fill="#2a6aa0"/>
<line x1="526.2" y1="430.0" x2="530.0" y2="432.0" stroke="#2a3f78" stroke-width="0.9"/>
<circle cx="526.2" cy="430.0" r="1.5" fill="#2a6aa0"/>
<polygon points="508.7,423.1 519.0,429.1 519.0,440.9 508.7,446.9 498.4,440.9 498.4,429.1" fill="#f6f7f8" stroke="#a66b38" stroke-width="2.1" stroke-dasharray="1.3 0.45"/>
<text x="529" y="407.4" font-family="Liberation Serif" font-size="11.8" fill="#111" text-anchor="start" font-style="italic" stroke="#111" stroke-width="0.28">MVB</text>
<g transform="rotate(20 467.3 459.5)"><rect x="462.3" y="449.0" width="10" height="21" rx="3.5" fill="#9dbddb"/><circle cx="464.8" cy="451.5" r="1.9" fill="#1f5a90"/><circle cx="469.3" cy="452.5" r="1.9" fill="#1f5a90"/><circle cx="466.3" cy="455.5" r="1.9" fill="#1f5a90"/><circle cx="470.3" cy="457.0" r="1.9" fill="#1f5a90"/><circle cx="464.3" cy="459.5" r="1.9" fill="#1f5a90"/><circle cx="468.3" cy="461.5" r="1.9" fill="#1f5a90"/><circle cx="465.3" cy="464.5" r="1.9" fill="#1f5a90"/><circle cx="469.8" cy="465.5" r="1.9" fill="#1f5a90"/><circle cx="466.8" cy="468.0" r="1.9" fill="#1f5a90"/><circle cx="467.3" cy="450.0" r="1.2" fill="#e8f0f8"/><circle cx="464.3" cy="454.0" r="1.2" fill="#e8f0f8"/><circle cx="468.3" cy="458.5" r="1.2" fill="#e8f0f8"/><circle cx="470.8" cy="463.0" r="1.2" fill="#e8f0f8"/><circle cx="464.3" cy="462.0" r="1.2" fill="#e8f0f8"/><path d="M464.3,469.5 l-1,3 M467.3,470.0 l0,3 M470.3,469.5 l1,3" stroke="#1a2f60" stroke-width="1"/></g>
<path d="M257,419 L241,437 L271,425" fill="none" stroke="#9a5aa8" stroke-width="7.2" stroke-linecap="round" stroke-linejoin="round"/>
<path d="M257,419 L241,437 L271,425" fill="none" stroke="#fbfafc" stroke-width="4.2" stroke-linecap="round" stroke-linejoin="round"/>
<path d="M235,446 C230,455 226,464 224,472 C222,480 220,490 219,497 M221,499 L222,507" fill="none" stroke="#9a5aa8" stroke-width="7.2" stroke-linecap="round" stroke-linejoin="round"/>
<path d="M235,446 C230,455 226,464 224,472 C222,480 220,490 219,497 M221,499 L222,507" fill="none" stroke="#fbfafc" stroke-width="4.2" stroke-linecap="round" stroke-linejoin="round"/>
<path d="M246,446 C242,452 239,458 237,464 C234,472 230,480 229,488 L230,509" fill="none" stroke="#9a5aa8" stroke-width="7.2" stroke-linecap="round" stroke-linejoin="round"/>
<path d="M246,446 C242,452 239,458 237,464 C234,472 230,480 229,488 L230,509" fill="none" stroke="#fbfafc" stroke-width="4.2" stroke-linecap="round" stroke-linejoin="round"/>
<path d="M258,446 C254,452 251,458 249,464 C245,472 242,478 239,482" fill="none" stroke="#9a5aa8" stroke-width="7.2" stroke-linecap="round" stroke-linejoin="round"/>
<path d="M258,446 C254,452 251,458 249,464 C245,472 242,478 239,482" fill="none" stroke="#fbfafc" stroke-width="4.2" stroke-linecap="round" stroke-linejoin="round"/>
<circle cx="255" cy="416" r="0.9" fill="#222"/>
<circle cx="263" cy="417" r="0.9" fill="#222"/>
<circle cx="236" cy="437" r="0.9" fill="#222"/>
<circle cx="240" cy="441" r="0.9" fill="#222"/>
<circle cx="274" cy="423" r="0.9" fill="#222"/>
<circle cx="265" cy="431" r="0.9" fill="#222"/>
<circle cx="231" cy="446" r="0.9" fill="#222"/>
<circle cx="228" cy="455" r="0.9" fill="#222"/>
<circle cx="224" cy="465" r="0.9" fill="#222"/>
<circle cx="220" cy="474" r="0.9" fill="#222"/>
<circle cx="218" cy="484" r="0.9" fill="#222"/>
<circle cx="216" cy="494" r="0.9" fill="#222"/>
<circle cx="219" cy="510" r="0.9" fill="#222"/>
<circle cx="226" cy="511" r="0.9" fill="#222"/>
<circle cx="233" cy="509" r="0.9" fill="#222"/>
<circle cx="250" cy="444" r="0.9" fill="#222"/>
<circle cx="262" cy="444" r="0.9" fill="#222"/>
<circle cx="255" cy="455" r="0.9" fill="#222"/>
<circle cx="244" cy="470" r="0.9" fill="#222"/>
<circle cx="240" cy="485" r="0.9" fill="#222"/>
<circle cx="232" cy="492" r="0.9" fill="#222"/>
<circle cx="225" cy="480" r="0.9" fill="#222"/>
<circle cx="230" cy="463" r="0.9" fill="#222"/>
<circle cx="238" cy="455" r="0.9" fill="#222"/>
<circle cx="266" cy="428" r="0.9" fill="#222"/>
<path d="M256.8,453.4 L259.8,455.4" stroke="#1f4f80" stroke-width="0.9"/><circle cx="260.3" cy="455.9" r="1.6" fill="#1f5f95"/>
<path d="M250,459.4 L253,461.4" stroke="#1f4f80" stroke-width="0.9"/><circle cx="253.5" cy="461.9" r="1.6" fill="#1f5f95"/>
<path d="M248.2,464.5 L251.2,466.5" stroke="#1f4f80" stroke-width="0.9"/><circle cx="251.7" cy="467.0" r="1.6" fill="#1f5f95"/>
<path d="M242.2,475.6 L245.2,477.6" stroke="#1f4f80" stroke-width="0.9"/><circle cx="245.7" cy="478.1" r="1.6" fill="#1f5f95"/>
<path d="M242.2,481.6 L245.2,483.6" stroke="#1f4f80" stroke-width="0.9"/><circle cx="245.7" cy="484.1" r="1.6" fill="#1f5f95"/>
<path d="M232.8,465.4 L235.8,467.4" stroke="#1f4f80" stroke-width="0.9"/><circle cx="236.3" cy="467.9" r="1.6" fill="#1f5f95"/>
<path d="M217.4,493.6 L220.4,495.6" stroke="#1f4f80" stroke-width="0.9"/><circle cx="220.9" cy="496.1" r="1.6" fill="#1f5f95"/>
<rect x="232" y="448.2" width="4" height="4" fill="#5ab06a"/>
<rect x="240.7" y="468" width="4" height="4" fill="#5ab06a"/>
<circle cx="257.2" cy="432.3" r="1.8" fill="#c07a2a"/>
<circle cx="247" cy="430" r="1.3" fill="none" stroke="#6aa0c8" stroke-width="0.8"/>
<circle cx="240" cy="451" r="1.3" fill="none" stroke="#6aa0c8" stroke-width="0.8"/>
<circle cx="236" cy="460" r="1.3" fill="none" stroke="#6aa0c8" stroke-width="0.8"/>
<circle cx="230" cy="478" r="1.3" fill="none" stroke="#6aa0c8" stroke-width="0.8"/>
<rect x="158" y="512" width="137" height="18" fill="#ffffff"/>
<text x="161.6" y="525.2" font-family="Liberation Serif" font-size="11.8" fill="#111" text-anchor="start" font-style="italic" stroke="#111" stroke-width="0.28">Endocytoplasmic Reticulum</text>
<rect x="164" y="464" width="19" height="16" fill="#ffffff"/>
<text x="167" y="476" font-family="Liberation Serif" font-size="11.8" fill="#a66b38" text-anchor="start">(e)</text>
<path d="M166,451 Q175,466 214,469" fill="none" stroke="#111" stroke-width="1.5" marker-end="url(#ah)"/>
<rect x="282" y="473" width="18" height="16" fill="#ffffff"/>
<text x="285" y="485" font-family="Liberation Serif" font-size="11.8" fill="#a66b38" text-anchor="start">(e)</text>
<path d="M267,475 L320,475" fill="none" stroke="#111" stroke-width="1.5" marker-end="url(#ah)"/>
<path d="M347,436 C346,446 345.5,452 345.5,457 C345,463 343,468 342.6,472 C342,478 342.6,484 342.6,489 M345,462 L334,464 M342.6,474 L333,479" fill="none" stroke="#9a5aa8" stroke-width="8.4" stroke-linecap="round" stroke-linejoin="round"/>
<path d="M347,436 C346,446 345.5,452 345.5,457 C345,463 343,468 342.6,472 C342,478 342.6,484 342.6,489 M345,462 L334,464 M342.6,474 L333,479" fill="none" stroke="#fbfafc" stroke-width="5.4" stroke-linecap="round" stroke-linejoin="round"/>
<path d="M359.5,433 C359.5,445 359,452 358.8,457 C358,465 357,472 356.6,479 L358.8,489" fill="none" stroke="#9a5aa8" stroke-width="8.4" stroke-linecap="round" stroke-linejoin="round"/>
<path d="M359.5,433 C359.5,445 359,452 358.8,457 C358,465 357,472 356.6,479 L358.8,489" fill="none" stroke="#fbfafc" stroke-width="5.4" stroke-linecap="round" stroke-linejoin="round"/>
<path d="M369,441 L377.9,442 M370,441 C368,450 367.6,458 367.6,464 C367.6,472 368.5,478 369,483" fill="none" stroke="#9a5aa8" stroke-width="8.4" stroke-linecap="round" stroke-linejoin="round"/>
<path d="M369,441 L377.9,442 M370,441 C368,450 367.6,458 367.6,464 C367.6,472 368.5,478 369,483" fill="none" stroke="#fbfafc" stroke-width="5.4" stroke-linecap="round" stroke-linejoin="round"/>
<path d="M382.3,452.3 C381,458 381,462 382.3,467 M381,462 C378,470 375,475 373.5,479" fill="none" stroke="#9a5aa8" stroke-width="8.4" stroke-linecap="round" stroke-linejoin="round"/>
<path d="M382.3,452.3 C381,458 381,462 382.3,467 M381,462 C378,470 375,475 373.5,479" fill="none" stroke="#fbfafc" stroke-width="5.4" stroke-linecap="round" stroke-linejoin="round"/>
<ellipse cx="342" cy="490" rx="6" ry="5" fill="#fbfafc" stroke="#9a5aa8" stroke-width="1.6"/>
<ellipse cx="359" cy="490" rx="6" ry="5" fill="#fbfafc" stroke="#9a5aa8" stroke-width="1.6"/>
<circle cx="387.4" cy="438.4" r="4.4" fill="#fbfafc" stroke="#9a5aa8" stroke-width="1.6"/>
<circle cx="380" cy="492" r="4.4" fill="#fbfafc" stroke="#9a5aa8" stroke-width="1.6"/>
<circle cx="357.3" cy="501.5" r="4.4" fill="#fbfafc" stroke="#9a5aa8" stroke-width="1.6"/>
<circle cx="358" cy="445.7" r="1.7" fill="#c07a2a"/>
<circle cx="369.8" cy="444.2" r="1.7" fill="#c07a2a"/>
<circle cx="346.3" cy="480.2" r="1.7" fill="#1a8a8a"/>
<circle cx="367.6" cy="482.4" r="1.7" fill="#1a8a8a"/>
<rect x="354.8" y="457.8" width="3.6" height="3.6" fill="#5ab06a"/>
<rect x="356.2" y="477.7" width="3.6" height="3.6" fill="#5ab06a"/>
<rect x="378.2" y="465.2" width="3.6" height="3.6" fill="#5ab06a"/>
<path d="M345.5,454 L348.5,455" stroke="#1f4f80" stroke-width="1"/><circle cx="349.0" cy="455.3" r="1.5" fill="#1f5f95"/>
<path d="M335,472 L338,473" stroke="#1f4f80" stroke-width="1"/><circle cx="338.5" cy="473.3" r="1.5" fill="#1f5f95"/>
<path d="M364.6,455 L367.6,456" stroke="#1f4f80" stroke-width="1"/><circle cx="368.1" cy="456.3" r="1.5" fill="#1f5f95"/>
<path d="M369,464.5 L372,465.5" stroke="#1f4f80" stroke-width="1"/><circle cx="372.5" cy="465.8" r="1.5" fill="#1f5f95"/>
<circle cx="345" cy="464" r="1.2" fill="none" stroke="#6aa0c8" stroke-width="0.8"/>
<circle cx="352" cy="470" r="1.2" fill="none" stroke="#6aa0c8" stroke-width="0.8"/>
<circle cx="363" cy="469" r="1.2" fill="none" stroke="#6aa0c8" stroke-width="0.8"/>
<rect x="322" y="512" width="76" height="18" fill="#ffffff"/>
<text x="325.5" y="525.2" font-family="Liberation Serif" font-size="11.8" fill="#111" text-anchor="start" font-style="italic" stroke="#111" stroke-width="0.28">Golgi complex</text>
<rect x="400" y="452" width="18" height="16" fill="#ffffff"/>
<text x="403" y="464.5" font-family="Liberation Serif" font-size="11.8" fill="#a66b38" text-anchor="start">(g)</text>
<path d="M390,475 Q420,476 430,452" fill="none" stroke="#111" stroke-width="1.5" marker-end="url(#ah)"/>
<rect x="480.7" y="490.7" width="27.600000000000023" height="19.100000000000023" fill="#ffffff"/>
<text x="486.5" y="503.5" font-family="Liberation Serif" font-size="11.8" fill="#a66b38" text-anchor="start">(f)</text>
<polygon points="392.5,488.0 394.3,488.7 396.6,489.7 399.3,490.9 402.3,492.2 405.5,493.6 409.0,495.1 412.5,496.6 416.1,498.2 419.7,499.7 423.3,501.1 426.6,502.4 429.8,503.6 432.7,504.8 435.6,505.8 438.4,506.9 441.2,508.0 444.0,509.0 446.8,510.0 449.6,510.9 452.5,511.8 455.4,512.7 458.4,513.5 461.4,514.2 464.6,514.9 467.9,515.6 471.2,516.2 474.7,516.8 478.1,517.3 481.7,517.8 485.3,518.3 488.9,518.6 492.5,519.0 496.2,519.2 499.8,519.4 503.4,519.5 507.0,519.5 510.6,519.5 514.2,519.3 517.8,519.1 521.4,518.8 525.1,518.5 528.7,518.1 532.3,517.6 535.9,517.1 539.5,516.5 543.2,515.9 546.7,515.2 550.3,514.5 554.0,513.7 557.9,512.7 562.0,511.6 566.1,510.5 570.2,509.2 574.2,508.0 578.0,506.8 581.7,505.6 585.0,504.6 588.0,503.6 590.5,502.8 592.5,502.2 591.5,498.8 589.4,499.4 586.9,500.3 583.9,501.3 580.6,502.4 577.0,503.6 573.2,504.8 569.2,506.1 565.2,507.4 561.1,508.6 557.1,509.7 553.3,510.7 549.7,511.5 546.2,512.3 542.6,513.0 539.1,513.6 535.5,514.2 531.9,514.8 528.3,515.3 524.8,515.8 521.2,516.2 517.6,516.5 514.1,516.8 510.5,517.0 507.0,517.1 503.4,517.1 499.9,517.0 496.3,516.9 492.7,516.7 489.1,516.4 485.5,516.1 482.0,515.7 478.4,515.2 475.0,514.8 471.6,514.2 468.2,513.7 465.0,513.1 461.9,512.4 458.8,511.7 455.9,511.0 453.0,510.2 450.2,509.3 447.4,508.4 444.6,507.5 441.8,506.5 439.0,505.5 436.1,504.5 433.2,503.4 430.2,502.4 427.1,501.2 423.7,499.9 420.2,498.5 416.6,497.1 413.0,495.6 409.4,494.1 405.9,492.7 402.7,491.3 399.6,490.0 397.0,488.9 394.7,488.0 392.9,487.2" fill="#111"/>
<polygon points="601.5,498.0 588.6,508.1 591.1,500.7 585.3,495.5" fill="#111"/>
<polygon points="556.6,432.7 557.1,432.8 557.9,433.0 558.7,433.1 559.7,433.4 560.8,433.6 561.9,433.8 563.1,434.0 564.4,434.1 565.7,434.2 567.0,434.3 568.3,434.2 569.5,434.1 570.8,433.9 572.1,433.6 573.5,433.3 574.9,432.8 576.3,432.4 577.8,431.9 579.2,431.4 580.6,430.8 581.9,430.2 583.2,429.7 584.4,429.1 585.6,428.5 586.7,427.9 587.9,427.2 588.9,426.5 590.0,425.7 591.0,425.0 591.9,424.2 592.8,423.5 593.7,422.8 594.4,422.1 595.1,421.6 595.6,421.1 596.1,420.8 593.9,418.2 593.4,418.6 592.9,419.2 592.3,419.8 591.6,420.5 590.8,421.2 590.0,422.0 589.1,422.7 588.2,423.5 587.3,424.3 586.4,425.0 585.4,425.7 584.4,426.3 583.3,426.9 582.2,427.5 580.9,428.1 579.7,428.7 578.3,429.3 577.0,429.9 575.6,430.5 574.3,431.0 573.0,431.5 571.7,431.9 570.4,432.2 569.3,432.5 568.1,432.7 566.9,432.8 565.7,432.8 564.5,432.8 563.3,432.7 562.1,432.6 561.0,432.4 559.9,432.3 558.9,432.1 558.0,432.0 557.3,431.9 556.6,431.9" fill="#111"/>
<polygon points="603.6,415.7 593.4,427.3 594.4,419.8 588.2,415.4" fill="#111"/>
<polygon points="614.7,99.4 625.4,105.5 625.4,117.9 614.7,124.0 604.0,117.9 604.0,105.5" fill="#f6f7f8" stroke="#a66b38" stroke-width="2.1" stroke-dasharray="1.3 0.45"/>
<rect x="631" y="97" width="75.5" height="29.5" fill="#ffffff"/>
<text x="666" y="108.3" font-family="Liberation Serif" font-size="11.8" fill="#111" text-anchor="middle" stroke="#111" stroke-width="0.28">Naked</text>
<text x="666" y="122" font-family="Liberation Serif" font-size="11.8" fill="#111" text-anchor="middle" stroke="#111" stroke-width="0.28">capsid</text>
<polygon points="614.5,132.5 625.2,138.7 625.2,151.0 614.5,157.1 603.8,151.0 603.8,138.7" fill="#f6f7f8" stroke="#a66b38" stroke-width="2.1" stroke-dasharray="1.3 0.45"/>
<path d="M606.6,147.8 L622.4,147.8" stroke="#e58a96" stroke-width="0.9"/>
<path d="M613.5,147.8 l0,-2.5 q0,-3 3,-3 l1,-1" fill="none" stroke="#e58a96" stroke-width="0.9"/>
<path d="M616.0,141.8 a2.2,2.2 0 1,1 4.2,0.8 z" fill="#8f909c"/>
<rect x="630" y="131" width="78" height="30" fill="#ffffff"/>
<text x="668.8" y="142" font-family="Liberation Serif" font-size="11.8" fill="#111" text-anchor="middle" stroke="#111" stroke-width="0.28">Immature</text>
<text x="668.8" y="156" font-family="Liberation Serif" font-size="11.8" fill="#111" text-anchor="middle" stroke="#111" stroke-width="0.28">pgRNA capsid</text>
<rect x="593" y="130.6" width="120.3" height="32" rx="6" fill="none" stroke="#c0262c" stroke-width="1.5"/>
<polygon points="614.5,165.7 625.2,171.8 625.2,184.2 614.5,190.3 603.8,184.2 603.8,171.8" fill="#f6f7f8" stroke="#a66b38" stroke-width="2.1" stroke-dasharray="1.3 0.45"/>
<line x1="604.9675" y1="178" x2="624.0325" y2="178" stroke="#a8d8b4" stroke-width="1.4"/>
<path d="M605.0,178.0 L605.4,178.9 L605.8,179.3 L606.3,178.9 L606.7,177.9 L607.1,177.0 L607.6,176.7 L608.0,177.2 L608.4,178.2 L608.9,179.0 L609.3,179.3 L609.7,178.8 L610.2,177.8 L610.6,176.9 L611.0,176.7 L611.5,177.3 L611.9,178.3 L612.3,179.1 L612.8,179.3 L613.2,178.6 L613.6,177.6 L614.1,176.8 L614.5,176.8 L614.9,177.5 L615.4,178.5 L615.8,179.2 L616.2,179.2 L616.7,178.5 L617.1,177.5 L617.5,176.8 L618.0,176.8 L618.4,177.6 L618.8,178.6 L619.3,179.2 L619.7,179.1 L620.1,178.3 L620.6,177.3 L621.0,176.7 L621.4,176.9 L621.9,177.8 L622.3,178.7 L622.7,179.3 L623.2,179.0 L623.6,178.2 L624.0,177.2" fill="none" stroke="#1a3a28" stroke-width="0.9"/>
<path d="M605.0,178.0 L605.4,177.1 L605.8,176.7 L606.3,177.1 L606.7,178.1 L607.1,179.0 L607.6,179.3 L608.0,178.8 L608.4,177.8 L608.9,177.0 L609.3,176.7 L609.7,177.2 L610.2,178.2 L610.6,179.1 L611.0,179.3 L611.5,178.7 L611.9,177.7 L612.3,176.9 L612.8,176.7 L613.2,177.4 L613.6,178.4 L614.1,179.2 L614.5,179.2 L614.9,178.5 L615.4,177.5 L615.8,176.8 L616.2,176.8 L616.7,177.5 L617.1,178.5 L617.5,179.2 L618.0,179.2 L618.4,178.4 L618.8,177.4 L619.3,176.8 L619.7,176.9 L620.1,177.7 L620.6,178.7 L621.0,179.3 L621.4,179.1 L621.9,178.2 L622.3,177.3 L622.7,176.7 L623.2,177.0 L623.6,177.8 L624.0,178.8" fill="none" stroke="#2e6a4a" stroke-width="0.9"/>
<rect x="630" y="165" width="82" height="31" fill="#ffffff"/>
<text x="668" y="175.6" font-family="Liberation Serif" font-size="11.8" fill="#111" text-anchor="middle" stroke="#111" stroke-width="0.28">Immature</text>
<text x="668" y="189.3" font-family="Liberation Serif" font-size="11.8" fill="#111" text-anchor="middle" stroke="#111" stroke-width="0.28">DSL-DNA capsid</text>
<circle cx="635.3" cy="223.5" r="1.55" fill="#eef4fa" stroke="#9cbedb" stroke-width="0.9"/>
<circle cx="635.0" cy="226.6" r="1.55" fill="#eef4fa" stroke="#9cbedb" stroke-width="0.9"/>
<circle cx="634.3" cy="229.7" r="1.55" fill="#eef4fa" stroke="#9cbedb" stroke-width="0.9"/>
<circle cx="633.0" cy="232.5" r="1.55" fill="#eef4fa" stroke="#9cbedb" stroke-width="0.9"/>
<circle cx="631.3" cy="235.2" r="1.55" fill="#eef4fa" stroke="#9cbedb" stroke-width="0.9"/>
<circle cx="629.2" cy="237.5" r="1.55" fill="#eef4fa" stroke="#9cbedb" stroke-width="0.9"/>
<circle cx="626.7" cy="239.4" r="1.55" fill="#eef4fa" stroke="#9cbedb" stroke-width="0.9"/>
<circle cx="623.9" cy="240.9" r="1.55" fill="#eef4fa" stroke="#9cbedb" stroke-width="0.9"/>
<circle cx="621.0" cy="241.9" r="1.55" fill="#eef4fa" stroke="#9cbedb" stroke-width="0.9"/>
<circle cx="617.9" cy="242.4" r="1.55" fill="#eef4fa" stroke="#9cbedb" stroke-width="0.9"/>
<circle cx="614.7" cy="242.4" r="1.55" fill="#eef4fa" stroke="#9cbedb" stroke-width="0.9"/>
<circle cx="611.6" cy="241.9" r="1.55" fill="#eef4fa" stroke="#9cbedb" stroke-width="0.9"/>
<circle cx="608.7" cy="240.9" r="1.55" fill="#eef4fa" stroke="#9cbedb" stroke-width="0.9"/>
<circle cx="605.9" cy="239.4" r="1.55" fill="#eef4fa" stroke="#9cbedb" stroke-width="0.9"/>
<circle cx="603.4" cy="237.5" r="1.55" fill="#eef4fa" stroke="#9cbedb" stroke-width="0.9"/>
<circle cx="601.3" cy="235.2" r="1.55" fill="#eef4fa" stroke="#9cbedb" stroke-width="0.9"/>
<circle cx="599.6" cy="232.5" r="1.55" fill="#eef4fa" stroke="#9cbedb" stroke-width="0.9"/>
<circle cx="598.3" cy="229.7" r="1.55" fill="#eef4fa" stroke="#9cbedb" stroke-width="0.9"/>
<circle cx="597.6" cy="226.6" r="1.55" fill="#eef4fa" stroke="#9cbedb" stroke-width="0.9"/>
<circle cx="597.3" cy="223.5" r="1.55" fill="#eef4fa" stroke="#9cbedb" stroke-width="0.9"/>
<circle cx="597.6" cy="220.4" r="1.55" fill="#eef4fa" stroke="#9cbedb" stroke-width="0.9"/>
<circle cx="598.3" cy="217.3" r="1.55" fill="#eef4fa" stroke="#9cbedb" stroke-width="0.9"/>
<circle cx="599.6" cy="214.5" r="1.55" fill="#eef4fa" stroke="#9cbedb" stroke-width="0.9"/>
<circle cx="601.3" cy="211.8" r="1.55" fill="#eef4fa" stroke="#9cbedb" stroke-width="0.9"/>
<circle cx="603.4" cy="209.5" r="1.55" fill="#eef4fa" stroke="#9cbedb" stroke-width="0.9"/>
<circle cx="605.9" cy="207.6" r="1.55" fill="#eef4fa" stroke="#9cbedb" stroke-width="0.9"/>
<circle cx="608.7" cy="206.1" r="1.55" fill="#eef4fa" stroke="#9cbedb" stroke-width="0.9"/>
<circle cx="611.6" cy="205.1" r="1.55" fill="#eef4fa" stroke="#9cbedb" stroke-width="0.9"/>
<circle cx="614.7" cy="204.6" r="1.55" fill="#eef4fa" stroke="#9cbedb" stroke-width="0.9"/>
<circle cx="617.9" cy="204.6" r="1.55" fill="#eef4fa" stroke="#9cbedb" stroke-width="0.9"/>
<circle cx="621.0" cy="205.1" r="1.55" fill="#eef4fa" stroke="#9cbedb" stroke-width="0.9"/>
<circle cx="623.9" cy="206.1" r="1.55" fill="#eef4fa" stroke="#9cbedb" stroke-width="0.9"/>
<circle cx="626.7" cy="207.6" r="1.55" fill="#eef4fa" stroke="#9cbedb" stroke-width="0.9"/>
<circle cx="629.2" cy="209.5" r="1.55" fill="#eef4fa" stroke="#9cbedb" stroke-width="0.9"/>
<circle cx="631.3" cy="211.8" r="1.55" fill="#eef4fa" stroke="#9cbedb" stroke-width="0.9"/>
<circle cx="633.0" cy="214.5" r="1.55" fill="#eef4fa" stroke="#9cbedb" stroke-width="0.9"/>
<circle cx="634.3" cy="217.3" r="1.55" fill="#eef4fa" stroke="#9cbedb" stroke-width="0.9"/>
<circle cx="635.0" cy="220.4" r="1.55" fill="#eef4fa" stroke="#9cbedb" stroke-width="0.9"/>
<circle cx="631.9" cy="224.3" r="1.55" fill="#eef4fa" stroke="#9cbedb" stroke-width="0.9"/>
<circle cx="631.4" cy="227.4" r="1.55" fill="#eef4fa" stroke="#9cbedb" stroke-width="0.9"/>
<circle cx="630.3" cy="230.4" r="1.55" fill="#eef4fa" stroke="#9cbedb" stroke-width="0.9"/>
<circle cx="628.6" cy="233.0" r="1.55" fill="#eef4fa" stroke="#9cbedb" stroke-width="0.9"/>
<circle cx="626.5" cy="235.3" r="1.55" fill="#eef4fa" stroke="#9cbedb" stroke-width="0.9"/>
<circle cx="623.9" cy="237.1" r="1.55" fill="#eef4fa" stroke="#9cbedb" stroke-width="0.9"/>
<circle cx="621.0" cy="238.4" r="1.55" fill="#eef4fa" stroke="#9cbedb" stroke-width="0.9"/>
<circle cx="617.9" cy="239.0" r="1.55" fill="#eef4fa" stroke="#9cbedb" stroke-width="0.9"/>
<circle cx="614.7" cy="239.0" r="1.55" fill="#eef4fa" stroke="#9cbedb" stroke-width="0.9"/>
<circle cx="611.6" cy="238.4" r="1.55" fill="#eef4fa" stroke="#9cbedb" stroke-width="0.9"/>
<circle cx="608.7" cy="237.1" r="1.55" fill="#eef4fa" stroke="#9cbedb" stroke-width="0.9"/>
<circle cx="606.1" cy="235.3" r="1.55" fill="#eef4fa" stroke="#9cbedb" stroke-width="0.9"/>
<circle cx="604.0" cy="233.1" r="1.55" fill="#eef4fa" stroke="#9cbedb" stroke-width="0.9"/>
<circle cx="602.3" cy="230.4" r="1.55" fill="#eef4fa" stroke="#9cbedb" stroke-width="0.9"/>
<circle cx="601.2" cy="227.4" r="1.55" fill="#eef4fa" stroke="#9cbedb" stroke-width="0.9"/>
<circle cx="600.7" cy="224.3" r="1.55" fill="#eef4fa" stroke="#9cbedb" stroke-width="0.9"/>
<circle cx="600.9" cy="221.1" r="1.55" fill="#eef4fa" stroke="#9cbedb" stroke-width="0.9"/>
<circle cx="601.7" cy="218.1" r="1.55" fill="#eef4fa" stroke="#9cbedb" stroke-width="0.9"/>
<circle cx="603.1" cy="215.3" r="1.55" fill="#eef4fa" stroke="#9cbedb" stroke-width="0.9"/>
<circle cx="605.0" cy="212.8" r="1.55" fill="#eef4fa" stroke="#9cbedb" stroke-width="0.9"/>
<circle cx="607.4" cy="210.7" r="1.55" fill="#eef4fa" stroke="#9cbedb" stroke-width="0.9"/>
<circle cx="610.1" cy="209.2" r="1.55" fill="#eef4fa" stroke="#9cbedb" stroke-width="0.9"/>
<circle cx="613.1" cy="208.2" r="1.55" fill="#eef4fa" stroke="#9cbedb" stroke-width="0.9"/>
<circle cx="616.3" cy="207.9" r="1.55" fill="#eef4fa" stroke="#9cbedb" stroke-width="0.9"/>
<circle cx="619.4" cy="208.2" r="1.55" fill="#eef4fa" stroke="#9cbedb" stroke-width="0.9"/>
<circle cx="622.4" cy="209.2" r="1.55" fill="#eef4fa" stroke="#9cbedb" stroke-width="0.9"/>
<circle cx="625.2" cy="210.7" r="1.55" fill="#eef4fa" stroke="#9cbedb" stroke-width="0.9"/>
<circle cx="627.6" cy="212.7" r="1.55" fill="#eef4fa" stroke="#9cbedb" stroke-width="0.9"/>
<circle cx="629.5" cy="215.2" r="1.55" fill="#eef4fa" stroke="#9cbedb" stroke-width="0.9"/>
<circle cx="630.9" cy="218.1" r="1.55" fill="#eef4fa" stroke="#9cbedb" stroke-width="0.9"/>
<circle cx="631.7" cy="221.1" r="1.55" fill="#eef4fa" stroke="#9cbedb" stroke-width="0.9"/>
<circle cx="616.3" cy="223.5" r="13.8" fill="#f7f8fa" stroke="#2f6796" stroke-width="1.5"/>
<line x1="633.4" y1="229.7" x2="635.3" y2="233.6" stroke="#2a3f78" stroke-width="0.9"/>
<circle cx="633.4" cy="229.7" r="1.5" fill="#2a6aa0"/>
<line x1="626.5" y1="238.6" x2="625.7" y2="242.8" stroke="#2a3f78" stroke-width="0.9"/>
<circle cx="626.5" cy="238.6" r="1.5" fill="#2a6aa0"/>
<line x1="615.6" y1="241.7" x2="612.5" y2="244.7" stroke="#2a3f78" stroke-width="0.9"/>
<circle cx="615.6" cy="241.7" r="1.5" fill="#2a6aa0"/>
<line x1="605.1" y1="237.8" x2="600.8" y2="238.4" stroke="#2a3f78" stroke-width="0.9"/>
<circle cx="605.1" cy="237.8" r="1.5" fill="#2a6aa0"/>
<line x1="598.8" y1="228.5" x2="595.0" y2="226.5" stroke="#2a3f78" stroke-width="0.9"/>
<circle cx="598.8" cy="228.5" r="1.5" fill="#2a6aa0"/>
<line x1="599.2" y1="217.3" x2="597.3" y2="213.4" stroke="#2a3f78" stroke-width="0.9"/>
<circle cx="599.2" cy="217.3" r="1.5" fill="#2a6aa0"/>
<line x1="606.1" y1="208.4" x2="606.9" y2="204.2" stroke="#2a3f78" stroke-width="0.9"/>
<circle cx="606.1" cy="208.4" r="1.5" fill="#2a6aa0"/>
<line x1="617.0" y1="205.3" x2="620.1" y2="202.3" stroke="#2a3f78" stroke-width="0.9"/>
<circle cx="617.0" cy="205.3" r="1.5" fill="#2a6aa0"/>
<line x1="627.5" y1="209.2" x2="631.8" y2="208.6" stroke="#2a3f78" stroke-width="0.9"/>
<circle cx="627.5" cy="209.2" r="1.5" fill="#2a6aa0"/>
<line x1="633.8" y1="218.5" x2="637.6" y2="220.5" stroke="#2a3f78" stroke-width="0.9"/>
<circle cx="633.8" cy="218.5" r="1.5" fill="#2a6aa0"/>
<polygon points="616.3,211.6 626.6,217.6 626.6,229.4 616.3,235.4 606.0,229.4 606.0,217.6" fill="#f6f7f8" stroke="#a66b38" stroke-width="2.1" stroke-dasharray="1.3 0.45"/>
<circle cx="616.3" cy="223.5" r="7.249" fill="#f5f7f8" stroke="#92c8d2" stroke-width="2.3"/>
<circle cx="616.3" cy="223.5" r="7.249" fill="none" stroke="#5fa5b5" stroke-width="0.7" stroke-dasharray="0.8 0.8"/>
<path d="M610.1,221.3 q2.5,3.0 5.9,-0.2 t8.4,-0.8" fill="none" stroke="#808080" stroke-width="1"/>
<rect x="643" y="206" width="47.5" height="33.5" fill="#ffffff"/>
<text x="666" y="219.7" font-family="Liberation Serif" font-size="11.8" fill="#111" text-anchor="middle" stroke="#111" stroke-width="0.28">Dane</text>
<text x="666" y="233.8" font-family="Liberation Serif" font-size="11.8" fill="#111" text-anchor="middle" stroke="#111" stroke-width="0.28">particle</text>
<circle cx="635.0" cy="281.8" r="1.55" fill="#eef4fa" stroke="#9cbedb" stroke-width="0.9"/>
<circle cx="634.7" cy="284.9" r="1.55" fill="#eef4fa" stroke="#9cbedb" stroke-width="0.9"/>
<circle cx="634.0" cy="288.0" r="1.55" fill="#eef4fa" stroke="#9cbedb" stroke-width="0.9"/>
<circle cx="632.7" cy="290.8" r="1.55" fill="#eef4fa" stroke="#9cbedb" stroke-width="0.9"/>
<circle cx="631.0" cy="293.5" r="1.55" fill="#eef4fa" stroke="#9cbedb" stroke-width="0.9"/>
<circle cx="628.9" cy="295.8" r="1.55" fill="#eef4fa" stroke="#9cbedb" stroke-width="0.9"/>
<circle cx="626.4" cy="297.7" r="1.55" fill="#eef4fa" stroke="#9cbedb" stroke-width="0.9"/>
<circle cx="623.6" cy="299.2" r="1.55" fill="#eef4fa" stroke="#9cbedb" stroke-width="0.9"/>
<circle cx="620.7" cy="300.2" r="1.55" fill="#eef4fa" stroke="#9cbedb" stroke-width="0.9"/>
<circle cx="617.6" cy="300.7" r="1.55" fill="#eef4fa" stroke="#9cbedb" stroke-width="0.9"/>
<circle cx="614.4" cy="300.7" r="1.55" fill="#eef4fa" stroke="#9cbedb" stroke-width="0.9"/>
<circle cx="611.3" cy="300.2" r="1.55" fill="#eef4fa" stroke="#9cbedb" stroke-width="0.9"/>
<circle cx="608.4" cy="299.2" r="1.55" fill="#eef4fa" stroke="#9cbedb" stroke-width="0.9"/>
<circle cx="605.6" cy="297.7" r="1.55" fill="#eef4fa" stroke="#9cbedb" stroke-width="0.9"/>
<circle cx="603.1" cy="295.8" r="1.55" fill="#eef4fa" stroke="#9cbedb" stroke-width="0.9"/>
<circle cx="601.0" cy="293.5" r="1.55" fill="#eef4fa" stroke="#9cbedb" stroke-width="0.9"/>
<circle cx="599.3" cy="290.8" r="1.55" fill="#eef4fa" stroke="#9cbedb" stroke-width="0.9"/>
<circle cx="598.0" cy="288.0" r="1.55" fill="#eef4fa" stroke="#9cbedb" stroke-width="0.9"/>
<circle cx="597.3" cy="284.9" r="1.55" fill="#eef4fa" stroke="#9cbedb" stroke-width="0.9"/>
<circle cx="597.0" cy="281.8" r="1.55" fill="#eef4fa" stroke="#9cbedb" stroke-width="0.9"/>
<circle cx="597.3" cy="278.7" r="1.55" fill="#eef4fa" stroke="#9cbedb" stroke-width="0.9"/>
<circle cx="598.0" cy="275.6" r="1.55" fill="#eef4fa" stroke="#9cbedb" stroke-width="0.9"/>
<circle cx="599.3" cy="272.8" r="1.55" fill="#eef4fa" stroke="#9cbedb" stroke-width="0.9"/>
<circle cx="601.0" cy="270.1" r="1.55" fill="#eef4fa" stroke="#9cbedb" stroke-width="0.9"/>
<circle cx="603.1" cy="267.8" r="1.55" fill="#eef4fa" stroke="#9cbedb" stroke-width="0.9"/>
<circle cx="605.6" cy="265.9" r="1.55" fill="#eef4fa" stroke="#9cbedb" stroke-width="0.9"/>
<circle cx="608.4" cy="264.4" r="1.55" fill="#eef4fa" stroke="#9cbedb" stroke-width="0.9"/>
<circle cx="611.3" cy="263.4" r="1.55" fill="#eef4fa" stroke="#9cbedb" stroke-width="0.9"/>
<circle cx="614.4" cy="262.9" r="1.55" fill="#eef4fa" stroke="#9cbedb" stroke-width="0.9"/>
<circle cx="617.6" cy="262.9" r="1.55" fill="#eef4fa" stroke="#9cbedb" stroke-width="0.9"/>
<circle cx="620.7" cy="263.4" r="1.55" fill="#eef4fa" stroke="#9cbedb" stroke-width="0.9"/>
<circle cx="623.6" cy="264.4" r="1.55" fill="#eef4fa" stroke="#9cbedb" stroke-width="0.9"/>
<circle cx="626.4" cy="265.9" r="1.55" fill="#eef4fa" stroke="#9cbedb" stroke-width="0.9"/>
<circle cx="628.9" cy="267.8" r="1.55" fill="#eef4fa" stroke="#9cbedb" stroke-width="0.9"/>
<circle cx="631.0" cy="270.1" r="1.55" fill="#eef4fa" stroke="#9cbedb" stroke-width="0.9"/>
<circle cx="632.7" cy="272.8" r="1.55" fill="#eef4fa" stroke="#9cbedb" stroke-width="0.9"/>
<circle cx="634.0" cy="275.6" r="1.55" fill="#eef4fa" stroke="#9cbedb" stroke-width="0.9"/>
<circle cx="634.7" cy="278.7" r="1.55" fill="#eef4fa" stroke="#9cbedb" stroke-width="0.9"/>
<circle cx="631.6" cy="282.6" r="1.55" fill="#eef4fa" stroke="#9cbedb" stroke-width="0.9"/>
<circle cx="631.1" cy="285.7" r="1.55" fill="#eef4fa" stroke="#9cbedb" stroke-width="0.9"/>
<circle cx="630.0" cy="288.7" r="1.55" fill="#eef4fa" stroke="#9cbedb" stroke-width="0.9"/>
<circle cx="628.3" cy="291.3" r="1.55" fill="#eef4fa" stroke="#9cbedb" stroke-width="0.9"/>
<circle cx="626.2" cy="293.6" r="1.55" fill="#eef4fa" stroke="#9cbedb" stroke-width="0.9"/>
<circle cx="623.6" cy="295.4" r="1.55" fill="#eef4fa" stroke="#9cbedb" stroke-width="0.9"/>
<circle cx="620.7" cy="296.7" r="1.55" fill="#eef4fa" stroke="#9cbedb" stroke-width="0.9"/>
<circle cx="617.6" cy="297.3" r="1.55" fill="#eef4fa" stroke="#9cbedb" stroke-width="0.9"/>
<circle cx="614.4" cy="297.3" r="1.55" fill="#eef4fa" stroke="#9cbedb" stroke-width="0.9"/>
<circle cx="611.3" cy="296.7" r="1.55" fill="#eef4fa" stroke="#9cbedb" stroke-width="0.9"/>
<circle cx="608.4" cy="295.4" r="1.55" fill="#eef4fa" stroke="#9cbedb" stroke-width="0.9"/>
<circle cx="605.8" cy="293.6" r="1.55" fill="#eef4fa" stroke="#9cbedb" stroke-width="0.9"/>
<circle cx="603.7" cy="291.4" r="1.55" fill="#eef4fa" stroke="#9cbedb" stroke-width="0.9"/>
<circle cx="602.0" cy="288.7" r="1.55" fill="#eef4fa" stroke="#9cbedb" stroke-width="0.9"/>
<circle cx="600.9" cy="285.7" r="1.55" fill="#eef4fa" stroke="#9cbedb" stroke-width="0.9"/>
<circle cx="600.4" cy="282.6" r="1.55" fill="#eef4fa" stroke="#9cbedb" stroke-width="0.9"/>
<circle cx="600.6" cy="279.4" r="1.55" fill="#eef4fa" stroke="#9cbedb" stroke-width="0.9"/>
<circle cx="601.4" cy="276.4" r="1.55" fill="#eef4fa" stroke="#9cbedb" stroke-width="0.9"/>
<circle cx="602.8" cy="273.6" r="1.55" fill="#eef4fa" stroke="#9cbedb" stroke-width="0.9"/>
<circle cx="604.7" cy="271.1" r="1.55" fill="#eef4fa" stroke="#9cbedb" stroke-width="0.9"/>
<circle cx="607.1" cy="269.0" r="1.55" fill="#eef4fa" stroke="#9cbedb" stroke-width="0.9"/>
<circle cx="609.8" cy="267.5" r="1.55" fill="#eef4fa" stroke="#9cbedb" stroke-width="0.9"/>
<circle cx="612.8" cy="266.5" r="1.55" fill="#eef4fa" stroke="#9cbedb" stroke-width="0.9"/>
<circle cx="616.0" cy="266.2" r="1.55" fill="#eef4fa" stroke="#9cbedb" stroke-width="0.9"/>
<circle cx="619.1" cy="266.5" r="1.55" fill="#eef4fa" stroke="#9cbedb" stroke-width="0.9"/>
<circle cx="622.1" cy="267.5" r="1.55" fill="#eef4fa" stroke="#9cbedb" stroke-width="0.9"/>
<circle cx="624.9" cy="269.0" r="1.55" fill="#eef4fa" stroke="#9cbedb" stroke-width="0.9"/>
<circle cx="627.3" cy="271.0" r="1.55" fill="#eef4fa" stroke="#9cbedb" stroke-width="0.9"/>
<circle cx="629.2" cy="273.5" r="1.55" fill="#eef4fa" stroke="#9cbedb" stroke-width="0.9"/>
<circle cx="630.6" cy="276.4" r="1.55" fill="#eef4fa" stroke="#9cbedb" stroke-width="0.9"/>
<circle cx="631.4" cy="279.4" r="1.55" fill="#eef4fa" stroke="#9cbedb" stroke-width="0.9"/>
<circle cx="616" cy="281.8" r="13.8" fill="#f7f8fa" stroke="#2f6796" stroke-width="1.5"/>
<line x1="633.1" y1="288.0" x2="635.0" y2="291.9" stroke="#2a3f78" stroke-width="0.9"/>
<circle cx="633.1" cy="288.0" r="1.5" fill="#2a6aa0"/>
<line x1="626.2" y1="296.9" x2="625.4" y2="301.1" stroke="#2a3f78" stroke-width="0.9"/>
<circle cx="626.2" cy="296.9" r="1.5" fill="#2a6aa0"/>
<line x1="615.3" y1="300.0" x2="612.2" y2="303.0" stroke="#2a3f78" stroke-width="0.9"/>
<circle cx="615.3" cy="300.0" r="1.5" fill="#2a6aa0"/>
<line x1="604.8" y1="296.1" x2="600.5" y2="296.7" stroke="#2a3f78" stroke-width="0.9"/>
<circle cx="604.8" cy="296.1" r="1.5" fill="#2a6aa0"/>
<line x1="598.5" y1="286.8" x2="594.7" y2="284.8" stroke="#2a3f78" stroke-width="0.9"/>
<circle cx="598.5" cy="286.8" r="1.5" fill="#2a6aa0"/>
<line x1="598.9" y1="275.6" x2="597.0" y2="271.7" stroke="#2a3f78" stroke-width="0.9"/>
<circle cx="598.9" cy="275.6" r="1.5" fill="#2a6aa0"/>
<line x1="605.8" y1="266.7" x2="606.6" y2="262.5" stroke="#2a3f78" stroke-width="0.9"/>
<circle cx="605.8" cy="266.7" r="1.5" fill="#2a6aa0"/>
<line x1="616.7" y1="263.6" x2="619.8" y2="260.6" stroke="#2a3f78" stroke-width="0.9"/>
<circle cx="616.7" cy="263.6" r="1.5" fill="#2a6aa0"/>
<line x1="627.2" y1="267.5" x2="631.5" y2="266.9" stroke="#2a3f78" stroke-width="0.9"/>
<circle cx="627.2" cy="267.5" r="1.5" fill="#2a6aa0"/>
<line x1="633.5" y1="276.8" x2="637.3" y2="278.8" stroke="#2a3f78" stroke-width="0.9"/>
<circle cx="633.5" cy="276.8" r="1.5" fill="#2a6aa0"/>
<polygon points="616.0,269.9 626.3,275.9 626.3,287.8 616.0,293.7 605.7,287.8 605.7,275.9" fill="#f6f7f8" stroke="#a66b38" stroke-width="2.1" stroke-dasharray="1.3 0.45"/>
<path d="M608.4,284.7 L623.6,284.7" stroke="#e58a96" stroke-width="0.9"/>
<path d="M615.0,284.7 l0,-2.5 q0,-3 3,-3 l1,-1" fill="none" stroke="#e58a96" stroke-width="0.9"/>
<path d="M617.4,278.9 a2.2,2.2 0 1,1 4.2,0.8 z" fill="#8f909c"/>
<rect x="640" y="262" width="55" height="41" fill="#ffffff"/>
<text x="665.4" y="271.5" font-family="Liberation Serif" font-size="11.8" fill="#111" text-anchor="middle" stroke="#111" stroke-width="0.28">pgRNA</text>
<text x="665.4" y="285.2" font-family="Liberation Serif" font-size="11.8" fill="#111" text-anchor="middle" stroke="#111" stroke-width="0.28">virion-like</text>
<text x="665.4" y="298.9" font-family="Liberation Serif" font-size="11.8" fill="#111" text-anchor="middle" stroke="#111" stroke-width="0.28">particle</text>
<rect x="590.7" y="259.6" width="119.3" height="44.6" rx="7" fill="none" stroke="#c0262c" stroke-width="1.5"/>
<circle cx="636.0" cy="335.8" r="1.55" fill="#eef4fa" stroke="#9cbedb" stroke-width="0.9"/>
<circle cx="635.7" cy="338.9" r="1.55" fill="#eef4fa" stroke="#9cbedb" stroke-width="0.9"/>
<circle cx="635.0" cy="342.0" r="1.55" fill="#eef4fa" stroke="#9cbedb" stroke-width="0.9"/>
<circle cx="633.7" cy="344.8" r="1.55" fill="#eef4fa" stroke="#9cbedb" stroke-width="0.9"/>
<circle cx="632.0" cy="347.5" r="1.55" fill="#eef4fa" stroke="#9cbedb" stroke-width="0.9"/>
<circle cx="629.9" cy="349.8" r="1.55" fill="#eef4fa" stroke="#9cbedb" stroke-width="0.9"/>
<circle cx="627.4" cy="351.7" r="1.55" fill="#eef4fa" stroke="#9cbedb" stroke-width="0.9"/>
<circle cx="624.6" cy="353.2" r="1.55" fill="#eef4fa" stroke="#9cbedb" stroke-width="0.9"/>
<circle cx="621.7" cy="354.2" r="1.55" fill="#eef4fa" stroke="#9cbedb" stroke-width="0.9"/>
<circle cx="618.6" cy="354.7" r="1.55" fill="#eef4fa" stroke="#9cbedb" stroke-width="0.9"/>
<circle cx="615.4" cy="354.7" r="1.55" fill="#eef4fa" stroke="#9cbedb" stroke-width="0.9"/>
<circle cx="612.3" cy="354.2" r="1.55" fill="#eef4fa" stroke="#9cbedb" stroke-width="0.9"/>
<circle cx="609.4" cy="353.2" r="1.55" fill="#eef4fa" stroke="#9cbedb" stroke-width="0.9"/>
<circle cx="606.6" cy="351.7" r="1.55" fill="#eef4fa" stroke="#9cbedb" stroke-width="0.9"/>
<circle cx="604.1" cy="349.8" r="1.55" fill="#eef4fa" stroke="#9cbedb" stroke-width="0.9"/>
<circle cx="602.0" cy="347.5" r="1.55" fill="#eef4fa" stroke="#9cbedb" stroke-width="0.9"/>
<circle cx="600.3" cy="344.8" r="1.55" fill="#eef4fa" stroke="#9cbedb" stroke-width="0.9"/>
<circle cx="599.0" cy="342.0" r="1.55" fill="#eef4fa" stroke="#9cbedb" stroke-width="0.9"/>
<circle cx="598.3" cy="338.9" r="1.55" fill="#eef4fa" stroke="#9cbedb" stroke-width="0.9"/>
<circle cx="598.0" cy="335.8" r="1.55" fill="#eef4fa" stroke="#9cbedb" stroke-width="0.9"/>
<circle cx="598.3" cy="332.7" r="1.55" fill="#eef4fa" stroke="#9cbedb" stroke-width="0.9"/>
<circle cx="599.0" cy="329.6" r="1.55" fill="#eef4fa" stroke="#9cbedb" stroke-width="0.9"/>
<circle cx="600.3" cy="326.8" r="1.55" fill="#eef4fa" stroke="#9cbedb" stroke-width="0.9"/>
<circle cx="602.0" cy="324.1" r="1.55" fill="#eef4fa" stroke="#9cbedb" stroke-width="0.9"/>
<circle cx="604.1" cy="321.8" r="1.55" fill="#eef4fa" stroke="#9cbedb" stroke-width="0.9"/>
<circle cx="606.6" cy="319.9" r="1.55" fill="#eef4fa" stroke="#9cbedb" stroke-width="0.9"/>
<circle cx="609.4" cy="318.4" r="1.55" fill="#eef4fa" stroke="#9cbedb" stroke-width="0.9"/>
<circle cx="612.3" cy="317.4" r="1.55" fill="#eef4fa" stroke="#9cbedb" stroke-width="0.9"/>
<circle cx="615.4" cy="316.9" r="1.55" fill="#eef4fa" stroke="#9cbedb" stroke-width="0.9"/>
<circle cx="618.6" cy="316.9" r="1.55" fill="#eef4fa" stroke="#9cbedb" stroke-width="0.9"/>
<circle cx="621.7" cy="317.4" r="1.55" fill="#eef4fa" stroke="#9cbedb" stroke-width="0.9"/>
<circle cx="624.6" cy="318.4" r="1.55" fill="#eef4fa" stroke="#9cbedb" stroke-width="0.9"/>
<circle cx="627.4" cy="319.9" r="1.55" fill="#eef4fa" stroke="#9cbedb" stroke-width="0.9"/>
<circle cx="629.9" cy="321.8" r="1.55" fill="#eef4fa" stroke="#9cbedb" stroke-width="0.9"/>
<circle cx="632.0" cy="324.1" r="1.55" fill="#eef4fa" stroke="#9cbedb" stroke-width="0.9"/>
<circle cx="633.7" cy="326.8" r="1.55" fill="#eef4fa" stroke="#9cbedb" stroke-width="0.9"/>
<circle cx="635.0" cy="329.6" r="1.55" fill="#eef4fa" stroke="#9cbedb" stroke-width="0.9"/>
<circle cx="635.7" cy="332.7" r="1.55" fill="#eef4fa" stroke="#9cbedb" stroke-width="0.9"/>
<circle cx="632.6" cy="336.6" r="1.55" fill="#eef4fa" stroke="#9cbedb" stroke-width="0.9"/>
<circle cx="632.1" cy="339.7" r="1.55" fill="#eef4fa" stroke="#9cbedb" stroke-width="0.9"/>
<circle cx="631.0" cy="342.7" r="1.55" fill="#eef4fa" stroke="#9cbedb" stroke-width="0.9"/>
<circle cx="629.3" cy="345.3" r="1.55" fill="#eef4fa" stroke="#9cbedb" stroke-width="0.9"/>
<circle cx="627.2" cy="347.6" r="1.55" fill="#eef4fa" stroke="#9cbedb" stroke-width="0.9"/>
<circle cx="624.6" cy="349.4" r="1.55" fill="#eef4fa" stroke="#9cbedb" stroke-width="0.9"/>
<circle cx="621.7" cy="350.7" r="1.55" fill="#eef4fa" stroke="#9cbedb" stroke-width="0.9"/>
<circle cx="618.6" cy="351.3" r="1.55" fill="#eef4fa" stroke="#9cbedb" stroke-width="0.9"/>
<circle cx="615.4" cy="351.3" r="1.55" fill="#eef4fa" stroke="#9cbedb" stroke-width="0.9"/>
<circle cx="612.3" cy="350.7" r="1.55" fill="#eef4fa" stroke="#9cbedb" stroke-width="0.9"/>
<circle cx="609.4" cy="349.4" r="1.55" fill="#eef4fa" stroke="#9cbedb" stroke-width="0.9"/>
<circle cx="606.8" cy="347.6" r="1.55" fill="#eef4fa" stroke="#9cbedb" stroke-width="0.9"/>
<circle cx="604.7" cy="345.4" r="1.55" fill="#eef4fa" stroke="#9cbedb" stroke-width="0.9"/>
<circle cx="603.0" cy="342.7" r="1.55" fill="#eef4fa" stroke="#9cbedb" stroke-width="0.9"/>
<circle cx="601.9" cy="339.7" r="1.55" fill="#eef4fa" stroke="#9cbedb" stroke-width="0.9"/>
<circle cx="601.4" cy="336.6" r="1.55" fill="#eef4fa" stroke="#9cbedb" stroke-width="0.9"/>
<circle cx="601.6" cy="333.4" r="1.55" fill="#eef4fa" stroke="#9cbedb" stroke-width="0.9"/>
<circle cx="602.4" cy="330.4" r="1.55" fill="#eef4fa" stroke="#9cbedb" stroke-width="0.9"/>
<circle cx="603.8" cy="327.6" r="1.55" fill="#eef4fa" stroke="#9cbedb" stroke-width="0.9"/>
<circle cx="605.7" cy="325.1" r="1.55" fill="#eef4fa" stroke="#9cbedb" stroke-width="0.9"/>
<circle cx="608.1" cy="323.0" r="1.55" fill="#eef4fa" stroke="#9cbedb" stroke-width="0.9"/>
<circle cx="610.8" cy="321.5" r="1.55" fill="#eef4fa" stroke="#9cbedb" stroke-width="0.9"/>
<circle cx="613.8" cy="320.5" r="1.55" fill="#eef4fa" stroke="#9cbedb" stroke-width="0.9"/>
<circle cx="617.0" cy="320.2" r="1.55" fill="#eef4fa" stroke="#9cbedb" stroke-width="0.9"/>
<circle cx="620.1" cy="320.5" r="1.55" fill="#eef4fa" stroke="#9cbedb" stroke-width="0.9"/>
<circle cx="623.1" cy="321.5" r="1.55" fill="#eef4fa" stroke="#9cbedb" stroke-width="0.9"/>
<circle cx="625.9" cy="323.0" r="1.55" fill="#eef4fa" stroke="#9cbedb" stroke-width="0.9"/>
<circle cx="628.3" cy="325.0" r="1.55" fill="#eef4fa" stroke="#9cbedb" stroke-width="0.9"/>
<circle cx="630.2" cy="327.5" r="1.55" fill="#eef4fa" stroke="#9cbedb" stroke-width="0.9"/>
<circle cx="631.6" cy="330.4" r="1.55" fill="#eef4fa" stroke="#9cbedb" stroke-width="0.9"/>
<circle cx="632.4" cy="333.4" r="1.55" fill="#eef4fa" stroke="#9cbedb" stroke-width="0.9"/>
<circle cx="617" cy="335.8" r="13.8" fill="#f7f8fa" stroke="#2f6796" stroke-width="1.5"/>
<line x1="634.1" y1="342.0" x2="636.0" y2="345.9" stroke="#2a3f78" stroke-width="0.9"/>
<circle cx="634.1" cy="342.0" r="1.5" fill="#2a6aa0"/>
<line x1="627.2" y1="350.9" x2="626.4" y2="355.1" stroke="#2a3f78" stroke-width="0.9"/>
<circle cx="627.2" cy="350.9" r="1.5" fill="#2a6aa0"/>
<line x1="616.3" y1="354.0" x2="613.2" y2="357.0" stroke="#2a3f78" stroke-width="0.9"/>
<circle cx="616.3" cy="354.0" r="1.5" fill="#2a6aa0"/>
<line x1="605.8" y1="350.1" x2="601.5" y2="350.7" stroke="#2a3f78" stroke-width="0.9"/>
<circle cx="605.8" cy="350.1" r="1.5" fill="#2a6aa0"/>
<line x1="599.5" y1="340.8" x2="595.7" y2="338.8" stroke="#2a3f78" stroke-width="0.9"/>
<circle cx="599.5" cy="340.8" r="1.5" fill="#2a6aa0"/>
<line x1="599.9" y1="329.6" x2="598.0" y2="325.7" stroke="#2a3f78" stroke-width="0.9"/>
<circle cx="599.9" cy="329.6" r="1.5" fill="#2a6aa0"/>
<line x1="606.8" y1="320.7" x2="607.6" y2="316.5" stroke="#2a3f78" stroke-width="0.9"/>
<circle cx="606.8" cy="320.7" r="1.5" fill="#2a6aa0"/>
<line x1="617.7" y1="317.6" x2="620.8" y2="314.6" stroke="#2a3f78" stroke-width="0.9"/>
<circle cx="617.7" cy="317.6" r="1.5" fill="#2a6aa0"/>
<line x1="628.2" y1="321.5" x2="632.5" y2="320.9" stroke="#2a3f78" stroke-width="0.9"/>
<circle cx="628.2" cy="321.5" r="1.5" fill="#2a6aa0"/>
<line x1="634.5" y1="330.8" x2="638.3" y2="332.8" stroke="#2a3f78" stroke-width="0.9"/>
<circle cx="634.5" cy="330.8" r="1.5" fill="#2a6aa0"/>
<polygon points="617.0,323.9 627.3,329.9 627.3,341.8 617.0,347.7 606.7,341.8 606.7,329.9" fill="#f6f7f8" stroke="#a66b38" stroke-width="2.1" stroke-dasharray="1.3 0.45"/>
<line x1="607.7775" y1="335.8" x2="626.2225" y2="335.8" stroke="#a8d8b4" stroke-width="1.4"/>
<path d="M607.8,335.8 L608.2,336.7 L608.6,337.1 L609.1,336.7 L609.5,335.8 L609.9,334.8 L610.4,334.5 L610.8,334.9 L611.2,335.9 L611.6,336.8 L612.1,337.1 L612.5,336.6 L612.9,335.7 L613.4,334.8 L613.8,334.5 L614.2,335.0 L614.6,336.0 L615.1,336.8 L615.5,337.1 L615.9,336.6 L616.4,335.6 L616.8,334.8 L617.2,334.5 L617.6,335.0 L618.1,336.0 L618.5,336.9 L618.9,337.1 L619.4,336.5 L619.8,335.5 L620.2,334.7 L620.6,334.5 L621.1,335.1 L621.5,336.1 L621.9,336.9 L622.4,337.1 L622.8,336.5 L623.2,335.5 L623.6,334.7 L624.1,334.5 L624.5,335.2 L624.9,336.2 L625.4,336.9 L625.8,337.0 L626.2,336.4" fill="none" stroke="#1a3a28" stroke-width="0.9"/>
<path d="M607.8,335.8 L608.2,334.9 L608.6,334.5 L609.1,334.9 L609.5,335.8 L609.9,336.8 L610.4,337.1 L610.8,336.7 L611.2,335.7 L611.6,334.8 L612.1,334.5 L612.5,335.0 L612.9,335.9 L613.4,336.8 L613.8,337.1 L614.2,336.6 L614.6,335.6 L615.1,334.8 L615.5,334.5 L615.9,335.0 L616.4,336.0 L616.8,336.8 L617.2,337.1 L617.6,336.6 L618.1,335.6 L618.5,334.7 L618.9,334.5 L619.4,335.1 L619.8,336.1 L620.2,336.9 L620.6,337.1 L621.1,336.5 L621.5,335.5 L621.9,334.7 L622.4,334.5 L622.8,335.1 L623.2,336.1 L623.6,336.9 L624.1,337.1 L624.5,336.4 L624.9,335.4 L625.4,334.7 L625.8,334.6 L626.2,335.2" fill="none" stroke="#2e6a4a" stroke-width="0.9"/>
<rect x="640" y="322" width="52.799999999999955" height="29.80000000000001" fill="#ffffff"/>
<text x="666" y="333.5" font-family="Liberation Serif" font-size="11.8" fill="#111" text-anchor="middle" stroke="#111" stroke-width="0.28">DSL-DNA</text>
<text x="666" y="348" font-family="Liberation Serif" font-size="11.8" fill="#111" text-anchor="middle" stroke="#111" stroke-width="0.28">particle</text>
<circle cx="636.4" cy="393.0" r="1.55" fill="#eef4fa" stroke="#9cbedb" stroke-width="0.9"/>
<circle cx="636.1" cy="396.1" r="1.55" fill="#eef4fa" stroke="#9cbedb" stroke-width="0.9"/>
<circle cx="635.4" cy="399.2" r="1.55" fill="#eef4fa" stroke="#9cbedb" stroke-width="0.9"/>
<circle cx="634.1" cy="402.0" r="1.55" fill="#eef4fa" stroke="#9cbedb" stroke-width="0.9"/>
<circle cx="632.4" cy="404.7" r="1.55" fill="#eef4fa" stroke="#9cbedb" stroke-width="0.9"/>
<circle cx="630.3" cy="407.0" r="1.55" fill="#eef4fa" stroke="#9cbedb" stroke-width="0.9"/>
<circle cx="627.8" cy="408.9" r="1.55" fill="#eef4fa" stroke="#9cbedb" stroke-width="0.9"/>
<circle cx="625.0" cy="410.4" r="1.55" fill="#eef4fa" stroke="#9cbedb" stroke-width="0.9"/>
<circle cx="622.1" cy="411.4" r="1.55" fill="#eef4fa" stroke="#9cbedb" stroke-width="0.9"/>
<circle cx="619.0" cy="411.9" r="1.55" fill="#eef4fa" stroke="#9cbedb" stroke-width="0.9"/>
<circle cx="615.8" cy="411.9" r="1.55" fill="#eef4fa" stroke="#9cbedb" stroke-width="0.9"/>
<circle cx="612.7" cy="411.4" r="1.55" fill="#eef4fa" stroke="#9cbedb" stroke-width="0.9"/>
<circle cx="609.8" cy="410.4" r="1.55" fill="#eef4fa" stroke="#9cbedb" stroke-width="0.9"/>
<circle cx="607.0" cy="408.9" r="1.55" fill="#eef4fa" stroke="#9cbedb" stroke-width="0.9"/>
<circle cx="604.5" cy="407.0" r="1.55" fill="#eef4fa" stroke="#9cbedb" stroke-width="0.9"/>
<circle cx="602.4" cy="404.7" r="1.55" fill="#eef4fa" stroke="#9cbedb" stroke-width="0.9"/>
<circle cx="600.7" cy="402.0" r="1.55" fill="#eef4fa" stroke="#9cbedb" stroke-width="0.9"/>
<circle cx="599.4" cy="399.2" r="1.55" fill="#eef4fa" stroke="#9cbedb" stroke-width="0.9"/>
<circle cx="598.7" cy="396.1" r="1.55" fill="#eef4fa" stroke="#9cbedb" stroke-width="0.9"/>
<circle cx="598.4" cy="393.0" r="1.55" fill="#eef4fa" stroke="#9cbedb" stroke-width="0.9"/>
<circle cx="598.7" cy="389.9" r="1.55" fill="#eef4fa" stroke="#9cbedb" stroke-width="0.9"/>
<circle cx="599.4" cy="386.8" r="1.55" fill="#eef4fa" stroke="#9cbedb" stroke-width="0.9"/>
<circle cx="600.7" cy="384.0" r="1.55" fill="#eef4fa" stroke="#9cbedb" stroke-width="0.9"/>
<circle cx="602.4" cy="381.3" r="1.55" fill="#eef4fa" stroke="#9cbedb" stroke-width="0.9"/>
<circle cx="604.5" cy="379.0" r="1.55" fill="#eef4fa" stroke="#9cbedb" stroke-width="0.9"/>
<circle cx="607.0" cy="377.1" r="1.55" fill="#eef4fa" stroke="#9cbedb" stroke-width="0.9"/>
<circle cx="609.8" cy="375.6" r="1.55" fill="#eef4fa" stroke="#9cbedb" stroke-width="0.9"/>
<circle cx="612.7" cy="374.6" r="1.55" fill="#eef4fa" stroke="#9cbedb" stroke-width="0.9"/>
<circle cx="615.8" cy="374.1" r="1.55" fill="#eef4fa" stroke="#9cbedb" stroke-width="0.9"/>
<circle cx="619.0" cy="374.1" r="1.55" fill="#eef4fa" stroke="#9cbedb" stroke-width="0.9"/>
<circle cx="622.1" cy="374.6" r="1.55" fill="#eef4fa" stroke="#9cbedb" stroke-width="0.9"/>
<circle cx="625.0" cy="375.6" r="1.55" fill="#eef4fa" stroke="#9cbedb" stroke-width="0.9"/>
<circle cx="627.8" cy="377.1" r="1.55" fill="#eef4fa" stroke="#9cbedb" stroke-width="0.9"/>
<circle cx="630.3" cy="379.0" r="1.55" fill="#eef4fa" stroke="#9cbedb" stroke-width="0.9"/>
<circle cx="632.4" cy="381.3" r="1.55" fill="#eef4fa" stroke="#9cbedb" stroke-width="0.9"/>
<circle cx="634.1" cy="384.0" r="1.55" fill="#eef4fa" stroke="#9cbedb" stroke-width="0.9"/>
<circle cx="635.4" cy="386.8" r="1.55" fill="#eef4fa" stroke="#9cbedb" stroke-width="0.9"/>
<circle cx="636.1" cy="389.9" r="1.55" fill="#eef4fa" stroke="#9cbedb" stroke-width="0.9"/>
<circle cx="633.0" cy="393.8" r="1.55" fill="#eef4fa" stroke="#9cbedb" stroke-width="0.9"/>
<circle cx="632.5" cy="396.9" r="1.55" fill="#eef4fa" stroke="#9cbedb" stroke-width="0.9"/>
<circle cx="631.4" cy="399.9" r="1.55" fill="#eef4fa" stroke="#9cbedb" stroke-width="0.9"/>
<circle cx="629.7" cy="402.5" r="1.55" fill="#eef4fa" stroke="#9cbedb" stroke-width="0.9"/>
<circle cx="627.6" cy="404.8" r="1.55" fill="#eef4fa" stroke="#9cbedb" stroke-width="0.9"/>
<circle cx="625.0" cy="406.6" r="1.55" fill="#eef4fa" stroke="#9cbedb" stroke-width="0.9"/>
<circle cx="622.1" cy="407.9" r="1.55" fill="#eef4fa" stroke="#9cbedb" stroke-width="0.9"/>
<circle cx="619.0" cy="408.5" r="1.55" fill="#eef4fa" stroke="#9cbedb" stroke-width="0.9"/>
<circle cx="615.8" cy="408.5" r="1.55" fill="#eef4fa" stroke="#9cbedb" stroke-width="0.9"/>
<circle cx="612.7" cy="407.9" r="1.55" fill="#eef4fa" stroke="#9cbedb" stroke-width="0.9"/>
<circle cx="609.8" cy="406.6" r="1.55" fill="#eef4fa" stroke="#9cbedb" stroke-width="0.9"/>
<circle cx="607.2" cy="404.8" r="1.55" fill="#eef4fa" stroke="#9cbedb" stroke-width="0.9"/>
<circle cx="605.1" cy="402.6" r="1.55" fill="#eef4fa" stroke="#9cbedb" stroke-width="0.9"/>
<circle cx="603.4" cy="399.9" r="1.55" fill="#eef4fa" stroke="#9cbedb" stroke-width="0.9"/>
<circle cx="602.3" cy="396.9" r="1.55" fill="#eef4fa" stroke="#9cbedb" stroke-width="0.9"/>
<circle cx="601.8" cy="393.8" r="1.55" fill="#eef4fa" stroke="#9cbedb" stroke-width="0.9"/>
<circle cx="602.0" cy="390.6" r="1.55" fill="#eef4fa" stroke="#9cbedb" stroke-width="0.9"/>
<circle cx="602.8" cy="387.6" r="1.55" fill="#eef4fa" stroke="#9cbedb" stroke-width="0.9"/>
<circle cx="604.2" cy="384.8" r="1.55" fill="#eef4fa" stroke="#9cbedb" stroke-width="0.9"/>
<circle cx="606.1" cy="382.3" r="1.55" fill="#eef4fa" stroke="#9cbedb" stroke-width="0.9"/>
<circle cx="608.5" cy="380.2" r="1.55" fill="#eef4fa" stroke="#9cbedb" stroke-width="0.9"/>
<circle cx="611.2" cy="378.7" r="1.55" fill="#eef4fa" stroke="#9cbedb" stroke-width="0.9"/>
<circle cx="614.2" cy="377.7" r="1.55" fill="#eef4fa" stroke="#9cbedb" stroke-width="0.9"/>
<circle cx="617.4" cy="377.4" r="1.55" fill="#eef4fa" stroke="#9cbedb" stroke-width="0.9"/>
<circle cx="620.5" cy="377.7" r="1.55" fill="#eef4fa" stroke="#9cbedb" stroke-width="0.9"/>
<circle cx="623.5" cy="378.7" r="1.55" fill="#eef4fa" stroke="#9cbedb" stroke-width="0.9"/>
<circle cx="626.3" cy="380.2" r="1.55" fill="#eef4fa" stroke="#9cbedb" stroke-width="0.9"/>
<circle cx="628.7" cy="382.2" r="1.55" fill="#eef4fa" stroke="#9cbedb" stroke-width="0.9"/>
<circle cx="630.6" cy="384.7" r="1.55" fill="#eef4fa" stroke="#9cbedb" stroke-width="0.9"/>
<circle cx="632.0" cy="387.6" r="1.55" fill="#eef4fa" stroke="#9cbedb" stroke-width="0.9"/>
<circle cx="632.8" cy="390.6" r="1.55" fill="#eef4fa" stroke="#9cbedb" stroke-width="0.9"/>
<circle cx="617.4" cy="393" r="13.8" fill="#f7f8fa" stroke="#2f6796" stroke-width="1.5"/>
<line x1="634.5" y1="399.2" x2="636.4" y2="403.1" stroke="#2a3f78" stroke-width="0.9"/>
<circle cx="634.5" cy="399.2" r="1.5" fill="#2a6aa0"/>
<line x1="627.6" y1="408.1" x2="626.8" y2="412.3" stroke="#2a3f78" stroke-width="0.9"/>
<circle cx="627.6" cy="408.1" r="1.5" fill="#2a6aa0"/>
<line x1="616.7" y1="411.2" x2="613.6" y2="414.2" stroke="#2a3f78" stroke-width="0.9"/>
<circle cx="616.7" cy="411.2" r="1.5" fill="#2a6aa0"/>
<line x1="606.2" y1="407.3" x2="601.9" y2="407.9" stroke="#2a3f78" stroke-width="0.9"/>
<circle cx="606.2" cy="407.3" r="1.5" fill="#2a6aa0"/>
<line x1="599.9" y1="398.0" x2="596.1" y2="396.0" stroke="#2a3f78" stroke-width="0.9"/>
<circle cx="599.9" cy="398.0" r="1.5" fill="#2a6aa0"/>
<line x1="600.3" y1="386.8" x2="598.4" y2="382.9" stroke="#2a3f78" stroke-width="0.9"/>
<circle cx="600.3" cy="386.8" r="1.5" fill="#2a6aa0"/>
<line x1="607.2" y1="377.9" x2="608.0" y2="373.7" stroke="#2a3f78" stroke-width="0.9"/>
<circle cx="607.2" cy="377.9" r="1.5" fill="#2a6aa0"/>
<line x1="618.1" y1="374.8" x2="621.2" y2="371.8" stroke="#2a3f78" stroke-width="0.9"/>
<circle cx="618.1" cy="374.8" r="1.5" fill="#2a6aa0"/>
<line x1="628.6" y1="378.7" x2="632.9" y2="378.1" stroke="#2a3f78" stroke-width="0.9"/>
<circle cx="628.6" cy="378.7" r="1.5" fill="#2a6aa0"/>
<line x1="634.9" y1="388.0" x2="638.7" y2="390.0" stroke="#2a3f78" stroke-width="0.9"/>
<circle cx="634.9" cy="388.0" r="1.5" fill="#2a6aa0"/>
<polygon points="617.4,381.1 627.7,387.1 627.7,398.9 617.4,404.9 607.1,398.9 607.1,387.1" fill="#f6f7f8" stroke="#a66b38" stroke-width="2.1" stroke-dasharray="1.3 0.45"/>
<rect x="647" y="381.5" width="43.5" height="28.5" fill="#ffffff"/>
<text x="666" y="393" font-family="Liberation Serif" font-size="11.8" fill="#111" text-anchor="middle" stroke="#111" stroke-width="0.28">Empty</text>
<text x="666" y="405.5" font-family="Liberation Serif" font-size="11.8" fill="#111" text-anchor="middle" stroke="#111" stroke-width="0.28">virion</text>
<rect x="634.8" y="429.8" width="70.80000000000007" height="101.69999999999999" fill="#ffffff"/>
<g transform="rotate(20 616.8 445.5)"><rect x="611.8" y="435.0" width="10" height="21" rx="3.5" fill="#9dbddb"/><circle cx="614.3" cy="437.5" r="1.9" fill="#1f5a90"/><circle cx="618.8" cy="438.5" r="1.9" fill="#1f5a90"/><circle cx="615.8" cy="441.5" r="1.9" fill="#1f5a90"/><circle cx="619.8" cy="443.0" r="1.9" fill="#1f5a90"/><circle cx="613.8" cy="445.5" r="1.9" fill="#1f5a90"/><circle cx="617.8" cy="447.5" r="1.9" fill="#1f5a90"/><circle cx="614.8" cy="450.5" r="1.9" fill="#1f5a90"/><circle cx="619.3" cy="451.5" r="1.9" fill="#1f5a90"/><circle cx="616.3" cy="454.0" r="1.9" fill="#1f5a90"/><circle cx="616.8" cy="436.0" r="1.2" fill="#e8f0f8"/><circle cx="613.8" cy="440.0" r="1.2" fill="#e8f0f8"/><circle cx="617.8" cy="444.5" r="1.2" fill="#e8f0f8"/><circle cx="620.3" cy="449.0" r="1.2" fill="#e8f0f8"/><circle cx="613.8" cy="448.0" r="1.2" fill="#e8f0f8"/><path d="M613.8,455.5 l-1,3 M616.8,456.0 l0,3 M619.8,455.5 l1,3" stroke="#1a2f60" stroke-width="1"/></g>
<circle cx="614.8" cy="486.5" r="8" fill="#a9c5de"/>
<path d="M608,483 q2,-1.5 4,0 t4,0 t4,0 M607.5,486.5 q2,-1.5 4,0 t4,0 t4,0 t2,0 M608,490 q2,-1.5 4,0 t4,0 t4,0 M610,479.5 q2,-1.2 3.5,0 t3.5,0 M610.5,493 q2,-1.2 3.5,0 t3.5,0" fill="none" stroke="#5a86b0" stroke-width="0.9"/>
<text x="668" y="441.3" font-family="Liberation Serif" font-size="11.8" fill="#111" text-anchor="middle" stroke="#111" stroke-width="0.28">Filamentous</text>
<text x="668" y="455.6" font-family="Liberation Serif" font-size="11.8" fill="#111" text-anchor="middle" stroke="#111" stroke-width="0.28">particle</text>
<text x="668" y="483.5" font-family="Liberation Serif" font-size="11.8" fill="#111" text-anchor="middle" stroke="#111" stroke-width="0.28">Spherical</text>
<text x="668" y="497.2" font-family="Liberation Serif" font-size="11.8" fill="#111" text-anchor="middle" stroke="#111" stroke-width="0.28">particle</text>
<rect x="609" y="515" width="4" height="4" fill="#5aae6a" transform="rotate(30 611 517)"/>
<rect x="619" y="512" width="4" height="4" fill="#5aae6a" transform="rotate(30 621 514)"/>
<rect x="615" y="522" width="4" height="4" fill="#5aae6a" transform="rotate(30 617 524)"/>
<text x="668" y="523.5" font-family="Liberation Serif" font-size="11.8" fill="#111" text-anchor="middle" stroke="#111" stroke-width="0.28">HBeAg</text>
<path d="M721,225 L721,456 Q721,480 749.5,480 Q778,480 778,456 L778,225 Z" fill="#f2f2f2" stroke="#555" stroke-width="1.7"/>
<path d="M723,230 L776,230 L776,262 L723,262 Z" fill="#e6e6e6"/>
<path d="M766,236 Q772,240 772,250 L772,262 L776,262 L776,232 Z" fill="#c9c9c9"/>
<path d="M728,240 L760,240 Q765,240 765,246 L765,262 L728,262 Z" fill="#eeeeee"/>
<path d="M724.5,258 L724.5,454 Q724.5,477 749.5,477 Q774.5,477 774.5,454 L774.5,258 Z" fill="#9e3640"/>
<path d="M726,262 L726,452 Q726,470 735,474 L735,262 Z" fill="#a53d47" opacity="0.6"/>
<ellipse cx="749.5" cy="259" rx="25" ry="5" fill="#b4545e"/>
<path d="M724.5,259 Q749.5,268 774.5,259 L774.5,264 Q749.5,272 724.5,264 Z" fill="#a0444c"/>
<defs><clipPath id="capc"><path d="M719,155.5 L780.5,155.5 L784.5,218 Q784.5,230 749.5,230 Q714.5,230 714.5,218 Z"/></clipPath></defs>
<path d="M719,155.5 L780.5,155.5 L784.5,218 Q784.5,230 749.5,230 Q714.5,230 714.5,218 Z" fill="#e26b3e" stroke="#8a3a1c" stroke-width="1.2"/>
<g clip-path="url(#capc)" stroke="#a9441f" stroke-width="1.5"><line x1="723.5" y1="172" x2="721.5" y2="213"/><line x1="726.8" y1="172" x2="725.1" y2="213"/><line x1="730.2" y1="172" x2="728.7" y2="213"/><line x1="733.5" y1="172" x2="732.3" y2="213"/><line x1="736.9" y1="172" x2="735.9" y2="213"/><line x1="740.2" y1="172" x2="739.5" y2="213"/><line x1="743.5" y1="172" x2="743.1" y2="213"/><line x1="746.9" y1="172" x2="746.7" y2="213"/><line x1="750.2" y1="172" x2="750.3" y2="213"/><line x1="753.6" y1="172" x2="753.9" y2="213"/><line x1="756.9" y1="172" x2="757.5" y2="213"/><line x1="760.3" y1="172" x2="761.1" y2="213"/><line x1="763.6" y1="172" x2="764.7" y2="213"/><line x1="767.0" y1="172" x2="768.3" y2="213"/><line x1="770.3" y1="172" x2="771.9" y2="213"/><line x1="773.7" y1="172" x2="775.5" y2="213"/><line x1="777.0" y1="172" x2="779.1" y2="213"/></g>
<path d="M715,214 Q749.5,222 784,214" fill="none" stroke="#8a3a1c" stroke-width="1.1"/>
<path d="M719.5,169 Q749.5,175 780,169" fill="none" stroke="#8a3a1c" stroke-width="1.1"/>
<ellipse cx="749.5" cy="155.5" rx="30.5" ry="5.3" fill="#e5774a" stroke="#8a3a1c" stroke-width="1.1"/>
<ellipse cx="749.5" cy="156" rx="23" ry="3.6" fill="#c95f3a"/>
<path d="M744,153 L760,153 L753,158.5 L738,158.5 Z" fill="#e2865c" opacity="0.7"/>
<text x="750.5" y="299.3" font-family="Liberation Serif" font-size="11.8" fill="#f3dede" text-anchor="middle" stroke="#f3dede" stroke-width="0.28">rcDNA</text>
<text x="750.5" y="325" font-family="Liberation Serif" font-size="11.8" fill="#f3dede" text-anchor="middle" stroke="#f3dede" stroke-width="0.28">DSL-DNA</text>
<text x="750.5" y="350.7" font-family="Liberation Serif" font-size="11.8" fill="#f3dede" text-anchor="middle" stroke="#f3dede" stroke-width="0.28">pgRNA</text>
<text x="750.5" y="376.8" font-family="Liberation Serif" font-size="11.8" fill="#f3dede" text-anchor="middle" stroke="#f3dede" stroke-width="0.28">HBsAg</text>
<text x="750.5" y="403.2" font-family="Liberation Serif" font-size="11.8" fill="#f3dede" text-anchor="middle" stroke="#f3dede" stroke-width="0.28">HBeAg*</text>
<text x="750.5" y="430.3" font-family="Liberation Serif" font-size="11.8" fill="#f3dede" text-anchor="middle" stroke="#f3dede" stroke-width="0.28">p22Cr*</text>
<text x="750.5" y="451.9" font-family="Liberation Serif" font-size="11.8" fill="#f3dede" text-anchor="middle" stroke="#f3dede" stroke-width="0.28">HBcAg*</text>
<rect x="716" y="486" width="54.39999999999998" height="19.69999999999999" fill="#ffffff"/>
<text x="727" y="497.8" font-family="Liberation Serif" font-size="11.8" fill="#111" text-anchor="start" stroke="#111" stroke-width="0.28">*HBcrAg</text>
</svg>
<div class="t" id="cap">HBV<span class="c">复制周期及相应血清病毒学检测指标图</span></div>
<div id="box"></div>
<div class="bt" style="left:822px;top:110px;font-size:23px"><span style="font-size:22px">血清</span><b>HBV RNA</b><span style="position:absolute;left:152px;top:0px;font-size:21px">:</span></div>
<div class="bt y" style="left:822px;top:151px;font-size:21px">1.<span style="position:absolute;left:31px;top:0;font-size:22px">存在形式</span><span style="position:absolute;left:124px;top:0;font-size:21px">:</span></div>
<div class="bt" style="left:847px;top:185px;font-size:18.5px;font-weight:bold">HBV RNA<span style="font-size:18px">病毒样颗粒</span></div>
<div class="bt y" style="left:822px;top:218px;font-size:21px">2.<span style="position:absolute;left:31px;top:0;font-size:22px">来源</span><span style="position:absolute;left:80px;top:0;font-size:21px">:</span></div>
<div class="bt" style="left:859px;top:253px;font-size:17px"><span class="c18">转录自</span>cccDNA<span class="c18">的</span>pgRNA</div>
<div class="bt" style="left:822px;top:277px;font-size:17px"><span class="c18">及其残余</span></div>
<div class="bt y" style="left:822px;top:308px;font-size:21px">3.<span style="position:absolute;left:31px;top:0;font-size:22px">特点</span><span style="position:absolute;left:80px;top:0;font-size:21px">:</span></div>
<div class="bt" style="left:821px;top:339px;font-size:17px"><span class="c18">①</span><span style="position:absolute;left:28px;top:0">HBV RNA<span class="c18">是更靠近源头</span></span></div>
<div class="bt" style="left:849px;top:360px;font-size:17px">cccDNA<span class="c18">的指标</span></div>
<svg width="60" height="6" style="position:absolute;left:849px;top:376px" viewBox="0 0 60 6"><path d="M0,3 L1,1.5 L3,4.5 L5,1.5 L7,4.5 L9,1.5 L11,4.5 L13,1.5 L15,4.5 L17,1.5 L19,4.5 L21,1.5 L23,4.5 L25,1.5 L27,4.5 L29,1.5 L31,4.5 L33,1.5 L35,4.5 L37,1.5 L39,4.5 L41,1.5 L43,4.5 L45,1.5 L47,4.5 L49,1.5 L51,4.5 L53,1.5 L55,4.5 L57,1.5" fill="none" stroke="#e02020" stroke-width="1"/></svg>
<div class="bt" style="left:821px;top:389px;font-size:17px"><span class="c18">②</span><span style="position:absolute;left:28px;top:0"><span class="c18">形成与释放</span><span class="y"><span class="c18">不受</span>NAs<span class="c18">药物</span></span></span></div>
<div class="bt y" style="left:849px;top:410px;font-size:17px"><span class="c18">直接抑制</span></div>
<div class="t" id="ref">鲁凤民，庄辉等. 中华肝脏病学杂志. 2022. 04</div>
<div id="redline"></div>
<div id="grayline"></div>
<div class="t" id="pn">15</div>
</body></html>
